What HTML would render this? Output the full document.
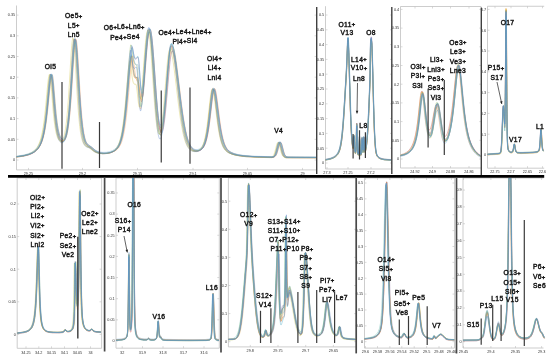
<!DOCTYPE html>
<html><head><meta charset="utf-8"><style>
html,body{margin:0;padding:0;background:#fff;width:550px;height:359px;overflow:hidden}
svg{display:block;font-family:"Liberation Sans", sans-serif}
text{-webkit-font-smoothing:antialiased}
.t{will-change:transform}
</style></head><body>
<svg width="550" height="359" viewBox="0 0 550 359">
<defs><clipPath id="c0"><rect x="15.5" y="5.5" width="301.5" height="353.5"/></clipPath><clipPath id="c1"><rect x="324.5" y="6.2" width="67.5" height="352.8"/></clipPath><clipPath id="c2"><rect x="399.5" y="6.5" width="82.0" height="352.5"/></clipPath><clipPath id="c3"><rect x="486.5" y="6.25" width="58.0" height="352.75"/></clipPath><clipPath id="c4"><rect x="16.2" y="178" width="85.8" height="181"/></clipPath><clipPath id="c5"><rect x="115" y="178" width="105" height="181"/></clipPath><clipPath id="c6"><rect x="227.4" y="178" width="129.1" height="181"/></clipPath><clipPath id="c7"><rect x="363.5" y="178" width="91.80000000000001" height="181"/></clipPath><clipPath id="c8"><rect x="462" y="178" width="83.5" height="181"/></clipPath></defs>
<rect width="550" height="359" fill="#fff"/>
<g style="filter:grayscale(1)">
<line x1="16.5" y1="5.5" x2="16.5" y2="169.9" stroke="#c0c0c0" stroke-width="0.8"/>
<line x1="16.5" y1="169.9" x2="316.6" y2="169.9" stroke="#c0c0c0" stroke-width="0.8"/>
<line x1="16.5" y1="15.1" x2="18.5" y2="15.1" stroke="#c0c0c0" stroke-width="0.6"/>
<line x1="314.6" y1="15.1" x2="316.6" y2="15.1" stroke="#c0c0c0" stroke-width="0.6"/>
<text x="15.2" y="16.4" font-size="3.8" text-anchor="end" fill="#333">0.35</text>
<line x1="16.5" y1="35.8" x2="18.5" y2="35.8" stroke="#c0c0c0" stroke-width="0.6"/>
<line x1="314.6" y1="35.8" x2="316.6" y2="35.8" stroke="#c0c0c0" stroke-width="0.6"/>
<text x="15.2" y="37.099999999999994" font-size="3.8" text-anchor="end" fill="#333">0.3</text>
<line x1="16.5" y1="56.5" x2="18.5" y2="56.5" stroke="#c0c0c0" stroke-width="0.6"/>
<line x1="314.6" y1="56.5" x2="316.6" y2="56.5" stroke="#c0c0c0" stroke-width="0.6"/>
<text x="15.2" y="57.8" font-size="3.8" text-anchor="end" fill="#333">0.25</text>
<line x1="16.5" y1="77.2" x2="18.5" y2="77.2" stroke="#c0c0c0" stroke-width="0.6"/>
<line x1="314.6" y1="77.2" x2="316.6" y2="77.2" stroke="#c0c0c0" stroke-width="0.6"/>
<text x="15.2" y="78.5" font-size="3.8" text-anchor="end" fill="#333">0.2</text>
<line x1="16.5" y1="97.9" x2="18.5" y2="97.9" stroke="#c0c0c0" stroke-width="0.6"/>
<line x1="314.6" y1="97.9" x2="316.6" y2="97.9" stroke="#c0c0c0" stroke-width="0.6"/>
<text x="15.2" y="99.2" font-size="3.8" text-anchor="end" fill="#333">0.15</text>
<line x1="16.5" y1="118.6" x2="18.5" y2="118.6" stroke="#c0c0c0" stroke-width="0.6"/>
<line x1="314.6" y1="118.6" x2="316.6" y2="118.6" stroke="#c0c0c0" stroke-width="0.6"/>
<text x="15.2" y="119.89999999999999" font-size="3.8" text-anchor="end" fill="#333">0.1</text>
<line x1="16.5" y1="139.3" x2="18.5" y2="139.3" stroke="#c0c0c0" stroke-width="0.6"/>
<line x1="314.6" y1="139.3" x2="316.6" y2="139.3" stroke="#c0c0c0" stroke-width="0.6"/>
<text x="15.2" y="140.60000000000002" font-size="3.8" text-anchor="end" fill="#333">0.05</text>
<line x1="16.5" y1="160.0" x2="18.5" y2="160.0" stroke="#c0c0c0" stroke-width="0.6"/>
<line x1="314.6" y1="160.0" x2="316.6" y2="160.0" stroke="#c0c0c0" stroke-width="0.6"/>
<text x="15.2" y="161.3" font-size="3.8" text-anchor="end" fill="#333">0</text>
<line x1="28.5" y1="169.9" x2="28.5" y2="167.9" stroke="#c0c0c0" stroke-width="0.6"/>
<text x="28.5" y="174.5" font-size="3.8" text-anchor="middle" fill="#333">29.25</text>
<line x1="82.5" y1="169.9" x2="82.5" y2="167.9" stroke="#c0c0c0" stroke-width="0.6"/>
<text x="82.5" y="174.5" font-size="3.8" text-anchor="middle" fill="#333">29.2</text>
<line x1="137.5" y1="169.9" x2="137.5" y2="167.9" stroke="#c0c0c0" stroke-width="0.6"/>
<text x="137.5" y="174.5" font-size="3.8" text-anchor="middle" fill="#333">29.15</text>
<line x1="193" y1="169.9" x2="193" y2="167.9" stroke="#c0c0c0" stroke-width="0.6"/>
<text x="193" y="174.5" font-size="3.8" text-anchor="middle" fill="#333">29.1</text>
<line x1="247.5" y1="169.9" x2="247.5" y2="167.9" stroke="#c0c0c0" stroke-width="0.6"/>
<text x="247.5" y="174.5" font-size="3.8" text-anchor="middle" fill="#333">29.05</text>
<line x1="302.5" y1="169.9" x2="302.5" y2="167.9" stroke="#c0c0c0" stroke-width="0.6"/>
<text x="302.5" y="174.5" font-size="3.8" text-anchor="middle" fill="#333">29</text>
</g>
<g clip-path="url(#c0)">
<polyline points="16.50,157.2 23.75,156.2 28.50,155.0 32.00,153.6 34.50,152.1 36.50,150.4 38.00,148.7 39.25,146.8 40.50,144.4 41.50,142.0 42.25,139.7 43.00,137.0 43.75,133.8 44.50,129.9 45.00,126.9 45.50,123.6 46.00,119.9 46.50,115.8 47.00,111.3 47.75,103.9 49.00,90.9 49.50,86.1 49.75,83.9 50.00,81.9 50.25,80.1 50.50,78.7 50.75,77.6 51.00,76.8 51.25,76.4 51.50,76.5 51.75,77.1 52.00,78.2 52.25,79.9 52.50,82.0 52.75,84.4 53.00,87.2 53.50,93.1 54.25,102.4 54.75,108.2 55.25,113.5 55.75,118.2 56.25,122.4 56.75,126.0 57.25,129.0 57.75,131.6 58.25,133.8 58.75,135.7 59.50,137.8 60.25,139.3 61.00,140.4 61.75,141.0 62.50,141.2 63.25,141.0 64.00,140.4 64.75,139.2 65.25,138.0 65.75,136.6 66.25,134.7 66.75,132.4 67.25,129.6 67.75,126.3 68.25,122.3 68.50,120.1 68.75,117.8 69.00,115.2 69.25,112.5 69.50,109.6 69.75,106.5 70.00,103.3 70.50,96.4 71.00,88.9 71.50,80.9 72.50,64.5 73.00,56.7 73.25,53.1 73.50,49.7 73.75,46.7 74.00,44.2 74.25,42.0 74.50,40.5 74.75,39.5 75.00,39.0 75.25,39.2 75.50,40.1 75.75,41.5 76.00,43.6 76.25,46.1 76.50,49.1 76.75,52.5 77.00,56.2 77.25,60.1 77.75,68.4 78.75,85.4 79.25,93.5 79.75,101.0 80.00,104.6 80.25,107.9 80.50,111.1 80.75,114.1 81.00,117.0 81.25,119.6 81.50,122.1 81.75,124.4 82.00,126.5 82.50,130.3 83.00,133.5 83.50,136.2 84.00,138.4 84.50,140.3 85.25,142.4 86.00,143.9 86.75,144.9 88.00,146.0 90.75,147.7 94.75,151.1 97.00,152.4 99.75,153.3 103.25,153.7 107.00,153.5 110.50,152.8 113.25,151.6 115.25,150.3 116.75,148.9 118.00,147.2 119.00,145.4 120.00,143.0 120.75,140.8 121.50,138.1 122.25,134.8 123.00,130.9 123.50,127.9 124.00,124.6 124.50,120.9 125.00,116.8 125.50,112.3 126.00,107.5 126.50,102.4 127.25,94.0 128.75,76.5 129.25,71.0 129.75,65.9 130.00,63.5 130.25,61.4 130.50,59.4 130.75,57.6 131.00,56.4 131.25,56.0 131.50,56.5 131.75,57.6 132.00,59.2 132.25,61.1 133.00,67.4 133.25,69.4 133.50,71.1 133.75,72.7 134.00,74.0 134.25,75.1 134.50,76.0 134.75,76.7 135.00,77.2 135.50,77.7 136.00,77.8 137.50,77.0 137.75,77.4 138.00,78.3 138.25,79.7 138.50,81.5 138.75,83.6 139.25,88.4 139.75,93.2 140.00,95.5 140.25,97.4 140.50,99.1 140.75,100.3 141.00,101.2 141.25,101.6 141.50,101.5 141.75,101.0 142.00,100.1 142.25,98.8 142.50,97.1 142.75,95.1 143.00,92.8 143.25,90.2 143.50,87.4 144.00,81.4 145.00,68.3 145.75,58.6 146.25,52.5 146.75,47.0 147.00,44.5 147.25,42.2 147.50,40.1 147.75,38.2 148.00,36.6 148.25,35.1 148.50,34.0 148.75,33.1 149.00,32.4 149.25,32.1 149.50,32.0 149.75,32.2 150.00,32.6 150.25,33.4 150.50,34.5 150.75,35.8 151.00,37.4 151.25,39.2 151.50,41.3 151.75,43.6 152.00,46.1 152.25,48.8 152.75,54.8 153.25,61.2 154.00,71.5 155.25,89.1 155.75,95.8 156.25,102.2 156.75,108.0 157.25,113.4 157.50,115.8 157.75,118.1 158.00,120.2 158.25,122.1 158.50,123.8 158.75,125.4 159.00,126.8 159.25,128.0 159.50,129.0 159.75,129.8 160.00,130.5 160.25,130.9 160.50,131.2 160.75,131.2 161.00,131.1 161.25,130.8 161.50,130.3 161.75,129.7 162.00,128.8 162.25,127.8 162.50,126.7 162.75,125.3 163.00,123.8 163.50,120.3 164.00,116.2 164.50,111.5 165.00,106.4 165.50,100.8 166.25,91.9 167.75,73.2 168.25,67.2 168.75,61.6 169.00,59.1 169.25,56.6 169.50,54.4 169.75,52.4 170.00,50.6 170.25,49.0 170.50,47.7 170.75,46.7 171.00,46.0 171.25,45.5 171.50,45.4 172.00,45.7 172.50,46.5 173.00,47.9 173.50,49.7 174.00,52.1 174.50,54.8 175.00,57.9 175.75,63.1 176.50,68.9 177.50,77.1 179.75,96.3 180.75,104.4 181.75,111.9 182.50,117.2 183.25,122.0 184.00,126.4 184.75,130.3 185.50,133.8 186.25,136.9 187.00,139.6 188.00,142.6 189.00,145.0 190.00,146.9 191.25,148.6 192.50,149.8 194.00,150.7 195.75,151.2 197.75,151.2 199.75,150.6 201.25,149.6 202.50,148.4 203.50,146.9 204.25,145.4 205.00,143.5 205.75,141.1 206.50,138.2 207.25,134.5 207.75,131.7 208.25,128.5 208.75,125.0 209.50,119.2 210.25,112.8 211.50,101.8 212.00,97.7 212.25,95.9 212.50,94.2 212.75,92.8 213.00,91.6 213.25,90.6 213.50,90.0 213.75,89.6 214.00,89.6 214.25,89.8 214.50,90.3 214.75,91.0 215.00,91.9 215.25,93.1 215.50,94.4 216.00,97.6 216.50,101.2 217.75,111.1 218.75,118.9 219.50,124.2 220.25,129.1 221.00,133.3 221.75,137.0 222.50,140.1 223.25,142.7 224.00,144.8 225.00,147.1 226.00,148.9 227.25,150.5 229.00,152.1 231.25,153.5 234.50,154.7 239.25,155.8 246.50,156.7 259.00,157.4 272.00,157.6 273.50,157.3 274.25,156.8 275.00,155.8 275.75,154.1 276.50,151.8 278.00,146.0 278.50,144.4 279.00,143.3 279.25,143.0 279.50,142.9 279.75,142.9 280.00,143.2 280.25,143.6 280.75,144.9 281.25,146.6 282.50,151.6 283.25,154.1 283.75,155.4 284.50,156.6 285.25,157.3 286.50,157.8 294.50,157.9 316.00,158.0" fill="none" stroke="#c0504d" stroke-width="0.45" stroke-opacity="0.9"/>
<polyline points="16.50,156.7 23.75,155.7 28.75,154.4 32.25,153.1 35.00,151.5 37.00,149.9 38.75,147.9 40.00,146.0 41.00,144.1 42.00,141.7 42.75,139.6 43.50,137.0 44.25,133.9 45.00,130.2 45.50,127.3 46.00,124.1 46.50,120.6 47.00,116.7 47.50,112.3 48.00,107.6 48.75,100.0 49.75,89.5 50.25,84.6 50.50,82.4 50.75,80.4 51.00,78.6 51.25,77.2 51.50,76.0 51.75,75.2 52.00,74.8 52.25,74.8 52.50,75.4 52.75,76.5 53.00,78.1 53.25,80.1 53.50,82.6 53.75,85.3 54.25,91.2 55.25,103.5 55.75,109.2 56.25,114.3 56.75,118.9 57.25,122.8 57.75,126.2 58.25,129.1 58.75,131.6 59.25,133.6 60.00,136.1 60.75,137.9 61.50,139.2 62.25,140.0 63.00,140.4 63.75,140.3 64.50,139.9 65.25,138.9 66.00,137.4 66.50,135.9 67.00,134.1 67.50,131.9 68.00,129.1 68.50,125.9 69.00,122.0 69.25,119.9 69.50,117.5 69.75,115.1 70.00,112.4 70.25,109.6 70.50,106.6 70.75,103.4 71.25,96.6 71.75,89.2 72.25,81.4 73.50,61.2 73.75,57.4 74.00,53.7 74.25,50.4 74.50,47.3 74.75,44.6 75.00,42.4 75.25,40.7 75.50,39.5 75.75,38.9 76.00,39.0 76.25,39.6 76.50,40.8 76.75,42.7 77.00,45.0 77.25,47.8 77.50,51.0 77.75,54.6 78.00,58.4 78.50,66.5 79.50,83.4 80.00,91.5 80.50,99.0 80.75,102.6 81.00,106.0 81.25,109.2 81.50,112.3 81.75,115.2 82.00,117.9 82.25,120.4 82.50,122.8 82.75,125.0 83.25,128.9 83.75,132.2 84.25,135.0 84.75,137.3 85.25,139.2 86.00,141.4 86.75,143.0 87.50,144.1 88.50,145.1 91.75,147.2 95.50,150.4 97.75,151.8 100.50,152.7 104.00,153.2 107.75,153.1 111.25,152.4 114.00,151.4 116.25,150.1 117.75,148.8 119.00,147.2 120.00,145.6 121.00,143.5 121.75,141.5 122.50,139.0 123.25,136.1 124.00,132.5 124.50,129.8 125.00,126.7 125.50,123.3 126.00,119.5 126.50,115.3 127.00,110.8 127.50,105.8 128.00,100.6 128.75,92.1 130.25,74.5 130.75,69.1 131.25,64.1 131.50,61.9 131.75,59.8 132.00,58.0 132.25,56.5 132.50,55.8 132.75,56.0 133.00,56.9 133.25,58.3 133.50,60.1 134.00,64.4 134.50,68.7 134.75,70.6 135.00,72.5 135.25,74.1 135.50,75.6 135.75,76.8 136.00,77.9 136.25,78.8 136.75,80.1 137.25,81.0 138.25,81.8 138.50,82.5 138.75,83.5 139.00,84.8 139.25,86.4 140.25,93.8 140.50,95.4 140.75,96.9 141.00,98.1 141.25,98.9 141.50,99.4 141.75,99.5 142.00,99.2 142.25,98.5 142.50,97.4 142.75,96.0 143.00,94.2 143.25,92.1 143.50,89.7 143.75,87.0 144.00,84.2 144.50,78.1 146.00,58.4 146.50,52.2 147.00,46.4 147.25,43.8 147.50,41.3 147.75,39.0 148.00,36.9 148.25,35.0 148.50,33.4 148.75,32.0 149.00,30.9 149.25,30.0 149.50,29.4 149.75,29.1 150.00,29.0 150.25,29.3 150.50,29.8 150.75,30.6 151.00,31.7 151.25,33.1 151.50,34.7 151.75,36.6 152.00,38.7 152.25,41.1 152.50,43.7 152.75,46.4 153.25,52.4 153.75,59.0 154.50,69.4 155.75,87.3 156.25,94.1 156.75,100.6 157.25,106.6 157.75,112.1 158.00,114.6 158.25,116.9 158.50,119.1 158.75,121.1 159.00,123.0 159.25,124.6 159.50,126.1 159.75,127.4 160.00,128.5 160.25,129.4 160.50,130.2 160.75,130.7 161.00,131.1 161.25,131.3 161.50,131.3 161.75,131.1 162.00,130.8 162.25,130.3 162.50,129.6 162.75,128.7 163.00,127.7 163.25,126.5 163.75,123.6 164.25,120.1 164.75,116.0 165.25,111.4 165.75,106.3 166.25,100.8 167.00,92.1 168.50,73.8 169.00,68.0 169.50,62.5 170.00,57.6 170.25,55.4 170.50,53.4 170.75,51.7 171.00,50.1 171.25,48.9 171.50,47.8 171.75,47.1 172.00,46.7 172.25,46.5 172.75,46.8 173.25,47.6 173.75,48.9 174.25,50.7 174.75,52.9 175.25,55.5 175.75,58.5 176.50,63.6 177.25,69.2 178.25,77.3 180.75,98.0 181.75,105.8 182.75,113.1 183.50,118.1 184.25,122.8 185.00,127.0 185.75,130.7 186.50,134.1 187.25,137.0 188.00,139.6 189.00,142.4 190.00,144.7 191.00,146.5 192.25,148.1 193.50,149.3 195.00,150.1 196.75,150.5 198.75,150.4 200.50,149.8 202.00,148.8 203.25,147.5 204.25,145.9 205.00,144.4 205.75,142.4 206.50,139.9 207.25,136.8 208.00,133.1 208.50,130.2 209.00,127.0 209.75,121.5 210.50,115.4 212.25,100.0 212.75,96.1 213.00,94.3 213.25,92.7 213.50,91.3 213.75,90.2 214.00,89.3 214.25,88.8 214.50,88.5 214.75,88.6 215.00,88.9 215.25,89.4 215.50,90.2 215.75,91.2 216.00,92.4 216.50,95.3 217.00,98.8 217.75,104.5 219.25,116.5 220.00,122.0 220.75,127.0 221.50,131.4 222.25,135.2 223.00,138.5 223.75,141.2 224.50,143.5 225.50,145.9 226.50,147.8 227.75,149.6 229.25,151.1 231.25,152.4 234.25,153.7 238.50,154.9 245.00,155.9 255.75,156.6 272.75,157.1 274.25,156.8 275.25,156.3 276.00,155.3 276.75,153.8 277.50,151.6 279.25,145.0 279.75,143.6 280.25,142.6 280.50,142.4 280.75,142.4 281.00,142.5 281.25,142.9 281.75,144.0 282.25,145.7 283.75,151.5 284.50,153.8 285.00,155.0 285.75,156.1 286.50,156.8 287.75,157.2 300.75,157.3 316.00,157.4" fill="none" stroke="#f79646" stroke-width="0.45" stroke-opacity="0.9"/>
<polyline points="16.50,156.5 23.25,155.4 27.75,154.2 31.00,152.8 33.50,151.2 35.25,149.6 36.75,147.8 38.00,145.8 39.00,143.7 40.00,141.1 40.75,138.7 41.50,135.9 42.25,132.4 42.75,129.7 43.25,126.7 43.75,123.2 44.25,119.4 44.75,115.2 45.25,110.5 45.75,105.4 46.50,97.3 47.25,89.1 47.75,84.0 48.00,81.7 48.25,79.6 48.50,77.8 48.75,76.4 49.00,75.3 49.25,74.6 49.50,74.3 49.75,74.6 50.00,75.5 50.25,76.9 50.50,78.9 50.75,81.3 51.00,84.1 51.25,87.1 52.50,103.2 53.00,109.2 53.50,114.6 53.75,117.0 54.25,121.4 54.75,125.2 55.25,128.5 55.75,131.2 56.25,133.5 56.75,135.4 57.50,137.6 58.25,139.2 59.00,140.3 59.75,141.0 60.50,141.3 61.25,141.1 62.00,140.6 62.75,139.5 63.50,137.8 64.00,136.2 64.50,134.3 65.00,131.8 65.50,128.9 66.00,125.3 66.25,123.3 66.50,121.1 66.75,118.7 67.00,116.1 67.25,113.4 67.50,110.5 67.75,107.4 68.00,104.1 68.25,100.6 68.50,97.0 69.00,89.3 69.50,81.0 70.50,63.9 70.75,59.8 71.00,55.8 71.25,52.0 71.50,48.6 71.75,45.5 72.00,42.9 72.25,40.8 72.50,39.2 72.75,38.3 73.00,38.0 73.25,38.4 73.50,39.5 73.75,41.3 74.00,43.6 74.25,46.5 74.50,49.8 74.75,53.5 75.00,57.5 75.50,66.0 76.50,83.7 77.00,92.2 77.25,96.2 77.50,100.1 77.75,103.8 78.00,107.3 78.25,110.6 78.50,113.8 78.75,116.7 79.00,119.4 79.25,122.0 79.50,124.4 79.75,126.6 80.00,128.6 80.50,132.2 81.00,135.2 81.50,137.6 82.00,139.6 82.50,141.3 83.25,143.2 84.00,144.5 85.00,145.7 86.25,146.5 88.75,147.5 90.50,148.9 93.25,151.1 95.50,152.4 98.25,153.2 101.75,153.6 105.75,153.4 109.25,152.7 112.00,151.7 114.00,150.5 115.50,149.2 116.75,147.6 117.75,145.9 118.75,143.8 119.50,141.7 120.25,139.1 121.00,136.1 121.75,132.3 122.25,129.5 122.75,126.2 123.25,122.7 123.75,118.7 124.25,114.4 124.75,109.6 125.25,104.6 126.00,96.4 127.50,79.2 128.00,73.9 128.50,69.0 128.75,66.8 129.00,64.8 129.25,63.0 129.50,61.6 129.75,60.9 130.00,61.2 130.25,62.1 130.50,63.7 130.75,65.6 131.50,72.2 131.75,74.3 132.00,76.2 132.25,77.9 132.50,79.3 132.75,80.6 133.00,81.6 133.25,82.4 133.50,83.1 134.00,83.9 134.50,84.2 135.75,84.2 136.00,84.5 136.25,85.2 136.50,86.5 136.75,88.2 137.00,90.1 137.50,94.7 138.00,99.4 138.25,101.5 138.50,103.4 138.75,104.9 139.00,106.1 139.25,106.8 139.50,107.1 139.75,106.9 140.00,106.3 140.25,105.2 140.50,103.7 140.75,101.9 141.00,99.7 141.25,97.2 141.50,94.5 141.75,91.5 142.25,85.1 143.00,74.7 144.00,60.6 144.50,54.0 145.00,48.0 145.25,45.2 145.50,42.6 145.75,40.2 146.00,38.0 146.25,36.1 146.50,34.4 146.75,33.0 147.00,31.9 147.25,31.0 147.50,30.5 147.75,30.2 148.00,30.3 148.25,30.6 148.50,31.3 148.75,32.3 149.00,33.6 149.25,35.2 149.50,37.1 149.75,39.2 150.00,41.6 150.25,44.2 150.50,47.0 150.75,50.0 151.25,56.5 151.75,63.6 153.50,89.4 154.00,96.5 154.50,103.2 155.00,109.4 155.50,115.0 155.75,117.5 156.00,119.9 156.25,122.1 156.50,124.1 156.75,126.0 157.00,127.6 157.25,129.1 157.50,130.4 157.75,131.5 158.00,132.4 158.25,133.1 158.50,133.6 158.75,133.9 159.00,134.1 159.25,134.0 159.50,133.8 159.75,133.4 160.00,132.9 160.25,132.1 160.50,131.2 160.75,130.1 161.00,128.9 161.50,125.9 162.00,122.2 162.50,118.0 163.00,113.3 163.50,108.1 164.00,102.4 164.75,93.4 166.25,74.9 166.75,69.0 167.25,63.7 167.50,61.2 167.75,58.9 168.00,56.9 168.25,55.0 168.50,53.4 168.75,52.1 169.00,51.1 169.25,50.3 169.50,49.9 169.75,49.7 170.25,50.0 170.75,50.9 171.25,52.3 171.75,54.2 172.25,56.6 172.75,59.3 173.25,62.5 174.00,67.8 174.75,73.6 176.00,84.0 177.75,98.7 178.75,106.7 179.50,112.3 180.25,117.6 181.00,122.4 181.75,126.8 182.50,130.8 183.25,134.3 184.00,137.3 184.75,140.0 185.50,142.3 186.50,144.7 187.50,146.7 188.75,148.5 190.00,149.8 191.50,150.7 193.25,151.3 195.50,151.3 197.50,150.8 199.25,149.9 200.50,148.9 201.50,147.6 202.50,145.9 203.25,144.1 204.00,141.9 204.75,139.0 205.25,136.8 205.75,134.2 206.25,131.3 206.75,128.0 207.25,124.4 208.00,118.3 208.75,111.6 209.75,102.5 210.25,98.2 210.50,96.3 210.75,94.5 211.00,93.0 211.25,91.7 211.50,90.6 211.75,89.9 212.00,89.5 212.25,89.5 212.50,89.7 212.75,90.2 213.00,90.9 213.25,91.9 213.50,93.1 213.75,94.5 214.25,97.8 214.75,101.5 216.50,115.8 217.25,121.6 218.00,126.8 218.75,131.4 219.50,135.4 220.25,138.8 221.00,141.6 221.75,143.9 222.50,145.8 223.50,147.8 224.75,149.6 226.25,151.2 228.25,152.6 231.00,153.8 235.25,155.0 241.50,155.9 252.00,156.6 270.00,157.1 271.75,156.9 272.75,156.3 273.50,155.3 274.00,154.3 274.50,153.0 275.25,150.3 276.50,145.3 277.00,143.7 277.25,143.1 277.50,142.7 277.75,142.4 278.00,142.3 278.25,142.5 278.50,142.8 278.75,143.3 279.25,144.8 280.00,147.8 281.00,151.8 281.50,153.5 282.00,154.8 282.50,155.7 283.25,156.6 284.25,157.1 286.75,157.3 316.00,157.4" fill="none" stroke="#d4c84a" stroke-width="0.45" stroke-opacity="0.9"/>
<polyline points="16.50,157.1 23.25,156.0 27.75,154.8 31.00,153.4 33.50,151.9 35.50,150.2 37.00,148.4 38.25,146.5 39.25,144.6 40.25,142.2 41.00,140.0 41.75,137.4 42.50,134.2 43.25,130.5 43.75,127.6 44.25,124.3 44.75,120.7 45.25,116.7 45.75,112.3 46.25,107.5 47.00,99.8 48.00,89.1 48.50,84.1 48.75,81.9 49.00,79.9 49.25,78.1 49.50,76.6 49.75,75.5 50.00,74.8 50.25,74.4 50.50,74.4 50.75,75.1 51.00,76.3 51.25,78.0 51.50,80.2 51.75,82.7 52.00,85.5 52.50,91.6 53.25,101.1 53.75,107.0 54.25,112.5 54.75,117.4 55.25,121.6 55.75,125.3 56.25,128.5 56.75,131.2 57.25,133.5 57.75,135.3 58.50,137.6 59.25,139.2 60.00,140.4 60.75,141.1 61.50,141.5 62.25,141.4 63.00,141.0 63.75,140.0 64.50,138.5 65.00,137.1 65.50,135.4 66.00,133.2 66.50,130.6 67.00,127.4 67.50,123.6 67.75,121.5 68.00,119.2 68.25,116.8 68.50,114.2 68.75,111.4 69.00,108.5 69.25,105.4 69.75,98.6 70.25,91.3 70.75,83.5 72.00,63.1 72.25,59.2 72.50,55.4 72.75,51.9 73.00,48.7 73.25,45.9 73.50,43.5 73.75,41.6 74.00,40.2 74.25,39.4 74.50,39.2 74.75,39.6 75.00,40.6 75.25,42.3 75.50,44.5 75.75,47.2 76.00,50.3 76.25,53.7 76.50,57.5 77.00,65.6 78.25,86.7 78.75,94.7 79.25,102.1 79.50,105.6 79.75,108.9 80.00,112.0 80.25,114.9 80.50,117.7 80.75,120.3 81.00,122.7 81.25,125.0 81.75,129.0 82.25,132.4 82.75,135.2 83.25,137.6 83.75,139.5 84.25,141.1 85.00,143.0 85.75,144.2 86.75,145.4 88.50,146.6 90.50,147.9 94.00,151.0 96.25,152.3 99.00,153.2 102.25,153.6 106.00,153.5 109.50,152.8 112.25,151.7 114.25,150.5 116.00,148.9 117.25,147.2 118.25,145.5 119.25,143.2 120.00,141.1 120.75,138.5 121.50,135.3 122.25,131.5 122.75,128.5 123.25,125.2 123.75,121.5 124.25,117.4 124.75,112.9 125.25,108.0 125.75,102.6 126.25,96.8 127.00,87.4 128.50,67.7 129.00,61.3 129.50,55.5 129.75,52.8 130.00,50.3 130.25,48.0 130.50,46.0 130.75,45.0 131.00,44.8 131.25,45.4 131.50,46.5 131.75,48.0 132.75,55.3 133.00,57.0 133.25,58.5 133.50,59.8 133.75,60.9 134.00,61.8 134.50,63.1 135.00,63.9 135.75,64.4 136.50,64.8 136.75,65.3 137.00,66.4 137.25,68.1 137.50,70.3 137.75,72.9 138.00,75.8 138.75,85.2 139.00,88.2 139.25,90.9 139.50,93.3 139.75,95.3 140.00,96.8 140.25,97.9 140.50,98.4 140.75,98.5 141.00,98.0 141.25,97.1 141.50,95.7 141.75,94.0 142.00,91.9 142.25,89.5 142.50,86.9 142.75,84.0 143.25,77.8 144.75,58.0 145.25,51.7 145.75,46.0 146.00,43.3 146.25,40.9 146.50,38.6 146.75,36.6 147.00,34.8 147.25,33.2 147.50,31.9 147.75,30.8 148.00,30.0 148.25,29.5 148.50,29.2 148.75,29.3 149.00,29.6 149.25,30.2 149.50,31.2 149.75,32.4 150.00,33.8 150.25,35.6 150.50,37.6 150.75,39.8 151.00,42.2 151.25,44.9 151.50,47.7 152.00,53.9 152.50,60.6 153.25,71.2 154.50,89.2 155.00,96.0 155.50,102.5 156.00,108.4 156.50,113.8 156.75,116.3 157.00,118.6 157.25,120.7 157.50,122.7 157.75,124.5 158.00,126.1 158.25,127.5 158.50,128.8 158.75,129.8 159.00,130.7 159.25,131.4 159.50,131.9 159.75,132.2 160.00,132.3 160.25,132.3 160.50,132.1 160.75,131.7 161.00,131.1 161.25,130.4 161.50,129.4 161.75,128.4 162.25,125.7 162.75,122.4 163.25,118.6 163.75,114.2 164.25,109.3 164.75,104.0 165.50,95.4 167.25,74.4 167.75,68.7 168.25,63.4 168.50,60.9 168.75,58.7 169.00,56.6 169.25,54.7 169.50,53.1 169.75,51.7 170.00,50.5 170.25,49.6 170.50,49.0 170.75,48.7 171.25,48.8 171.75,49.5 172.25,50.6 172.75,52.3 173.25,54.4 173.75,56.9 174.25,59.8 175.00,64.7 175.75,70.2 176.75,78.1 179.25,98.6 180.25,106.4 181.25,113.7 182.00,118.7 182.75,123.4 183.50,127.6 184.25,131.3 185.00,134.7 185.75,137.6 186.50,140.2 187.50,143.0 188.50,145.3 189.50,147.1 190.75,148.8 192.00,149.9 193.50,150.7 195.25,151.1 197.25,151.0 199.00,150.4 200.50,149.3 201.75,148.0 202.75,146.3 203.50,144.7 204.25,142.7 205.00,140.1 205.75,136.9 206.25,134.4 206.75,131.5 207.25,128.4 207.75,124.9 208.50,119.0 209.25,112.6 210.50,101.6 211.00,97.5 211.25,95.7 211.50,94.0 211.75,92.6 212.00,91.4 212.25,90.4 212.50,89.8 212.75,89.4 213.00,89.4 213.25,89.6 213.50,90.1 213.75,90.8 214.00,91.8 214.25,92.9 214.50,94.2 215.00,97.4 215.50,101.0 216.75,110.9 217.75,118.7 218.50,124.1 219.25,128.9 220.00,133.2 220.75,136.8 221.50,139.9 222.25,142.6 223.00,144.7 224.00,147.0 225.00,148.8 226.25,150.5 227.75,151.9 230.00,153.3 233.25,154.6 238.00,155.7 245.25,156.7 257.50,157.4 271.25,157.6 272.50,157.4 273.25,156.9 274.00,156.0 274.75,154.5 275.50,152.3 276.50,148.5 277.25,145.6 277.75,144.1 278.25,143.1 278.50,142.8 278.75,142.8 279.00,142.9 279.25,143.2 279.75,144.3 280.25,145.9 281.75,151.9 282.25,153.6 282.75,154.9 283.50,156.4 284.25,157.2 285.25,157.7 288.00,157.9 316.00,158.0" fill="none" stroke="#9bbb59" stroke-width="0.45" stroke-opacity="0.9"/>
<polyline points="16.50,156.8 23.75,155.7 28.50,154.6 32.00,153.2 34.50,151.7 36.50,150.1 38.25,148.1 39.50,146.3 40.50,144.4 41.50,142.0 42.25,139.8 43.00,137.2 43.75,134.1 44.50,130.3 45.00,127.5 45.50,124.2 46.00,120.6 46.50,116.6 47.00,112.2 47.50,107.4 48.25,99.7 49.25,89.0 49.75,84.2 50.00,81.9 50.25,80.0 50.50,78.3 50.75,76.9 51.00,75.8 51.25,75.1 51.50,74.8 51.75,75.0 52.00,75.8 52.25,77.1 52.50,78.9 52.75,81.2 53.00,83.8 53.25,86.6 53.75,92.8 54.50,102.2 55.00,108.1 55.50,113.4 56.00,118.2 56.50,122.4 57.00,125.9 57.50,129.0 58.00,131.6 58.50,133.8 59.00,135.6 59.75,137.7 60.50,139.3 61.25,140.4 62.00,141.0 62.75,141.3 63.50,141.2 64.25,140.7 65.00,139.7 65.75,138.1 66.25,136.7 66.75,134.9 67.25,132.6 67.75,129.9 68.25,126.6 68.75,122.7 69.00,120.5 69.25,118.2 69.50,115.7 69.75,113.0 70.00,110.2 70.25,107.1 70.50,103.9 71.00,97.1 71.50,89.6 72.00,81.7 73.00,65.3 73.50,57.5 73.75,53.9 74.00,50.5 74.25,47.5 74.50,44.9 74.75,42.8 75.00,41.2 75.25,40.1 75.50,39.7 75.75,39.9 76.00,40.7 76.25,42.1 76.50,44.1 76.75,46.7 77.00,49.6 77.25,53.0 77.50,56.7 77.75,60.6 78.25,68.9 79.25,85.9 79.75,93.9 80.25,101.4 80.50,104.9 80.75,108.2 81.00,111.4 81.25,114.4 81.50,117.2 81.75,119.8 82.00,122.2 82.25,124.5 82.50,126.6 83.00,130.4 83.50,133.5 84.00,136.1 84.50,138.3 85.00,140.1 85.75,142.2 86.50,143.6 87.50,144.9 88.75,145.9 91.25,147.3 95.25,150.7 97.50,152.0 100.25,152.9 103.75,153.3 107.50,153.1 111.00,152.4 113.75,151.3 115.75,150.0 117.25,148.6 118.50,147.0 119.50,145.3 120.50,143.1 121.25,140.9 122.00,138.3 122.75,135.2 123.50,131.4 124.00,128.5 124.50,125.2 125.00,121.6 125.50,117.5 126.00,113.0 126.50,108.2 127.00,102.8 127.50,97.1 128.25,87.9 129.75,68.5 130.25,62.3 130.75,56.6 131.00,53.9 131.25,51.4 131.50,49.2 131.75,47.5 132.00,46.8 132.25,46.8 132.50,47.5 132.75,48.5 133.25,51.4 133.75,54.3 134.00,55.6 134.25,56.7 134.50,57.6 134.75,58.3 135.00,58.8 135.25,59.1 135.75,59.2 136.50,58.6 137.50,57.5 138.00,57.2 138.25,57.7 138.50,58.9 138.75,60.8 139.00,63.4 139.25,66.4 139.50,69.8 140.25,80.9 140.50,84.4 140.75,87.7 141.00,90.6 141.25,93.0 141.50,94.9 141.75,96.2 142.00,97.0 142.25,97.3 142.50,97.0 142.75,96.2 143.00,94.9 143.25,93.3 143.50,91.2 143.75,88.8 144.00,86.2 144.25,83.3 144.75,77.1 146.25,57.2 146.75,51.0 147.25,45.3 147.50,42.7 147.75,40.3 148.00,38.1 148.25,36.1 148.50,34.4 148.75,32.9 149.00,31.7 149.25,30.7 149.50,30.0 149.75,29.6 150.00,29.5 150.25,29.6 150.50,30.1 150.75,30.9 151.00,31.9 151.25,33.2 151.50,34.9 151.75,36.7 152.00,38.9 152.25,41.2 152.50,43.8 152.75,46.6 153.00,49.5 153.50,55.9 154.00,62.7 155.00,77.1 155.75,88.0 156.25,94.9 156.75,101.5 157.25,107.6 157.75,113.2 158.00,115.7 158.25,118.1 158.50,120.4 158.75,122.4 159.00,124.3 159.25,126.0 159.50,127.5 159.75,128.9 160.00,130.0 160.25,131.0 160.50,131.8 160.75,132.4 161.00,132.8 161.25,133.1 161.50,133.2 161.75,133.0 162.00,132.8 162.25,132.3 162.50,131.7 162.75,130.9 163.00,130.0 163.50,127.6 164.00,124.5 164.50,120.9 165.00,116.8 165.50,112.1 166.00,107.0 166.75,98.7 167.75,86.9 168.75,75.1 169.25,69.5 169.75,64.4 170.00,62.0 170.25,59.8 170.50,57.8 170.75,56.1 171.00,54.5 171.25,53.2 171.50,52.2 171.75,51.5 172.00,51.0 172.25,50.8 172.75,51.0 173.25,51.8 173.75,53.0 174.25,54.8 174.75,56.9 175.25,59.5 175.75,62.5 176.50,67.4 177.25,72.9 178.50,82.8 180.50,99.0 181.50,106.7 182.50,113.9 183.25,118.9 184.00,123.4 184.75,127.6 185.50,131.4 186.25,134.7 187.00,137.6 187.75,140.1 188.75,142.9 189.75,145.2 190.75,146.9 192.00,148.6 193.50,149.9 195.25,150.7 197.25,150.9 199.25,150.6 201.00,149.8 202.25,148.8 203.50,147.2 204.50,145.5 205.25,143.7 206.00,141.4 206.75,138.6 207.50,135.2 208.00,132.4 208.50,129.4 209.00,126.0 209.75,120.3 210.50,114.0 212.00,100.6 212.50,96.6 212.75,94.8 213.00,93.1 213.25,91.7 213.50,90.6 213.75,89.7 214.00,89.1 214.25,88.9 214.50,88.9 214.75,89.2 215.00,89.8 215.25,90.6 215.50,91.6 215.75,92.8 216.25,95.8 216.75,99.3 217.50,105.1 218.75,115.2 219.50,120.9 220.25,126.1 221.00,130.7 221.75,134.7 222.50,138.1 223.25,140.9 224.00,143.3 224.75,145.3 225.75,147.4 227.00,149.3 228.50,150.9 230.50,152.4 233.25,153.7 237.25,154.9 243.25,155.9 253.00,156.6 271.00,157.2 273.75,157.1 274.75,156.7 275.50,156.0 276.25,154.8 276.75,153.6 277.50,151.1 279.00,145.3 279.50,143.7 280.00,142.7 280.25,142.4 280.50,142.3 280.75,142.4 281.00,142.6 281.25,143.1 281.75,144.5 282.50,147.3 283.50,151.4 284.00,153.1 284.50,154.5 285.00,155.5 285.75,156.5 286.75,157.1 288.75,157.4 316.00,157.5" fill="none" stroke="#8064a2" stroke-width="0.45" stroke-opacity="0.9"/>
<polyline points="16.50,156.8 23.50,155.8 28.25,154.6 31.75,153.2 34.25,151.7 36.25,150.0 37.75,148.3 39.00,146.4 40.00,144.4 41.00,141.9 41.75,139.6 42.50,136.9 43.25,133.6 43.75,131.0 44.25,128.1 44.75,124.8 45.25,121.1 45.75,117.0 46.25,112.4 46.75,107.5 47.50,99.4 48.50,88.4 49.00,83.4 49.25,81.2 49.50,79.2 49.75,77.5 50.00,76.2 50.25,75.3 50.50,74.7 50.75,74.6 51.00,75.2 51.25,76.3 51.50,78.0 51.75,80.2 52.00,82.8 52.25,85.7 52.75,92.1 53.50,101.9 54.00,108.0 54.50,113.6 54.75,116.2 55.00,118.5 55.50,122.8 56.00,126.5 56.50,129.6 57.00,132.2 57.50,134.4 58.00,136.2 58.75,138.4 59.50,139.9 60.25,141.0 61.00,141.6 61.75,141.9 62.50,141.7 63.25,141.2 64.00,140.2 64.75,138.5 65.25,137.0 65.75,135.1 66.25,132.7 66.75,129.8 67.25,126.4 67.50,124.4 67.75,122.2 68.00,119.9 68.25,117.4 68.50,114.7 68.75,111.9 69.00,108.8 69.25,105.6 69.50,102.1 69.75,98.5 70.25,90.9 70.75,82.7 72.00,61.4 72.25,57.4 72.50,53.6 72.75,50.1 73.00,46.9 73.25,44.2 73.50,42.0 73.75,40.4 74.00,39.4 74.25,39.1 74.50,39.4 74.75,40.4 75.00,42.1 75.25,44.4 75.50,47.2 75.75,50.4 76.00,54.1 76.25,58.1 76.75,66.6 77.75,84.3 78.25,92.8 78.50,96.8 78.75,100.7 79.00,104.4 79.25,107.9 79.50,111.2 79.75,114.3 80.00,117.2 80.25,120.0 80.50,122.5 80.75,124.9 81.00,127.0 81.25,129.1 81.75,132.6 82.25,135.5 82.75,138.0 83.25,140.0 83.75,141.6 84.50,143.4 85.25,144.7 86.25,145.8 87.50,146.6 89.75,147.6 91.75,149.2 94.25,151.3 96.50,152.5 99.25,153.3 102.75,153.7 106.75,153.5 110.25,152.8 113.00,151.7 115.00,150.5 116.50,149.1 117.75,147.5 118.75,145.8 119.75,143.5 120.50,141.3 121.25,138.7 122.00,135.5 122.75,131.6 123.25,128.5 123.75,125.2 124.25,121.4 124.75,117.2 125.25,112.7 125.75,107.7 126.25,102.4 127.00,93.7 128.50,75.7 129.00,70.1 129.50,65.0 129.75,62.7 130.00,60.6 130.25,58.7 130.50,57.5 130.75,57.1 131.00,57.6 131.25,58.7 131.50,60.3 132.00,64.4 132.50,68.5 132.75,70.4 133.00,72.0 133.25,73.5 133.50,74.7 133.75,75.7 134.00,76.5 134.25,77.1 134.75,77.9 135.50,78.3 136.50,78.4 136.75,78.7 137.00,79.6 137.25,81.1 137.50,83.0 137.75,85.4 138.00,88.1 138.75,97.0 139.00,99.8 139.25,102.3 139.50,104.5 139.75,106.3 140.00,107.6 140.25,108.5 140.50,108.8 140.75,108.6 141.00,108.0 141.25,106.9 141.50,105.4 141.75,103.5 142.00,101.2 142.25,98.6 142.50,95.8 142.75,92.8 143.25,86.2 144.00,75.6 145.00,61.3 145.50,54.5 146.00,48.3 146.25,45.4 146.50,42.7 146.75,40.2 147.00,37.9 147.25,35.9 147.50,34.2 147.75,32.7 148.00,31.5 148.25,30.6 148.50,30.0 148.75,29.7 149.00,29.7 149.25,30.0 149.50,30.6 149.75,31.6 150.00,32.8 150.25,34.4 150.50,36.2 150.75,38.4 151.00,40.7 151.25,43.4 151.50,46.2 151.75,49.2 152.25,55.8 152.75,62.9 153.75,77.9 154.50,89.1 155.00,96.3 155.50,103.1 156.00,109.4 156.50,115.1 156.75,117.7 157.00,120.1 157.25,122.3 157.50,124.4 157.75,126.3 158.00,128.0 158.25,129.5 158.50,130.8 158.75,131.9 159.00,132.8 159.25,133.5 159.50,134.1 159.75,134.5 160.00,134.6 160.25,134.6 160.50,134.4 160.75,134.0 161.00,133.5 161.25,132.8 161.50,131.8 161.75,130.8 162.00,129.5 162.25,128.1 162.50,126.5 163.00,122.8 163.50,118.6 164.00,113.8 164.50,108.4 165.00,102.6 165.75,93.3 167.25,73.9 167.75,67.7 168.25,61.9 168.50,59.2 168.75,56.7 169.00,54.5 169.25,52.4 169.50,50.6 169.75,49.1 170.00,47.8 170.25,46.9 170.50,46.2 170.75,45.9 171.00,45.9 171.50,46.4 172.00,47.4 172.50,49.0 173.00,51.2 173.50,53.8 174.00,56.8 174.50,60.2 175.25,65.8 176.00,72.0 177.50,85.1 179.00,98.2 180.00,106.5 180.75,112.3 181.50,117.7 182.25,122.6 183.00,127.0 183.75,131.0 184.50,134.5 185.25,137.6 186.00,140.2 186.75,142.5 187.75,144.9 188.75,146.9 190.00,148.6 191.25,149.8 192.75,150.7 194.50,151.2 196.50,151.2 198.50,150.6 200.25,149.6 201.50,148.4 202.50,146.9 203.25,145.4 204.00,143.6 204.75,141.2 205.50,138.1 206.00,135.7 206.50,133.0 207.00,129.9 207.50,126.4 208.00,122.6 208.75,116.2 209.75,106.9 210.50,100.0 211.00,95.8 211.25,93.9 211.50,92.3 211.75,90.9 212.00,89.8 212.25,88.9 212.50,88.5 212.75,88.3 213.00,88.5 213.25,89.0 213.50,89.7 213.75,90.7 214.00,91.8 214.25,93.2 214.75,96.6 215.25,100.4 217.25,117.0 218.00,122.8 218.75,128.0 219.50,132.5 220.25,136.3 221.00,139.6 221.75,142.3 222.50,144.5 223.25,146.3 224.25,148.2 225.50,150.0 227.00,151.4 229.00,152.8 232.00,154.1 236.25,155.2 242.75,156.1 253.75,156.8 271.50,157.2 273.00,157.0 273.75,156.5 274.50,155.6 275.00,154.6 275.50,153.2 276.25,150.6 277.50,145.5 278.00,143.8 278.25,143.1 278.50,142.7 278.75,142.3 279.00,142.2 279.25,142.3 279.50,142.6 279.75,143.1 280.25,144.6 281.00,147.6 282.00,151.8 282.50,153.5 283.00,154.8 283.50,155.8 284.25,156.7 285.25,157.2 287.75,157.4 316.00,157.5" fill="none" stroke="#e8a33d" stroke-width="0.45" stroke-opacity="0.9"/>
<polyline points="16.50,156.8 23.75,155.8 28.50,154.6 32.00,153.3 34.50,151.9 36.50,150.2 38.00,148.6 39.25,146.8 40.50,144.4 41.50,142.0 42.25,139.7 43.00,137.0 43.75,133.8 44.25,131.2 44.75,128.4 45.25,125.1 45.75,121.5 46.25,117.5 46.75,113.0 47.25,108.1 48.00,100.2 49.00,89.2 49.50,84.1 49.75,81.8 50.00,79.8 50.25,78.0 50.50,76.6 50.75,75.6 51.00,74.9 51.25,74.7 51.50,75.1 51.75,76.0 52.00,77.5 52.25,79.6 52.50,82.1 52.75,84.9 53.25,91.1 54.00,100.9 54.50,107.1 55.00,112.7 55.25,115.3 55.50,117.8 56.00,122.1 56.50,125.9 57.00,129.1 57.50,131.8 58.00,134.1 58.50,136.0 59.25,138.2 60.00,139.9 60.75,141.0 61.50,141.7 62.25,142.1 63.00,142.1 63.75,141.7 64.50,140.8 65.25,139.4 65.75,138.1 66.25,136.5 66.75,134.4 67.25,131.9 67.75,128.8 68.25,125.1 68.50,123.0 68.75,120.8 69.00,118.3 69.25,115.7 69.50,113.0 69.75,110.0 70.00,106.8 70.25,103.5 70.50,100.0 71.00,92.6 71.50,84.6 72.75,63.9 73.00,59.9 73.25,56.2 73.50,52.7 73.75,49.6 74.00,46.9 74.25,44.6 74.50,43.0 74.75,41.9 75.00,41.4 75.25,41.6 75.50,42.5 75.75,44.0 76.00,46.1 76.25,48.7 76.50,51.9 76.75,55.3 77.00,59.2 77.25,63.2 78.00,76.1 78.75,88.9 79.25,96.9 79.50,100.8 79.75,104.4 80.00,107.9 80.25,111.1 80.50,114.2 80.75,117.1 81.00,119.8 81.25,122.4 81.50,124.7 81.75,126.9 82.00,128.9 82.50,132.4 83.00,135.4 83.50,137.8 84.00,139.8 84.50,141.4 85.25,143.3 86.00,144.6 87.00,145.7 88.50,146.6 90.50,147.6 92.75,149.4 95.00,151.2 97.25,152.4 100.00,153.2 103.50,153.5 107.50,153.3 111.00,152.5 113.75,151.3 115.75,150.0 117.25,148.5 118.50,146.7 119.50,144.8 120.25,143.0 121.00,140.7 121.75,138.0 122.50,134.7 123.00,132.1 123.50,129.1 124.00,125.9 124.50,122.2 125.00,118.1 125.50,113.7 126.00,108.8 126.50,103.5 127.00,97.9 127.75,88.9 129.00,73.6 129.50,67.9 129.75,65.2 130.00,62.7 130.25,60.4 130.50,58.3 130.75,56.4 131.00,55.1 131.25,54.7 131.50,55.3 131.75,56.4 132.00,58.1 132.50,62.3 133.00,66.7 133.25,68.6 133.50,70.4 133.75,72.0 134.00,73.3 134.25,74.4 134.50,75.3 134.75,75.9 135.25,76.8 135.75,77.2 137.00,77.5 137.25,77.8 137.50,78.6 137.75,80.1 138.00,82.0 138.25,84.3 138.50,86.9 139.25,95.4 139.50,98.1 139.75,100.6 140.00,102.7 140.25,104.4 140.50,105.6 140.75,106.4 141.00,106.7 141.25,106.4 141.50,105.7 141.75,104.6 142.00,103.0 142.25,101.1 142.50,98.9 142.75,96.3 143.00,93.5 143.25,90.5 143.75,84.0 145.25,63.2 145.75,56.5 146.25,50.4 146.50,47.5 146.75,44.9 147.00,42.4 147.25,40.2 147.50,38.2 147.75,36.4 148.00,34.9 148.25,33.7 148.50,32.7 148.75,32.0 149.00,31.7 149.25,31.6 149.50,31.8 149.75,32.4 150.00,33.3 150.25,34.4 150.50,35.9 150.75,37.6 151.00,39.6 151.25,41.9 151.50,44.4 151.75,47.1 152.00,50.1 152.50,56.4 153.00,63.3 153.75,74.2 154.75,89.0 155.25,96.1 155.75,102.8 156.25,109.1 156.75,114.8 157.00,117.4 157.25,119.8 157.50,122.1 157.75,124.2 158.00,126.1 158.25,127.9 158.50,129.4 158.75,130.8 159.00,132.0 159.25,133.0 159.50,133.8 159.75,134.5 160.00,134.9 160.25,135.2 160.50,135.3 160.75,135.2 161.00,134.9 161.25,134.5 161.50,133.9 161.75,133.1 162.00,132.2 162.25,131.0 162.50,129.7 162.75,128.3 163.25,124.9 163.75,120.9 164.25,116.3 164.75,111.2 165.25,105.6 165.75,99.5 166.50,89.9 167.75,73.4 168.25,67.1 168.75,61.1 169.00,58.4 169.25,55.8 169.50,53.4 169.75,51.2 170.00,49.3 170.25,47.6 170.50,46.3 170.75,45.2 171.00,44.4 171.25,44.0 171.50,43.9 172.00,44.2 172.50,45.1 173.00,46.7 173.50,48.7 174.00,51.2 174.50,54.2 175.00,57.6 175.75,63.2 176.50,69.4 177.75,80.4 179.50,95.9 180.50,104.4 181.25,110.3 182.00,115.9 182.75,121.0 183.50,125.6 184.25,129.7 185.00,133.4 185.75,136.6 186.50,139.3 187.25,141.7 188.25,144.3 189.25,146.3 190.50,148.2 191.75,149.5 193.25,150.5 195.00,151.0 197.00,151.1 199.00,150.6 200.75,149.7 202.00,148.6 203.00,147.3 204.00,145.4 204.75,143.6 205.50,141.2 206.25,138.3 206.75,135.9 207.25,133.2 207.75,130.1 208.25,126.7 208.75,123.0 209.50,116.7 210.50,107.5 211.25,100.7 211.75,96.5 212.00,94.6 212.25,92.9 212.50,91.5 212.75,90.3 213.00,89.5 213.25,88.9 213.50,88.7 213.75,88.9 214.00,89.3 214.25,89.9 214.50,90.8 214.75,92.0 215.00,93.3 215.50,96.5 216.00,100.2 217.00,108.5 218.00,116.7 218.75,122.4 219.50,127.6 220.25,132.1 221.00,136.0 221.75,139.3 222.50,142.0 223.25,144.3 224.00,146.1 225.00,148.0 226.25,149.8 227.75,151.3 229.75,152.7 232.75,154.0 237.00,155.1 243.50,156.0 254.50,156.7 272.00,157.2 273.50,156.9 274.50,156.3 275.25,155.3 275.75,154.3 276.25,152.9 277.00,150.2 278.25,145.2 278.75,143.6 279.00,143.0 279.25,142.6 279.50,142.3 279.75,142.3 280.00,142.4 280.25,142.8 280.50,143.3 281.00,144.9 282.00,149.0 282.75,152.0 283.25,153.6 283.75,154.9 284.50,156.2 285.25,156.9 286.50,157.3 304.75,157.4 316.00,157.4" fill="none" stroke="#4fb0a0" stroke-width="0.45" stroke-opacity="0.9"/>
<polyline points="16.50,156.6 23.75,155.5 28.50,154.3 32.00,153.0 34.75,151.3 36.75,149.7 38.50,147.6 39.75,145.7 40.75,143.8 41.75,141.3 42.50,139.1 43.25,136.5 44.00,133.3 44.75,129.6 45.25,126.7 45.75,123.5 46.25,119.9 46.75,116.0 47.25,111.6 47.75,106.9 48.50,99.4 49.50,89.0 50.00,84.2 50.25,82.0 50.50,80.0 50.75,78.3 51.00,76.8 51.25,75.7 51.50,74.9 51.75,74.5 52.00,74.5 52.25,75.1 52.50,76.1 52.75,77.7 53.00,79.7 53.25,82.1 53.50,84.8 54.00,90.6 55.00,102.8 55.50,108.5 56.00,113.6 56.50,118.1 57.00,122.1 57.50,125.5 58.00,128.4 58.50,130.9 59.00,133.0 59.50,134.7 60.25,136.7 61.00,138.2 61.75,139.1 62.50,139.6 63.25,139.7 64.00,139.2 64.75,138.3 65.50,136.8 66.00,135.3 66.50,133.5 67.00,131.3 67.50,128.5 68.00,125.3 68.50,121.4 69.00,117.0 69.25,114.5 69.50,111.9 69.75,109.1 70.25,103.0 70.75,96.3 71.25,89.0 71.75,81.4 72.75,65.5 73.25,57.9 73.50,54.4 73.75,51.1 74.00,48.1 74.25,45.5 74.50,43.3 74.75,41.6 75.00,40.5 75.25,39.9 75.50,39.9 75.75,40.4 76.00,41.6 76.25,43.4 76.50,45.6 76.75,48.3 77.00,51.4 77.25,54.8 77.50,58.5 78.00,66.5 79.00,83.0 79.50,90.9 80.00,98.4 80.50,105.3 80.75,108.6 81.00,111.6 81.25,114.5 81.50,117.2 81.75,119.7 82.00,122.1 82.50,126.4 83.00,130.0 83.50,133.1 84.00,135.7 84.50,137.8 85.00,139.6 85.75,141.7 86.50,143.1 87.50,144.4 88.75,145.4 91.25,147.0 95.25,150.4 97.50,151.7 100.25,152.6 103.75,153.0 107.50,152.8 111.00,152.1 113.75,151.0 115.75,149.6 117.25,148.2 118.50,146.4 119.50,144.6 120.50,142.2 121.25,140.0 122.00,137.3 122.75,134.0 123.50,130.1 124.00,127.1 124.50,123.8 125.00,120.0 125.50,115.9 126.00,111.4 126.50,106.5 127.00,101.2 127.50,95.5 128.25,86.4 129.75,67.6 130.25,61.7 130.75,56.2 131.25,51.3 131.50,49.4 131.75,48.3 132.00,47.9 132.25,48.2 132.50,48.9 132.75,49.9 133.75,54.7 134.00,55.8 134.25,56.6 134.50,57.3 134.75,57.7 135.25,58.2 135.75,58.2 136.75,57.2 137.50,56.4 137.75,56.3 138.00,56.6 138.25,57.6 138.50,59.2 138.75,61.4 139.00,64.1 139.25,67.2 139.75,74.0 140.25,80.7 140.50,83.8 140.75,86.6 141.00,89.0 141.25,90.9 141.50,92.3 141.75,93.2 142.00,93.6 142.25,93.4 142.50,92.8 142.75,91.7 143.00,90.2 143.25,88.3 143.50,86.1 143.75,83.7 144.00,81.0 144.50,75.0 146.00,56.0 146.50,50.0 147.00,44.5 147.25,41.9 147.50,39.6 147.75,37.5 148.00,35.6 148.25,33.9 148.50,32.4 148.75,31.2 149.00,30.2 149.25,29.5 149.50,29.1 149.75,28.9 150.00,29.0 150.25,29.4 150.50,30.1 150.75,31.0 151.00,32.2 151.25,33.7 151.50,35.4 151.75,37.4 152.00,39.6 152.25,42.0 152.50,44.6 153.00,50.4 153.50,56.7 154.25,66.8 155.50,84.3 156.25,94.3 156.75,100.5 157.25,106.2 157.75,111.4 158.00,113.7 158.25,115.9 158.50,117.9 158.75,119.7 159.00,121.4 159.25,122.8 159.50,124.1 159.75,125.2 160.00,126.1 160.25,126.8 160.50,127.3 160.75,127.6 161.00,127.7 161.25,127.7 161.50,127.4 161.75,127.0 162.00,126.3 162.25,125.5 162.50,124.5 162.75,123.4 163.00,122.0 163.25,120.5 163.75,117.1 164.25,113.0 164.75,108.4 165.25,103.3 165.75,97.8 166.50,89.0 168.00,70.7 168.50,64.9 169.00,59.6 169.25,57.1 169.50,54.8 169.75,52.6 170.00,50.7 170.25,49.0 170.50,47.5 170.75,46.3 171.00,45.4 171.25,44.7 171.50,44.4 171.75,44.3 172.25,44.6 172.75,45.5 173.25,46.8 173.75,48.7 174.25,51.0 174.75,53.6 175.25,56.7 176.00,61.8 176.75,67.5 177.75,75.5 180.25,96.4 181.25,104.4 182.25,111.7 183.00,116.8 183.75,121.6 184.50,125.8 185.25,129.7 186.00,133.1 186.75,136.2 187.50,138.8 188.50,141.7 189.50,144.1 190.50,146.0 191.75,147.8 193.00,149.0 194.50,149.9 196.25,150.3 198.25,150.3 200.00,149.7 201.50,148.7 202.75,147.4 203.75,145.8 204.50,144.3 205.25,142.3 206.00,139.8 206.75,136.8 207.50,133.1 208.25,128.7 209.00,123.6 209.75,117.8 210.75,109.4 211.75,101.0 212.25,97.2 212.50,95.5 212.75,94.0 213.00,92.7 213.25,91.6 213.50,90.8 213.75,90.3 214.00,90.1 214.25,90.1 214.50,90.4 214.75,91.0 215.00,91.7 215.25,92.7 215.50,93.9 216.00,96.7 216.50,100.0 217.25,105.5 218.75,117.0 219.50,122.4 220.25,127.2 221.00,131.5 221.75,135.3 222.50,138.5 223.25,141.2 224.00,143.5 225.00,145.9 226.00,147.8 227.25,149.5 228.75,151.0 230.75,152.4 233.75,153.7 238.00,154.9 244.50,155.8 255.25,156.6 272.25,157.1 273.75,156.8 274.75,156.3 275.50,155.4 276.25,153.9 277.00,151.7 278.00,148.0 278.75,145.3 279.25,143.7 279.75,142.7 280.00,142.5 280.25,142.4 280.50,142.4 280.75,142.7 281.25,143.7 281.75,145.2 283.25,151.0 284.00,153.5 284.50,154.7 285.25,156.0 286.00,156.7 287.25,157.2 293.00,157.3 316.00,157.4" fill="none" stroke="#4bacc6" stroke-width="0.45" stroke-opacity="0.9"/>
<polyline points="16.50,156.2 23.25,155.1 28.00,153.9 31.50,152.4 34.00,150.9 36.00,149.2 37.75,147.1 39.00,145.2 40.00,143.3 41.00,140.9 41.75,138.7 42.50,136.1 43.25,133.0 44.00,129.3 44.50,126.5 45.00,123.3 45.50,119.8 46.00,116.0 46.50,111.7 47.00,107.2 47.75,99.8 49.00,87.0 49.50,82.4 49.75,80.4 50.00,78.5 50.25,76.9 50.50,75.6 50.75,74.7 51.00,74.1 51.25,73.8 51.50,74.0 51.75,74.7 52.00,76.0 52.25,77.7 52.50,79.8 52.75,82.2 53.00,84.9 53.50,90.7 54.50,102.7 55.00,108.2 55.50,113.2 56.00,117.7 56.50,121.5 57.00,124.9 57.50,127.8 58.00,130.2 58.50,132.3 59.25,134.7 60.00,136.5 60.75,137.8 61.50,138.6 62.25,138.9 63.00,138.8 63.75,138.2 64.50,137.0 65.00,135.9 65.50,134.4 66.00,132.5 66.50,130.3 67.00,127.5 67.50,124.3 68.00,120.4 68.50,116.0 69.00,110.9 69.50,105.2 70.00,98.9 70.50,92.0 71.00,84.6 72.00,68.9 72.50,61.1 72.75,57.4 73.00,53.8 73.25,50.5 73.50,47.4 73.75,44.7 74.00,42.4 74.25,40.6 74.50,39.2 74.75,38.4 75.00,38.2 75.25,38.5 75.50,39.4 75.75,40.9 76.00,42.9 76.25,45.4 76.50,48.3 76.75,51.5 77.00,55.1 77.25,58.8 77.75,66.8 78.75,83.2 79.25,91.0 79.75,98.4 80.25,105.1 80.50,108.3 80.75,111.3 81.00,114.1 81.25,116.8 81.50,119.2 82.00,123.7 82.50,127.6 83.00,130.9 83.50,133.7 84.00,136.1 84.50,138.0 85.25,140.3 86.00,141.9 86.75,143.1 87.75,144.2 91.25,146.8 94.50,149.6 96.75,151.0 99.25,151.9 102.50,152.4 106.25,152.3 109.75,151.6 112.50,150.6 114.75,149.2 116.25,147.8 117.50,146.2 118.50,144.6 119.50,142.4 120.25,140.4 121.00,137.9 121.75,135.0 122.50,131.5 123.25,127.3 123.75,124.1 124.25,120.5 124.75,116.6 125.25,112.3 125.75,107.5 126.25,102.4 126.75,96.9 127.50,88.1 129.25,66.3 129.75,60.4 130.25,55.0 130.50,52.6 130.75,50.2 131.00,48.1 131.25,46.4 131.50,45.6 131.75,45.5 132.00,46.1 132.25,47.3 132.50,48.8 133.50,56.2 133.75,57.9 134.00,59.4 134.25,60.7 134.50,61.8 134.75,62.8 135.00,63.5 135.50,64.5 136.00,65.0 136.75,64.9 137.50,64.6 137.75,64.8 138.00,65.5 138.25,66.7 138.50,68.3 138.75,70.3 139.00,72.6 139.75,80.0 140.00,82.4 140.25,84.6 140.50,86.5 140.75,88.0 141.00,89.2 141.25,89.9 141.50,90.2 141.75,90.1 142.00,89.5 142.25,88.5 142.50,87.1 142.75,85.4 143.00,83.4 143.25,81.1 143.50,78.5 144.00,72.9 144.75,63.8 145.50,54.6 146.00,48.8 146.50,43.4 146.75,41.0 147.00,38.7 147.25,36.6 147.50,34.7 147.75,33.0 148.00,31.6 148.25,30.4 148.50,29.4 148.75,28.7 149.00,28.2 149.25,28.0 149.50,28.1 149.75,28.4 150.00,29.0 150.25,29.9 150.50,31.1 150.75,32.4 151.00,34.1 151.25,36.0 151.50,38.1 151.75,40.4 152.00,42.9 152.50,48.4 153.00,54.5 153.75,64.3 155.25,84.8 155.75,91.3 156.25,97.5 156.75,103.2 157.25,108.4 157.50,110.7 157.75,112.9 158.00,114.9 158.25,116.8 158.50,118.5 158.75,120.0 159.00,121.3 159.25,122.4 159.50,123.3 159.75,124.1 160.00,124.6 160.25,124.9 160.50,125.1 160.75,125.1 161.00,124.9 161.25,124.5 161.50,123.9 161.75,123.1 162.00,122.1 162.25,121.0 162.50,119.7 162.75,118.2 163.25,114.8 163.75,110.8 164.25,106.3 164.75,101.3 165.25,95.9 166.00,87.2 167.50,69.3 168.00,63.7 168.50,58.4 168.75,56.0 169.00,53.8 169.25,51.7 169.50,49.8 169.75,48.1 170.00,46.7 170.25,45.5 170.50,44.6 170.75,43.9 171.00,43.6 171.25,43.5 171.75,43.8 172.25,44.6 172.75,45.9 173.25,47.6 173.75,49.8 174.25,52.4 174.75,55.4 175.50,60.4 176.25,65.9 177.25,73.8 179.75,94.4 180.75,102.3 181.75,109.7 182.50,114.8 183.25,119.6 184.00,123.9 184.75,127.9 185.50,131.4 186.25,134.5 187.00,137.3 188.00,140.4 189.00,142.9 190.00,144.9 191.25,146.7 192.50,148.1 194.00,149.1 195.75,149.6 197.50,149.6 199.25,149.1 200.75,148.1 202.00,146.8 203.00,145.2 203.75,143.7 204.50,141.7 205.25,139.3 206.00,136.3 206.75,132.7 207.50,128.4 208.25,123.4 209.00,117.7 209.75,111.5 211.00,100.7 211.50,96.7 212.00,93.2 212.25,91.8 212.50,90.5 212.75,89.4 213.00,88.7 213.25,88.2 213.50,88.0 213.75,88.0 214.00,88.4 214.25,88.9 214.50,89.7 214.75,90.6 215.00,91.8 215.50,94.6 216.00,97.9 216.75,103.5 218.25,115.1 219.00,120.5 219.75,125.5 220.50,129.9 221.25,133.8 222.00,137.1 222.75,140.0 223.50,142.3 224.50,144.9 225.50,146.9 226.75,148.7 228.25,150.4 230.25,151.8 233.00,153.1 237.00,154.3 243.00,155.3 252.50,156.1 269.75,156.7 272.75,156.6 273.75,156.3 274.50,155.6 275.25,154.5 276.00,152.7 276.75,150.3 278.25,144.7 278.75,143.2 279.25,142.2 279.50,141.9 279.75,141.8 280.00,141.8 280.25,142.1 280.75,143.0 281.25,144.6 283.00,151.3 283.75,153.5 284.50,155.1 285.25,156.1 286.25,156.7 288.25,157.0 316.00,157.1" fill="none" stroke="#6fa8dc" stroke-width="0.45" stroke-opacity="0.9"/>
<polyline points="16.50,156.7 23.75,155.8 28.50,154.6 32.00,153.3 34.50,151.8 36.50,150.1 38.00,148.4 39.25,146.5 40.25,144.5 41.25,142.0 42.00,139.6 42.75,136.8 43.50,133.3 44.00,130.6 44.50,127.5 45.00,124.0 45.50,120.1 46.00,115.7 46.50,110.8 47.00,105.5 47.75,96.9 48.50,88.2 48.75,85.5 49.00,82.9 49.25,80.6 49.50,78.5 49.75,76.8 50.00,75.4 50.25,74.5 50.50,74.0 50.75,74.1 51.00,74.8 51.25,76.2 51.50,78.2 51.75,80.7 52.00,83.6 52.25,86.8 53.50,103.9 54.00,110.2 54.25,113.0 54.50,115.8 54.75,118.3 55.00,120.6 55.25,122.8 55.75,126.7 56.25,129.9 56.75,132.7 57.25,134.9 57.75,136.8 58.50,139.0 59.25,140.6 60.00,141.7 60.75,142.4 61.75,142.8 62.50,142.7 63.25,142.2 64.00,141.2 64.75,139.6 65.25,138.2 65.75,136.3 66.25,134.0 66.75,131.2 67.00,129.6 67.25,127.8 67.50,125.8 67.75,123.7 68.00,121.3 68.25,118.8 68.50,116.1 68.75,113.1 69.00,110.0 69.25,106.7 69.50,103.1 69.75,99.4 70.00,95.5 70.50,87.2 71.00,78.4 71.75,65.0 72.00,60.6 72.25,56.5 72.50,52.6 72.75,49.0 73.00,45.8 73.25,43.2 73.50,41.1 73.75,39.7 74.00,39.0 74.25,39.0 74.50,39.8 74.75,41.3 75.00,43.5 75.25,46.2 75.50,49.6 75.75,53.3 76.00,57.4 76.25,61.8 77.00,75.6 77.50,84.8 78.00,93.6 78.25,97.8 78.50,101.8 78.75,105.6 79.00,109.2 79.25,112.6 79.50,115.7 79.75,118.7 80.00,121.4 80.25,124.0 80.50,126.3 80.75,128.5 81.00,130.5 81.25,132.3 81.75,135.4 82.25,138.0 82.75,140.1 83.25,141.8 84.00,143.8 84.75,145.1 85.75,146.3 87.00,147.1 89.75,148.1 91.50,149.3 94.00,151.4 96.25,152.6 99.00,153.4 102.50,153.7 106.50,153.5 110.00,152.8 112.75,151.7 114.75,150.5 116.25,149.2 117.50,147.7 118.50,146.0 119.50,143.8 120.25,141.7 121.00,139.1 121.75,135.8 122.25,133.3 122.75,130.4 123.25,127.1 123.75,123.4 124.25,119.3 124.75,114.7 125.25,109.7 125.75,104.2 126.25,98.2 127.00,88.6 128.25,72.0 128.75,65.6 129.00,62.6 129.25,59.8 129.50,57.2 129.75,54.7 130.00,52.5 130.25,50.8 130.50,50.2 130.75,50.6 131.00,51.7 131.25,53.3 131.75,57.5 132.25,61.6 132.50,63.4 132.75,64.9 133.00,66.1 133.25,67.1 133.50,67.8 133.75,68.2 134.00,68.4 134.50,68.4 135.75,67.2 136.25,67.1 136.50,67.2 136.75,67.9 137.00,69.5 137.25,71.8 137.50,74.9 137.75,78.4 138.00,82.4 138.75,94.8 139.00,98.6 139.25,102.1 139.50,105.0 139.75,107.4 140.00,109.2 140.25,110.3 140.50,110.8 140.75,110.7 141.00,110.1 141.25,108.9 141.50,107.2 141.75,105.1 142.00,102.6 142.25,99.8 142.50,96.8 142.75,93.5 143.25,86.3 144.00,74.9 144.75,63.4 145.25,56.0 145.75,49.1 146.00,45.9 146.25,42.9 146.50,40.1 146.75,37.5 147.00,35.2 147.25,33.2 147.50,31.5 147.75,30.1 148.00,29.0 148.25,28.2 148.50,27.7 148.75,27.6 149.00,27.9 149.25,28.5 149.50,29.5 149.75,30.8 150.00,32.4 150.25,34.4 150.50,36.6 150.75,39.2 151.00,42.0 151.25,45.0 151.50,48.3 151.75,51.8 152.25,59.2 153.00,71.0 154.00,87.1 154.50,94.9 155.00,102.3 155.50,109.2 155.75,112.4 156.00,115.4 156.25,118.3 156.50,121.0 156.75,123.5 157.00,125.8 157.25,128.0 157.50,129.9 157.75,131.7 158.00,133.2 158.25,134.6 158.50,135.8 158.75,136.8 159.00,137.6 159.25,138.3 159.50,138.7 159.75,139.0 160.00,139.1 160.25,139.0 160.50,138.8 160.75,138.4 161.00,137.8 161.25,137.1 161.50,136.2 161.75,135.1 162.00,133.9 162.25,132.5 162.75,129.2 163.25,125.3 163.75,120.8 164.25,115.8 164.75,110.2 165.25,104.1 166.00,94.4 167.50,74.0 168.00,67.5 168.50,61.5 168.75,58.8 169.00,56.3 169.25,53.9 169.50,51.9 169.75,50.1 170.00,48.6 170.25,47.5 170.50,46.7 170.75,46.2 171.00,46.1 171.25,46.2 171.75,46.9 172.25,48.2 172.75,50.1 173.25,52.6 173.75,55.6 174.25,58.9 175.00,64.7 175.75,71.0 177.00,82.3 178.50,96.1 179.50,104.8 180.25,110.9 181.00,116.6 181.75,121.9 182.50,126.6 183.25,130.8 184.00,134.5 184.75,137.7 185.50,140.4 186.25,142.8 187.25,145.3 188.25,147.2 189.50,149.0 190.75,150.2 192.25,151.1 194.25,151.6 196.50,151.6 198.75,151.0 200.50,150.1 201.75,149.0 202.75,147.6 203.50,146.3 204.25,144.5 205.00,142.3 205.75,139.4 206.25,137.0 206.75,134.4 207.25,131.3 207.75,127.8 208.25,123.9 208.75,119.7 209.50,112.7 210.75,100.6 211.25,96.3 211.50,94.3 211.75,92.6 212.00,91.1 212.25,90.0 212.50,89.2 212.75,88.7 213.00,88.7 213.25,88.9 213.50,89.5 213.75,90.3 214.00,91.4 214.25,92.7 214.50,94.3 215.00,97.9 215.50,101.9 217.00,115.0 217.75,121.1 218.50,126.7 219.25,131.5 220.00,135.7 220.75,139.1 221.50,142.0 222.25,144.3 223.00,146.2 224.00,148.2 225.25,150.0 226.75,151.4 228.75,152.8 231.75,154.0 236.00,155.1 242.50,156.0 253.75,156.7 271.75,157.1 273.25,156.7 274.00,156.2 274.75,155.0 275.25,153.8 275.75,152.3 276.50,149.3 277.50,145.0 278.00,143.4 278.25,142.8 278.50,142.3 278.75,142.1 279.00,142.1 279.25,142.4 279.50,142.8 279.75,143.5 280.25,145.2 281.50,150.7 282.00,152.6 282.50,154.2 283.00,155.3 283.75,156.4 284.50,156.9 286.00,157.2 316.00,157.3" fill="none" stroke="#5b86cc" stroke-width="0.45" stroke-opacity="0.9"/>
</g>
<g style="filter:grayscale(1)">
<text x="50.5" y="68.5" font-size="6.7" font-weight="normal" letter-spacing="0.35" stroke="#1a1a1a" stroke-width="0.45" text-anchor="middle" fill="#1a1a1a">Oi5</text>
<text x="73.75" y="18.0" font-size="6.7" font-weight="normal" letter-spacing="0.35" stroke="#1a1a1a" stroke-width="0.45" text-anchor="middle" fill="#1a1a1a">Oe5<tspan font-size="5.7" dy="-0.3" stroke-width="0.6">+</tspan><tspan dy="0.3"></tspan></text>
<text x="73.75" y="27.5" font-size="6.7" font-weight="normal" letter-spacing="0.35" stroke="#1a1a1a" stroke-width="0.45" text-anchor="middle" fill="#1a1a1a">L5<tspan font-size="5.7" dy="-0.3" stroke-width="0.6">+</tspan><tspan dy="0.3"></tspan></text>
<text x="73.75" y="36.5" font-size="6.7" font-weight="normal" letter-spacing="0.35" stroke="#1a1a1a" stroke-width="0.45" text-anchor="middle" fill="#1a1a1a">Ln5</text>
<text x="124.25" y="29.5" font-size="6.7" font-weight="normal" letter-spacing="0.35" stroke="#1a1a1a" stroke-width="0.45" text-anchor="middle" fill="#1a1a1a">O6<tspan font-size="5.7" dy="-0.3" stroke-width="0.6">+</tspan><tspan dy="0.3"></tspan>L6<tspan font-size="5.7" dy="-0.3" stroke-width="0.6">+</tspan><tspan dy="0.3"></tspan>Ln6<tspan font-size="5.7" dy="-0.3" stroke-width="0.6">+</tspan><tspan dy="0.3"></tspan></text>
<text x="125" y="39.5" font-size="6.7" font-weight="normal" letter-spacing="0.35" stroke="#1a1a1a" stroke-width="0.45" text-anchor="middle" fill="#1a1a1a">Pe4<tspan font-size="5.7" dy="-0.3" stroke-width="0.6">+</tspan><tspan dy="0.3"></tspan>Se4</text>
<text x="185" y="34.5" font-size="6.7" font-weight="normal" letter-spacing="0.35" stroke="#1a1a1a" stroke-width="0.45" text-anchor="middle" fill="#1a1a1a">Oe4<tspan font-size="5.7" dy="-0.3" stroke-width="0.6">+</tspan><tspan dy="0.3"></tspan>Le4<tspan font-size="5.7" dy="-0.3" stroke-width="0.6">+</tspan><tspan dy="0.3"></tspan>Lne4<tspan font-size="5.7" dy="-0.3" stroke-width="0.6">+</tspan><tspan dy="0.3"></tspan></text>
<text x="185" y="43.5" font-size="6.7" font-weight="normal" letter-spacing="0.35" stroke="#1a1a1a" stroke-width="0.45" text-anchor="middle" fill="#1a1a1a">Pi4<tspan font-size="5.7" dy="-0.3" stroke-width="0.6">+</tspan><tspan dy="0.3"></tspan>Si4</text>
<text x="214.5" y="60.75" font-size="6.7" font-weight="normal" letter-spacing="0.35" stroke="#1a1a1a" stroke-width="0.45" text-anchor="middle" fill="#1a1a1a">Oi4<tspan font-size="5.7" dy="-0.3" stroke-width="0.6">+</tspan><tspan dy="0.3"></tspan></text>
<text x="214.5" y="70.0" font-size="6.7" font-weight="normal" letter-spacing="0.35" stroke="#1a1a1a" stroke-width="0.45" text-anchor="middle" fill="#1a1a1a">Li4<tspan font-size="5.7" dy="-0.3" stroke-width="0.6">+</tspan><tspan dy="0.3"></tspan></text>
<text x="214.5" y="79.5" font-size="6.7" font-weight="normal" letter-spacing="0.35" stroke="#1a1a1a" stroke-width="0.45" text-anchor="middle" fill="#1a1a1a">Lni4</text>
<text x="278.75" y="133.0" font-size="6.7" font-weight="normal" letter-spacing="0.35" stroke="#1a1a1a" stroke-width="0.45" text-anchor="middle" fill="#1a1a1a">V4</text>
<line x1="62" y1="82" x2="62" y2="168.75" stroke="#3a3a3a" stroke-width="1.2"/>
<line x1="99.5" y1="122" x2="99.5" y2="168" stroke="#3a3a3a" stroke-width="1.2"/>
<line x1="161.25" y1="90.5" x2="161.25" y2="162.5" stroke="#3a3a3a" stroke-width="1.2"/>
<line x1="190" y1="87.5" x2="190" y2="163.75" stroke="#3a3a3a" stroke-width="1.2"/>
</g>
<g style="filter:grayscale(1)">
<line x1="325.5" y1="6.2" x2="325.5" y2="169" stroke="#c0c0c0" stroke-width="0.8"/>
<line x1="325.5" y1="169" x2="392" y2="169" stroke="#c0c0c0" stroke-width="0.8"/>
<line x1="325.5" y1="15.0" x2="327.5" y2="15.0" stroke="#c0c0c0" stroke-width="0.6"/>
<line x1="390" y1="15.0" x2="392" y2="15.0" stroke="#c0c0c0" stroke-width="0.6"/>
<text x="324.2" y="16.3" font-size="3.8" text-anchor="end" fill="#333">0.5</text>
<line x1="325.5" y1="29.8" x2="327.5" y2="29.8" stroke="#c0c0c0" stroke-width="0.6"/>
<line x1="390" y1="29.8" x2="392" y2="29.8" stroke="#c0c0c0" stroke-width="0.6"/>
<text x="324.2" y="31.1" font-size="3.8" text-anchor="end" fill="#333">0.45</text>
<line x1="325.5" y1="44.6" x2="327.5" y2="44.6" stroke="#c0c0c0" stroke-width="0.6"/>
<line x1="390" y1="44.6" x2="392" y2="44.6" stroke="#c0c0c0" stroke-width="0.6"/>
<text x="324.2" y="45.9" font-size="3.8" text-anchor="end" fill="#333">0.4</text>
<line x1="325.5" y1="59.4" x2="327.5" y2="59.4" stroke="#c0c0c0" stroke-width="0.6"/>
<line x1="390" y1="59.4" x2="392" y2="59.4" stroke="#c0c0c0" stroke-width="0.6"/>
<text x="324.2" y="60.699999999999996" font-size="3.8" text-anchor="end" fill="#333">0.35</text>
<line x1="325.5" y1="74.2" x2="327.5" y2="74.2" stroke="#c0c0c0" stroke-width="0.6"/>
<line x1="390" y1="74.2" x2="392" y2="74.2" stroke="#c0c0c0" stroke-width="0.6"/>
<text x="324.2" y="75.5" font-size="3.8" text-anchor="end" fill="#333">0.3</text>
<line x1="325.5" y1="89.0" x2="327.5" y2="89.0" stroke="#c0c0c0" stroke-width="0.6"/>
<line x1="390" y1="89.0" x2="392" y2="89.0" stroke="#c0c0c0" stroke-width="0.6"/>
<text x="324.2" y="90.3" font-size="3.8" text-anchor="end" fill="#333">0.25</text>
<line x1="325.5" y1="103.8" x2="327.5" y2="103.8" stroke="#c0c0c0" stroke-width="0.6"/>
<line x1="390" y1="103.8" x2="392" y2="103.8" stroke="#c0c0c0" stroke-width="0.6"/>
<text x="324.2" y="105.1" font-size="3.8" text-anchor="end" fill="#333">0.2</text>
<line x1="325.5" y1="118.6" x2="327.5" y2="118.6" stroke="#c0c0c0" stroke-width="0.6"/>
<line x1="390" y1="118.6" x2="392" y2="118.6" stroke="#c0c0c0" stroke-width="0.6"/>
<text x="324.2" y="119.89999999999999" font-size="3.8" text-anchor="end" fill="#333">0.15</text>
<line x1="325.5" y1="133.4" x2="327.5" y2="133.4" stroke="#c0c0c0" stroke-width="0.6"/>
<line x1="390" y1="133.4" x2="392" y2="133.4" stroke="#c0c0c0" stroke-width="0.6"/>
<text x="324.2" y="134.70000000000002" font-size="3.8" text-anchor="end" fill="#333">0.1</text>
<line x1="325.5" y1="148.2" x2="327.5" y2="148.2" stroke="#c0c0c0" stroke-width="0.6"/>
<line x1="390" y1="148.2" x2="392" y2="148.2" stroke="#c0c0c0" stroke-width="0.6"/>
<text x="324.2" y="149.5" font-size="3.8" text-anchor="end" fill="#333">0.05</text>
<line x1="325.5" y1="163.0" x2="327.5" y2="163.0" stroke="#c0c0c0" stroke-width="0.6"/>
<line x1="390" y1="163.0" x2="392" y2="163.0" stroke="#c0c0c0" stroke-width="0.6"/>
<text x="324.2" y="164.3" font-size="3.8" text-anchor="end" fill="#333">0</text>
<line x1="327" y1="169" x2="327" y2="167" stroke="#c0c0c0" stroke-width="0.6"/>
<text x="327" y="173.6" font-size="3.8" text-anchor="middle" fill="#333">27.3</text>
<line x1="348" y1="169" x2="348" y2="167" stroke="#c0c0c0" stroke-width="0.6"/>
<text x="348" y="173.6" font-size="3.8" text-anchor="middle" fill="#333">27.25</text>
<line x1="371" y1="169" x2="371" y2="167" stroke="#c0c0c0" stroke-width="0.6"/>
<text x="371" y="173.6" font-size="3.8" text-anchor="middle" fill="#333">27.2</text>
</g>
<g clip-path="url(#c1)">
<polyline points="325.50,160.0 330.25,159.1 333.25,158.0 335.25,156.8 336.75,155.5 337.75,154.3 338.50,153.0 339.25,151.3 339.75,149.8 340.25,148.0 340.75,145.7 341.25,142.8 341.50,141.1 341.75,139.2 342.00,137.1 342.25,134.8 342.50,132.3 342.75,129.6 343.00,126.7 343.25,123.5 343.50,120.0 343.75,116.4 344.00,112.6 344.50,104.3 345.50,87.1 346.00,78.8 346.25,74.4 346.50,69.7 346.75,64.3 347.00,58.1 347.25,51.2 347.50,45.0 347.75,40.5 348.00,39.1 348.25,41.7 348.50,47.4 348.75,54.5 349.00,62.7 349.25,71.5 349.75,89.8 350.00,98.6 350.25,106.9 350.50,114.5 350.75,121.2 351.00,127.1 351.25,132.1 351.50,136.3 351.75,139.7 352.00,142.5 352.25,144.7 352.50,146.5 352.75,147.8 353.00,148.7 353.25,148.5 353.50,146.0 353.75,140.9 354.00,136.3 354.25,138.4 354.50,144.9 354.75,150.0 355.00,152.4 355.25,153.2 355.50,153.2 355.75,152.3 356.00,148.5 356.25,139.5 356.50,127.4 356.75,123.4 357.00,133.2 357.25,145.0 357.50,151.7 357.75,154.2 358.00,154.9 358.25,155.1 358.50,154.8 358.75,153.2 359.00,148.9 359.25,141.9 359.50,137.1 359.75,140.8 360.00,148.0 360.25,152.9 360.50,154.9 360.75,155.3 361.00,155.2 361.25,154.2 361.50,151.2 361.75,145.6 362.00,140.3 362.25,141.3 362.50,147.0 362.75,151.3 363.00,152.0 363.25,148.9 363.50,142.5 363.75,137.3 364.00,139.5 364.25,145.9 364.50,150.5 364.75,152.2 365.00,152.3 365.25,151.8 365.50,151.1 365.75,150.2 366.00,149.0 366.25,147.6 366.50,145.9 366.75,143.9 367.00,141.5 367.25,138.7 367.50,135.6 367.75,131.9 368.00,127.9 368.25,123.3 368.50,118.3 368.75,112.9 369.00,107.1 369.25,101.0 369.50,94.7 369.75,88.2 370.00,80.5 370.25,66.5 370.50,47.8 370.75,41.6 371.00,39.0 371.25,38.5 371.50,39.9 371.75,42.8 372.00,47.6 372.25,54.7 372.50,63.6 372.75,73.5 373.25,94.1 373.50,103.8 373.75,112.9 374.00,121.0 374.25,128.1 374.50,134.1 374.75,139.1 375.00,143.2 375.25,146.5 375.50,149.1 375.75,151.0 376.00,152.6 376.25,153.7 376.50,154.6 377.00,155.9 377.75,157.0 379.00,158.1 381.00,159.0 384.25,159.7 390.75,160.2 391.00,160.2" fill="none" stroke="#c0504d" stroke-width="0.45" stroke-opacity="0.9"/>
<polyline points="325.50,160.1 330.25,159.2 333.25,158.1 335.50,156.8 337.00,155.5 338.00,154.2 338.75,152.9 339.50,151.1 340.00,149.5 340.50,147.5 341.00,145.0 341.25,143.6 341.50,141.9 341.75,140.1 342.00,138.1 342.25,135.9 342.50,133.5 342.75,130.8 343.00,128.0 343.25,124.9 343.50,121.5 343.75,118.0 344.00,114.2 344.50,106.2 346.00,80.7 346.25,76.3 346.50,71.3 346.75,65.6 347.00,59.0 347.25,51.9 347.50,45.5 347.75,41.2 348.00,40.3 348.25,43.6 348.50,49.5 348.75,56.8 349.00,65.1 349.25,74.0 349.75,92.4 350.00,101.1 350.25,109.3 350.50,116.6 350.75,123.2 351.00,128.8 351.25,133.6 351.50,137.5 351.75,140.8 352.00,143.4 352.25,145.5 352.50,147.1 352.75,148.2 353.00,148.6 353.25,147.1 353.50,142.7 353.75,137.2 354.00,137.0 354.50,149.0 354.75,152.1 355.00,153.3 355.25,153.7 355.50,153.8 355.75,153.3 356.00,150.8 356.25,144.0 356.50,133.0 356.75,126.2 357.00,132.6 357.25,143.9 357.50,151.3 357.75,154.3 358.00,155.1 358.25,155.4 358.50,155.3 358.75,154.2 359.00,151.0 359.25,145.1 359.50,140.1 359.75,142.1 360.00,148.4 360.25,153.1 360.50,155.0 360.75,155.4 361.00,155.2 361.25,153.9 361.50,150.2 361.75,143.5 362.00,137.9 362.25,140.2 362.50,146.9 362.75,151.7 363.00,152.7 363.25,150.4 363.75,139.6 364.00,140.4 364.25,146.0 364.50,150.4 364.75,152.2 365.00,152.3 365.25,151.8 365.50,151.1 365.75,150.1 366.00,148.9 366.25,147.4 366.50,145.6 366.75,143.5 367.00,141.0 367.25,138.2 367.50,134.9 367.75,131.1 368.00,126.9 368.25,122.2 368.50,117.1 368.75,111.6 369.00,105.7 369.25,99.5 369.75,86.7 370.00,78.7 370.25,63.3 370.50,45.8 370.75,41.1 371.00,39.2 371.25,39.5 371.50,41.6 371.75,45.4 372.00,51.6 372.25,59.9 372.50,69.5 373.00,90.2 373.25,100.2 373.50,109.6 373.75,118.1 374.00,125.6 374.25,132.1 374.50,137.5 374.75,142.0 375.00,145.5 375.25,148.3 375.50,150.5 375.75,152.2 376.00,153.5 376.25,154.4 376.50,155.2 377.00,156.3 377.75,157.3 379.00,158.3 381.00,159.1 384.50,159.8 391.00,160.2" fill="none" stroke="#f79646" stroke-width="0.45" stroke-opacity="0.9"/>
<polyline points="325.50,159.5 330.00,158.6 333.00,157.4 335.00,156.3 336.50,154.9 337.50,153.7 338.25,152.4 339.00,150.7 339.50,149.2 340.00,147.4 340.50,145.1 341.00,142.3 341.25,140.7 341.50,138.9 341.75,136.9 342.00,134.7 342.25,132.3 342.50,129.7 342.75,126.9 343.00,123.9 343.25,120.7 343.50,117.2 343.75,113.6 344.25,105.8 345.50,85.1 346.00,76.9 346.25,72.6 346.50,67.7 346.75,62.1 347.00,55.8 347.25,49.0 347.50,43.1 347.75,39.1 348.00,38.2 348.25,41.2 348.50,46.8 348.75,53.7 349.00,61.6 349.25,70.1 349.75,87.9 350.00,96.5 350.25,104.6 350.50,112.1 350.75,118.9 351.00,124.8 351.25,129.9 351.50,134.2 351.75,137.8 352.00,140.7 352.25,143.1 352.50,144.9 352.75,146.3 353.00,146.9 353.25,145.9 353.50,142.2 353.75,136.9 354.00,135.0 354.25,139.8 354.50,146.1 354.75,150.1 355.00,151.8 355.25,152.3 355.50,152.0 355.75,150.3 356.00,144.9 356.25,134.4 356.50,123.5 356.75,123.6 357.00,134.8 357.25,145.7 357.50,151.4 357.75,153.5 358.00,154.2 358.25,154.3 358.50,154.0 358.75,152.3 359.00,148.0 359.25,141.2 359.50,136.7 359.75,140.0 360.00,146.9 360.25,151.8 360.50,153.9 360.75,154.5 361.00,154.3 361.25,153.2 361.50,150.1 361.75,144.0 362.00,137.8 362.25,137.7 362.50,143.6 362.75,148.9 363.00,150.4 363.25,147.6 363.50,141.6 363.75,136.8 364.00,138.8 364.25,144.7 364.50,149.1 364.75,150.9 365.00,151.0 365.25,150.4 365.50,149.6 365.75,148.5 366.00,147.2 366.25,145.6 366.50,143.7 366.75,141.5 367.00,139.0 367.25,136.0 367.50,132.6 367.75,128.9 368.00,124.7 368.25,120.0 368.50,115.0 368.75,109.6 369.00,103.8 369.25,97.9 369.50,91.7 369.75,85.3 370.00,76.3 370.25,59.6 370.50,45.0 370.75,40.9 371.00,38.9 371.25,38.8 371.50,40.4 371.75,43.3 372.00,48.1 372.25,55.1 372.50,63.6 372.75,73.1 373.25,92.9 373.50,102.3 373.75,111.1 374.00,119.1 374.25,126.1 374.50,132.2 374.75,137.3 375.00,141.5 375.25,145.0 375.50,147.7 375.75,149.8 376.00,151.5 376.25,152.7 376.50,153.7 376.75,154.5 377.25,155.6 378.00,156.6 379.25,157.7 381.25,158.6 384.50,159.2 391.00,159.7" fill="none" stroke="#d4c84a" stroke-width="0.45" stroke-opacity="0.9"/>
<polyline points="325.50,159.8 330.25,158.8 333.25,157.8 335.25,156.6 336.75,155.3 337.75,154.1 338.50,152.8 339.25,151.1 339.75,149.6 340.25,147.7 340.75,145.4 341.25,142.4 341.50,140.7 341.75,138.9 342.00,136.8 342.25,134.5 342.50,132.0 342.75,129.2 343.00,126.3 343.25,123.1 343.50,119.6 343.75,116.0 344.00,112.2 344.50,104.0 345.50,87.1 346.25,75.2 346.50,71.0 346.75,66.4 347.00,60.9 347.25,54.7 347.50,48.7 347.75,43.8 348.00,41.3 348.25,42.3 348.50,47.1 348.75,53.8 349.00,61.5 349.25,70.0 349.75,87.9 350.00,96.8 350.25,105.2 350.50,112.9 350.75,119.8 351.00,125.9 351.25,131.1 351.50,135.5 351.75,139.1 352.00,142.1 352.25,144.4 352.50,146.2 352.75,147.6 353.00,148.5 353.25,148.1 353.50,145.4 353.75,140.4 354.00,136.8 354.25,139.9 354.50,146.2 354.75,150.6 355.00,152.5 355.25,153.2 355.50,153.3 355.75,152.7 356.00,150.0 356.25,142.8 356.50,131.6 356.75,125.0 357.00,131.8 357.25,143.3 357.50,150.8 357.75,153.8 358.00,154.7 358.25,154.9 358.50,154.6 358.75,153.1 359.00,148.9 359.25,142.1 359.50,137.8 359.75,141.5 360.00,148.4 360.25,152.9 360.50,154.7 360.75,155.1 361.00,154.8 361.25,153.2 361.50,149.1 361.75,142.7 362.00,138.8 362.25,142.3 362.50,148.4 362.75,152.2 363.00,152.6 363.25,150.1 363.50,145.1 363.75,141.0 364.00,142.7 364.25,147.6 364.50,151.1 364.75,152.2 365.00,152.2 365.25,151.7 365.50,150.9 365.75,149.9 366.00,148.8 366.25,147.3 366.50,145.6 366.75,143.5 367.00,141.1 367.25,138.3 367.50,135.1 367.75,131.5 368.00,127.4 368.25,122.8 368.50,117.8 368.75,112.4 369.00,106.7 369.25,100.6 369.50,94.3 369.75,87.8 370.00,79.4 370.25,63.4 370.50,46.7 370.75,42.0 371.00,39.8 371.25,39.6 371.50,41.2 371.75,44.2 372.00,49.2 372.25,56.4 372.50,65.3 372.75,75.1 373.25,95.3 373.50,104.9 373.75,113.8 374.00,121.7 374.25,128.7 374.50,134.6 374.75,139.5 375.00,143.4 375.25,146.6 375.50,149.1 375.75,151.0 376.00,152.5 376.25,153.6 376.50,154.5 377.00,155.7 377.75,156.8 379.00,157.9 381.00,158.8 384.25,159.5 390.75,159.9 391.00,159.9" fill="none" stroke="#9bbb59" stroke-width="0.45" stroke-opacity="0.9"/>
<polyline points="325.50,159.7 330.25,158.7 333.25,157.7 335.50,156.4 337.00,155.0 338.00,153.7 338.75,152.4 339.50,150.6 340.00,149.1 340.50,147.2 341.00,144.7 341.50,141.8 341.75,140.0 342.00,138.1 342.25,136.0 342.50,133.7 342.75,131.1 343.00,128.4 343.25,125.4 343.50,122.2 343.75,118.8 344.00,115.2 344.25,111.4 344.75,103.4 346.25,78.3 346.50,73.8 346.75,68.8 347.00,63.0 347.25,56.3 347.50,49.2 347.75,43.0 348.00,38.9 348.25,38.2 348.50,41.6 348.75,47.5 349.00,54.7 349.25,62.8 349.50,71.6 350.00,89.7 350.25,98.5 350.50,106.6 350.75,114.1 351.00,120.8 351.25,126.5 351.50,131.5 351.75,135.6 352.00,139.1 352.25,141.8 352.50,144.1 352.75,145.8 353.00,147.1 353.25,147.6 353.50,146.4 353.75,142.5 354.00,137.3 354.25,136.3 354.50,141.6 354.75,147.5 355.00,150.9 355.25,152.3 355.50,152.7 355.75,152.4 356.00,150.6 356.25,144.9 356.75,123.2 357.00,124.6 357.25,136.4 357.50,147.0 357.75,152.2 358.00,153.9 358.25,154.5 358.50,154.6 358.75,154.1 359.00,152.2 359.25,147.4 359.50,140.3 359.75,136.5 360.00,140.9 360.25,148.0 360.50,152.6 360.75,154.3 361.00,154.7 361.25,154.2 361.50,152.3 361.75,147.7 362.00,141.1 362.25,137.6 362.50,141.7 362.75,147.9 363.00,151.5 363.25,151.8 363.50,148.7 363.75,142.6 364.00,137.0 364.25,138.1 364.50,144.2 364.75,149.0 365.00,151.0 365.25,151.2 365.50,150.6 365.75,149.8 366.00,148.7 366.25,147.4 366.50,145.8 366.75,143.8 367.00,141.6 367.25,139.0 367.50,135.9 367.75,132.5 368.00,128.6 368.25,124.2 368.50,119.5 368.75,114.3 369.00,108.7 369.25,102.7 369.50,96.6 369.75,90.2 370.00,83.6 370.25,74.6 370.50,57.6 370.75,42.6 371.00,38.5 371.25,36.8 371.50,37.1 371.75,39.2 372.00,42.7 372.25,48.5 372.50,56.5 372.75,65.8 373.00,75.9 373.25,86.2 373.50,96.3 373.75,105.8 374.00,114.5 374.25,122.2 374.50,129.0 374.75,134.8 375.00,139.5 375.25,143.4 375.50,146.5 375.75,148.9 376.00,150.8 376.25,152.3 376.50,153.4 376.75,154.3 377.25,155.5 378.00,156.6 379.25,157.7 381.25,158.6 384.50,159.3 391.00,159.8" fill="none" stroke="#8064a2" stroke-width="0.45" stroke-opacity="0.9"/>
<polyline points="325.50,159.9 330.00,158.9 333.00,157.8 335.00,156.6 336.50,155.3 337.50,154.1 338.25,152.8 339.00,151.1 339.50,149.7 340.00,147.9 340.50,145.6 341.00,142.8 341.25,141.2 341.50,139.4 341.75,137.4 342.00,135.2 342.25,132.8 342.50,130.2 342.75,127.4 343.00,124.4 343.25,121.1 343.50,117.6 343.75,113.9 344.25,106.0 345.50,85.0 346.00,76.8 346.25,72.6 346.50,67.9 346.75,62.6 347.00,56.5 347.25,50.0 347.50,44.1 347.75,40.0 348.00,38.7 348.25,41.3 348.50,46.9 348.75,53.8 349.00,61.7 349.25,70.2 349.75,88.0 350.00,96.7 350.25,104.9 350.50,112.4 350.75,119.2 351.00,125.2 351.25,130.3 351.50,134.6 351.75,138.2 352.00,141.2 352.25,143.6 352.50,145.5 352.75,146.9 353.00,147.6 353.25,147.0 353.50,144.0 353.75,139.2 354.00,137.1 354.25,141.1 354.50,146.9 354.75,150.7 355.00,152.3 355.25,152.9 355.50,152.8 355.75,151.8 356.00,147.9 356.25,139.1 356.50,127.8 356.75,124.1 357.00,133.2 357.25,144.4 357.50,151.2 357.75,153.8 358.00,154.6 358.25,154.8 358.50,154.6 358.75,153.4 359.00,149.9 359.25,143.4 359.50,137.4 359.75,138.7 360.00,145.4 360.25,151.2 360.50,153.9 360.75,154.6 361.00,154.1 361.25,151.7 361.50,146.5 361.75,139.8 362.00,137.5 362.25,142.5 362.50,148.7 362.75,152.1 363.00,152.2 363.25,149.2 363.50,143.4 363.75,138.2 364.00,139.3 364.25,144.9 364.50,149.4 364.75,151.3 365.00,151.4 365.25,150.9 365.50,150.1 365.75,149.0 366.00,147.7 366.25,146.1 366.50,144.2 366.75,141.9 367.00,139.4 367.25,136.4 367.50,133.0 367.75,129.2 368.00,125.0 368.25,120.3 368.50,115.3 368.75,109.8 369.00,104.1 369.50,92.0 369.75,85.7 370.00,77.7 370.25,62.6 370.50,45.9 370.75,41.3 371.00,39.3 371.25,39.4 371.50,41.3 371.75,44.6 372.00,50.2 372.25,57.8 372.50,66.9 372.75,76.7 373.00,86.8 373.25,96.6 373.50,105.9 373.75,114.5 374.00,122.2 374.25,128.9 374.50,134.6 374.75,139.4 375.00,143.3 375.25,146.5 375.50,149.0 375.75,150.9 376.00,152.4 376.25,153.6 376.50,154.5 377.00,155.7 377.75,156.9 379.00,158.0 381.00,158.9 384.25,159.6 390.75,160.1 391.00,160.1" fill="none" stroke="#e8a33d" stroke-width="0.45" stroke-opacity="0.9"/>
<polyline points="325.50,160.2 330.25,159.3 333.25,158.2 335.50,156.9 337.00,155.5 338.00,154.2 338.75,152.9 339.50,151.1 340.00,149.5 340.50,147.5 341.00,145.1 341.25,143.6 341.50,142.0 341.75,140.2 342.00,138.3 342.25,136.1 342.50,133.7 342.75,131.1 343.00,128.3 343.25,125.3 343.50,122.1 343.75,118.6 344.00,114.9 344.50,107.1 345.75,86.2 346.00,81.9 346.25,77.5 346.50,72.5 346.75,66.8 347.00,60.2 347.25,52.9 347.50,45.9 347.75,40.6 348.00,38.2 348.25,39.9 348.50,45.1 348.75,51.8 349.00,59.6 349.25,68.3 349.75,86.5 350.00,95.4 350.25,103.9 350.50,111.7 350.75,118.7 351.00,124.9 351.25,130.2 351.50,134.6 351.75,138.3 352.00,141.4 352.25,143.8 352.50,145.8 352.75,147.2 353.00,148.2 353.25,148.1 353.50,145.9 353.75,141.2 354.00,137.1 354.25,139.2 354.50,145.3 354.75,150.2 355.00,152.5 355.25,153.3 355.50,153.5 355.75,152.9 356.00,150.3 356.25,143.5 356.50,132.8 356.75,126.1 357.00,132.2 357.25,143.3 357.50,150.9 357.75,154.0 358.00,155.0 358.25,155.3 358.50,155.1 358.75,154.1 359.00,150.8 359.25,144.6 359.50,138.9 359.75,140.2 360.00,146.7 360.25,152.2 360.50,154.7 360.75,155.4 361.00,155.3 361.25,154.3 361.50,151.2 362.00,139.5 362.25,140.0 362.50,146.0 362.75,151.0 363.00,152.7 363.25,150.8 363.50,145.6 363.75,139.4 364.00,138.5 364.50,149.2 364.75,151.8 365.00,152.4 365.25,152.0 365.50,151.4 365.75,150.5 366.00,149.4 366.25,148.0 366.50,146.4 366.75,144.4 367.00,142.1 367.25,139.5 367.50,136.4 367.75,132.9 368.00,129.0 368.25,124.7 368.50,119.9 368.75,114.6 369.00,109.0 369.25,103.1 369.50,97.0 369.75,90.6 370.00,83.4 370.25,70.6 370.50,51.4 370.75,43.7 371.00,40.6 371.25,39.7 371.50,40.6 371.75,43.1 372.00,46.9 372.25,53.1 372.50,61.1 372.75,70.4 373.25,90.4 373.50,100.2 373.75,109.4 374.00,117.7 374.25,125.2 374.50,131.6 374.75,137.0 375.00,141.5 375.25,145.1 375.50,148.0 375.75,150.2 376.00,152.0 376.25,153.3 376.50,154.3 376.75,155.1 377.25,156.3 378.00,157.3 379.25,158.3 381.25,159.2 384.50,159.9 391.00,160.3" fill="none" stroke="#4fb0a0" stroke-width="0.45" stroke-opacity="0.9"/>
<polyline points="325.50,159.9 330.00,158.8 333.00,157.6 335.00,156.3 336.50,154.9 337.50,153.5 338.25,152.0 339.00,150.1 339.50,148.5 340.00,146.5 340.50,144.1 341.00,141.2 341.25,139.5 341.50,137.6 341.75,135.6 342.00,133.4 342.25,131.0 342.50,128.5 342.75,125.7 343.00,122.8 343.25,119.6 343.50,116.3 344.00,109.1 344.50,101.5 346.00,77.9 346.25,73.8 346.50,69.2 346.75,64.1 347.00,58.2 347.50,45.4 347.75,40.2 348.00,37.1 348.25,37.1 348.50,40.5 348.75,46.0 349.00,52.6 349.25,60.1 349.50,68.2 350.00,85.0 350.25,93.3 350.50,101.2 350.75,108.6 351.00,115.3 351.25,121.3 351.50,126.6 351.75,131.2 352.00,135.1 352.25,138.3 352.50,141.0 352.75,143.1 353.00,144.5 353.25,144.9 353.50,143.3 353.75,139.3 354.00,134.9 354.25,135.0 354.50,140.3 354.75,146.1 355.00,149.7 355.25,151.3 355.50,151.8 355.75,151.5 356.00,149.5 356.25,143.9 356.75,124.1 357.00,123.8 357.25,133.6 357.50,144.1 357.75,150.4 358.00,153.0 358.25,153.8 358.50,153.7 358.75,152.5 359.00,149.2 359.25,143.6 359.50,138.6 359.75,139.1 360.00,144.7 360.25,150.0 360.50,153.0 360.75,154.0 361.00,153.8 361.25,152.2 361.50,148.4 361.75,142.1 362.00,136.8 362.25,137.7 362.50,143.5 362.75,148.5 363.00,150.1 363.25,147.7 363.75,137.0 364.00,137.0 364.50,146.9 364.75,149.4 365.00,149.9 365.25,149.3 365.50,148.4 365.75,147.2 366.00,145.7 366.25,143.9 366.50,141.9 366.75,139.5 367.00,136.8 367.25,133.8 367.50,130.3 367.75,126.5 368.00,122.4 368.25,117.8 368.50,113.0 368.75,107.8 369.00,102.4 369.50,91.0 369.75,85.2 370.00,78.1 370.25,65.5 370.50,48.2 370.75,41.6 371.00,39.0 371.25,38.4 371.50,39.5 371.75,42.1 372.00,46.1 372.25,52.2 372.50,59.9 372.75,68.7 373.25,87.4 373.50,96.5 373.75,105.3 374.00,113.3 374.25,120.7 374.50,127.2 374.75,132.8 375.00,137.6 375.25,141.6 375.50,144.9 375.75,147.6 376.00,149.7 376.25,151.4 376.50,152.8 376.75,153.8 377.00,154.6 377.50,155.8 378.25,157.0 379.50,158.0 381.50,159.0 384.75,159.7 391.00,160.2" fill="none" stroke="#4bacc6" stroke-width="0.45" stroke-opacity="0.9"/>
<polyline points="325.50,159.9 330.00,159.0 333.00,157.8 335.00,156.7 336.50,155.3 337.50,154.1 338.25,152.8 339.00,151.0 339.50,149.6 340.00,147.7 340.50,145.4 341.00,142.6 341.25,140.9 341.50,139.1 341.75,137.1 342.00,134.9 342.25,132.5 342.50,129.9 342.75,127.0 343.00,124.0 343.25,120.7 343.50,117.2 343.75,113.5 344.25,105.7 346.00,76.5 346.25,72.0 346.50,66.9 346.75,61.0 347.00,54.4 347.25,47.5 347.50,41.7 347.75,38.1 348.00,37.9 348.25,41.5 348.50,47.5 348.75,54.6 349.00,62.7 349.25,71.4 349.75,89.3 350.00,97.9 350.25,106.0 350.50,113.4 350.75,120.1 351.00,125.9 351.25,130.8 351.50,135.1 351.75,138.5 352.00,141.4 352.25,143.7 352.50,145.5 352.75,146.7 353.00,147.1 353.25,145.5 353.50,141.4 353.75,137.1 354.00,137.9 354.25,143.5 354.50,148.6 354.75,151.4 355.00,152.5 355.25,152.7 355.50,152.2 355.75,149.6 356.00,142.9 356.25,132.3 356.50,125.3 356.75,130.6 357.00,141.6 357.25,149.6 357.50,153.2 357.75,154.3 358.00,154.6 358.25,154.4 358.50,153.2 358.75,149.5 359.00,143.0 359.25,137.3 359.50,138.7 359.75,145.5 360.00,151.2 360.25,154.0 360.50,154.7 360.75,154.6 361.00,153.3 361.25,149.6 361.50,143.3 361.75,137.7 362.00,139.2 362.25,145.5 362.50,150.6 362.75,152.5 363.00,151.4 363.25,147.4 363.50,141.6 363.75,138.7 364.00,142.2 364.25,147.4 364.50,150.6 364.75,151.5 365.00,151.3 365.25,150.6 365.50,149.7 365.75,148.5 366.00,147.1 366.25,145.4 366.50,143.4 366.75,141.0 367.00,138.3 367.25,135.2 367.50,131.7 367.75,127.7 368.00,123.3 368.25,118.5 368.50,113.3 368.75,107.7 369.00,101.8 369.25,95.7 369.50,89.4 369.75,81.8 370.00,67.8 370.25,49.2 370.50,42.5 370.75,39.5 371.00,38.4 371.25,39.1 371.50,41.2 371.75,44.5 372.00,50.0 372.25,57.4 372.50,66.2 372.75,75.9 373.25,95.6 373.50,105.0 373.75,113.6 374.00,121.4 374.25,128.2 374.50,134.0 374.75,138.9 375.00,142.9 375.25,146.1 375.50,148.7 375.75,150.7 376.00,152.2 376.25,153.4 376.50,154.3 377.00,155.7 377.75,156.8 378.75,157.8 380.50,158.7 383.25,159.5 388.50,160.0 391.00,160.1" fill="none" stroke="#6fa8dc" stroke-width="0.45" stroke-opacity="0.9"/>
<polyline points="325.50,159.2 330.00,158.3 333.00,157.1 335.00,155.8 336.50,154.4 337.50,153.1 338.25,151.7 339.00,149.9 339.50,148.3 340.00,146.3 340.50,143.9 341.00,140.9 341.25,139.2 341.50,137.3 341.75,135.2 342.00,132.9 342.25,130.4 342.50,127.7 342.75,124.8 343.00,121.7 343.25,118.5 343.50,115.0 344.00,107.5 344.75,95.4 345.75,79.2 346.00,75.1 346.25,70.5 346.50,65.4 346.75,59.5 347.25,46.2 347.50,40.8 347.75,37.7 348.00,37.9 348.25,41.9 348.50,47.8 348.75,54.9 349.00,62.9 349.25,71.4 349.75,88.9 350.00,97.4 350.25,105.3 350.50,112.6 350.75,119.2 351.00,124.9 351.25,129.9 351.50,134.1 351.75,137.6 352.00,140.5 352.25,142.8 352.50,144.6 352.75,145.9 353.00,146.3 353.25,144.9 353.50,140.9 353.75,136.1 354.00,135.6 354.25,140.9 354.50,146.7 354.75,150.2 355.00,151.6 355.25,152.1 355.50,152.1 355.75,150.9 356.00,147.1 356.25,138.8 356.50,128.7 356.75,125.8 357.00,133.9 357.25,144.1 357.50,150.4 357.75,152.9 358.00,153.6 358.25,153.5 358.50,152.2 358.75,148.6 359.00,142.2 359.25,136.6 359.50,137.9 359.75,144.6 360.00,150.3 360.25,153.2 360.50,154.1 360.75,154.2 361.00,153.7 361.25,152.0 361.50,148.0 361.75,142.0 362.00,138.3 362.25,141.0 362.50,146.6 362.75,150.0 363.00,149.7 363.25,145.6 363.50,139.4 363.75,136.2 364.00,139.8 364.25,145.5 364.50,149.1 364.75,150.2 365.00,150.1 365.25,149.4 365.50,148.4 365.75,147.1 366.00,145.6 366.25,143.8 366.50,141.7 366.75,139.3 367.00,136.5 367.25,133.3 367.50,129.7 367.75,125.7 368.00,121.3 368.25,116.4 368.50,111.2 368.75,105.7 369.00,99.9 369.25,93.8 369.50,87.6 369.75,80.2 370.00,66.8 370.25,48.5 370.50,41.6 370.75,38.5 371.00,37.5 371.25,38.2 371.50,40.4 371.75,43.8 372.00,49.2 372.25,56.6 372.50,65.4 372.75,74.9 373.25,94.3 373.50,103.6 373.75,112.1 374.00,119.8 374.25,126.6 374.50,132.5 374.75,137.5 375.00,141.6 375.25,144.9 375.50,147.5 375.75,149.6 376.00,151.2 376.25,152.5 376.50,153.5 377.00,154.8 377.50,155.8 378.50,156.9 380.00,157.8 382.50,158.7 387.00,159.3 391.00,159.5" fill="none" stroke="#5b86cc" stroke-width="0.45" stroke-opacity="0.9"/>
</g>
<g style="filter:grayscale(1)">
<text x="347" y="26.5" font-size="6.7" font-weight="normal" letter-spacing="0.35" stroke="#1a1a1a" stroke-width="0.45" text-anchor="middle" fill="#1a1a1a">O11<tspan font-size="5.7" dy="-0.3" stroke-width="0.6">+</tspan><tspan dy="0.3"></tspan></text>
<text x="347" y="35.0" font-size="6.7" font-weight="normal" letter-spacing="0.35" stroke="#1a1a1a" stroke-width="0.45" text-anchor="middle" fill="#1a1a1a">V13</text>
<text x="371" y="35.0" font-size="6.7" font-weight="normal" letter-spacing="0.35" stroke="#1a1a1a" stroke-width="0.45" text-anchor="middle" fill="#1a1a1a">O8</text>
<text x="359" y="61.5" font-size="6.7" font-weight="normal" letter-spacing="0.35" stroke="#1a1a1a" stroke-width="0.45" text-anchor="middle" fill="#1a1a1a">L14<tspan font-size="5.7" dy="-0.3" stroke-width="0.6">+</tspan><tspan dy="0.3"></tspan></text>
<text x="359" y="70.0" font-size="6.7" font-weight="normal" letter-spacing="0.35" stroke="#1a1a1a" stroke-width="0.45" text-anchor="middle" fill="#1a1a1a">V10<tspan font-size="5.7" dy="-0.3" stroke-width="0.6">+</tspan><tspan dy="0.3"></tspan></text>
<text x="359" y="80.5" font-size="6.7" font-weight="normal" letter-spacing="0.35" stroke="#1a1a1a" stroke-width="0.45" text-anchor="middle" fill="#1a1a1a">Ln8</text>
<text x="363.4" y="127.8" font-size="6.7" font-weight="normal" letter-spacing="0.35" stroke="#1a1a1a" stroke-width="0.45" text-anchor="middle" fill="#1a1a1a">L8</text>
<line x1="353.1" y1="134" x2="353.1" y2="158.5" stroke="#3a3a3a" stroke-width="1.2"/>
<line x1="359.5" y1="130.2" x2="359.5" y2="159.5" stroke="#3a3a3a" stroke-width="1.2"/>
<line x1="365.4" y1="132.2" x2="365.4" y2="158.1" stroke="#3a3a3a" stroke-width="1.2"/>
<line x1="357.5" y1="83" x2="357.0" y2="113.5" stroke="#202020" stroke-width="0.7"/>
<polygon points="357.0,113.5 355.74,110.78 358.35,110.82" fill="#202020"/>
</g>
<g style="filter:grayscale(1)">
<line x1="400.5" y1="6.5" x2="400.5" y2="168" stroke="#c0c0c0" stroke-width="0.8"/>
<line x1="400.5" y1="168" x2="481.3" y2="168" stroke="#c0c0c0" stroke-width="0.8"/>
<line x1="400.5" y1="6.5" x2="481.3" y2="6.5" stroke="#c0c0c0" stroke-width="0.8"/>
<line x1="400.5" y1="9.4" x2="402.5" y2="9.4" stroke="#c0c0c0" stroke-width="0.6"/>
<line x1="479.3" y1="9.4" x2="481.3" y2="9.4" stroke="#c0c0c0" stroke-width="0.6"/>
<text x="399.2" y="10.700000000000001" font-size="3.8" text-anchor="end" fill="#333">0.4</text>
<line x1="400.5" y1="28.1" x2="402.5" y2="28.1" stroke="#c0c0c0" stroke-width="0.6"/>
<line x1="479.3" y1="28.1" x2="481.3" y2="28.1" stroke="#c0c0c0" stroke-width="0.6"/>
<text x="399.2" y="29.400000000000002" font-size="3.8" text-anchor="end" fill="#333">0.35</text>
<line x1="400.5" y1="46.8" x2="402.5" y2="46.8" stroke="#c0c0c0" stroke-width="0.6"/>
<line x1="479.3" y1="46.8" x2="481.3" y2="46.8" stroke="#c0c0c0" stroke-width="0.6"/>
<text x="399.2" y="48.099999999999994" font-size="3.8" text-anchor="end" fill="#333">0.3</text>
<line x1="400.5" y1="65.5" x2="402.5" y2="65.5" stroke="#c0c0c0" stroke-width="0.6"/>
<line x1="479.3" y1="65.5" x2="481.3" y2="65.5" stroke="#c0c0c0" stroke-width="0.6"/>
<text x="399.2" y="66.8" font-size="3.8" text-anchor="end" fill="#333">0.25</text>
<line x1="400.5" y1="84.2" x2="402.5" y2="84.2" stroke="#c0c0c0" stroke-width="0.6"/>
<line x1="479.3" y1="84.2" x2="481.3" y2="84.2" stroke="#c0c0c0" stroke-width="0.6"/>
<text x="399.2" y="85.5" font-size="3.8" text-anchor="end" fill="#333">0.2</text>
<line x1="400.5" y1="102.9" x2="402.5" y2="102.9" stroke="#c0c0c0" stroke-width="0.6"/>
<line x1="479.3" y1="102.9" x2="481.3" y2="102.9" stroke="#c0c0c0" stroke-width="0.6"/>
<text x="399.2" y="104.2" font-size="3.8" text-anchor="end" fill="#333">0.15</text>
<line x1="400.5" y1="121.6" x2="402.5" y2="121.6" stroke="#c0c0c0" stroke-width="0.6"/>
<line x1="479.3" y1="121.6" x2="481.3" y2="121.6" stroke="#c0c0c0" stroke-width="0.6"/>
<text x="399.2" y="122.89999999999999" font-size="3.8" text-anchor="end" fill="#333">0.1</text>
<line x1="400.5" y1="140.3" x2="402.5" y2="140.3" stroke="#c0c0c0" stroke-width="0.6"/>
<line x1="479.3" y1="140.3" x2="481.3" y2="140.3" stroke="#c0c0c0" stroke-width="0.6"/>
<text x="399.2" y="141.60000000000002" font-size="3.8" text-anchor="end" fill="#333">0.05</text>
<line x1="400.5" y1="159.0" x2="402.5" y2="159.0" stroke="#c0c0c0" stroke-width="0.6"/>
<line x1="479.3" y1="159.0" x2="481.3" y2="159.0" stroke="#c0c0c0" stroke-width="0.6"/>
<text x="399.2" y="160.3" font-size="3.8" text-anchor="end" fill="#333">0</text>
<line x1="415" y1="168" x2="415" y2="166" stroke="#c0c0c0" stroke-width="0.6"/>
<line x1="415" y1="6.5" x2="415" y2="8.5" stroke="#c0c0c0" stroke-width="0.6"/>
<text x="415" y="172.6" font-size="3.8" text-anchor="middle" fill="#333">24.92</text>
<line x1="432.5" y1="168" x2="432.5" y2="166" stroke="#c0c0c0" stroke-width="0.6"/>
<line x1="432.5" y1="6.5" x2="432.5" y2="8.5" stroke="#c0c0c0" stroke-width="0.6"/>
<text x="432.5" y="172.6" font-size="3.8" text-anchor="middle" fill="#333">24.9</text>
<line x1="450.5" y1="168" x2="450.5" y2="166" stroke="#c0c0c0" stroke-width="0.6"/>
<line x1="450.5" y1="6.5" x2="450.5" y2="8.5" stroke="#c0c0c0" stroke-width="0.6"/>
<text x="450.5" y="172.6" font-size="3.8" text-anchor="middle" fill="#333">24.88</text>
<line x1="469" y1="168" x2="469" y2="166" stroke="#c0c0c0" stroke-width="0.6"/>
<line x1="469" y1="6.5" x2="469" y2="8.5" stroke="#c0c0c0" stroke-width="0.6"/>
<text x="469" y="172.6" font-size="3.8" text-anchor="middle" fill="#333">24.86</text>
</g>
<g clip-path="url(#c2)">
<polyline points="400.50,154.9 404.00,153.7 406.50,152.3 408.50,150.7 410.00,149.0 411.25,147.1 412.25,145.2 413.25,142.8 414.00,140.6 414.75,137.9 415.50,134.7 416.25,130.9 416.75,127.9 417.25,124.6 417.75,120.9 418.25,116.8 419.00,110.2 420.00,101.2 420.50,97.2 420.75,95.5 421.00,94.0 421.25,92.8 421.50,91.9 421.75,91.3 422.00,91.2 422.25,91.3 422.50,91.9 422.75,92.8 423.00,94.0 423.25,95.4 423.50,97.1 424.00,101.0 425.25,111.7 425.75,115.7 426.25,119.3 426.75,122.4 427.25,125.0 427.75,127.1 428.25,128.6 428.75,129.6 429.25,130.0 429.75,129.8 430.25,129.1 430.75,127.9 431.25,126.2 431.75,124.2 432.50,120.4 434.00,112.2 434.50,109.7 435.00,107.6 435.50,106.0 436.00,104.9 436.25,104.7 436.50,104.5 436.75,104.6 437.00,104.8 437.25,105.2 437.75,106.4 438.25,108.3 438.75,110.6 439.50,114.7 441.00,123.8 441.75,127.9 442.25,130.2 442.75,132.3 443.25,133.9 443.75,135.1 444.25,135.9 444.75,136.3 445.25,136.4 445.75,136.1 446.50,135.1 447.25,133.5 448.00,131.3 448.75,128.5 449.50,125.2 450.25,121.2 451.00,116.6 451.75,111.4 452.50,105.5 453.25,98.9 454.25,89.5 455.25,80.1 455.75,75.7 456.25,71.9 456.50,70.2 456.75,68.7 457.00,67.5 457.25,66.5 457.50,65.8 457.75,65.3 458.00,65.2 458.25,65.3 458.50,65.8 458.75,66.5 459.00,67.5 459.25,68.8 459.50,70.2 459.75,71.9 460.25,75.8 460.75,80.3 461.75,90.0 462.75,99.6 463.50,106.3 464.25,112.5 465.00,118.0 465.75,122.8 466.50,127.0 467.25,130.7 468.00,133.9 468.75,136.8 469.75,140.0 470.75,142.7 472.00,145.5 473.50,148.1 475.25,150.6 477.25,152.8 479.75,154.8 480.50,155.3" fill="none" stroke="#c0504d" stroke-width="0.45" stroke-opacity="0.9"/>
<polyline points="400.50,155.3 404.00,154.3 406.50,153.0 408.50,151.6 410.00,150.0 411.25,148.2 412.25,146.4 413.25,144.1 414.00,141.9 414.75,139.2 415.50,135.9 416.00,133.2 416.50,130.2 417.00,126.8 417.50,123.0 418.00,118.7 418.50,114.0 419.75,101.6 420.00,99.3 420.25,97.2 420.50,95.4 420.75,93.9 421.00,92.8 421.25,92.0 421.50,91.7 421.75,91.9 422.00,92.5 422.25,93.5 422.50,94.8 422.75,96.5 423.00,98.5 423.50,103.0 424.50,112.7 425.00,117.3 425.50,121.5 426.00,125.1 426.50,128.2 427.00,130.8 427.50,132.8 428.00,134.2 428.50,135.1 429.00,135.5 429.50,135.3 430.00,134.5 430.50,133.1 431.00,131.2 431.50,128.9 432.00,126.1 433.00,119.8 433.75,115.1 434.25,112.3 434.75,109.9 435.00,109.0 435.25,108.2 435.50,107.6 435.75,107.3 436.00,107.1 436.25,107.1 436.50,107.4 436.75,107.8 437.00,108.5 437.25,109.3 437.50,110.4 438.00,112.9 438.50,115.9 439.50,122.7 440.25,127.9 440.75,131.0 441.25,133.8 441.75,136.2 442.25,138.2 442.75,139.7 443.25,140.7 443.75,141.4 444.25,141.6 445.00,141.4 445.75,140.6 446.50,139.2 447.25,137.3 448.00,135.0 448.75,132.2 449.50,128.8 450.25,124.9 450.75,121.9 451.25,118.6 451.75,114.9 452.25,110.9 452.75,106.5 453.50,99.3 454.50,89.0 455.25,81.2 455.75,76.5 456.00,74.3 456.25,72.4 456.50,70.6 456.75,69.2 457.00,68.0 457.25,67.2 457.50,66.7 457.75,66.5 458.00,66.7 458.25,67.2 458.50,68.1 458.75,69.3 459.00,70.8 459.25,72.6 459.50,74.6 459.75,76.8 460.25,81.6 462.00,100.1 462.75,107.4 463.25,111.9 463.75,116.0 464.25,119.8 464.75,123.2 465.50,127.8 466.25,131.7 467.00,135.1 467.75,138.0 468.75,141.3 469.75,144.0 471.00,146.7 472.25,148.9 473.75,151.1 475.75,153.2 478.00,155.1 480.50,156.6" fill="none" stroke="#f79646" stroke-width="0.45" stroke-opacity="0.9"/>
<polyline points="400.50,155.4 404.50,154.4 407.25,153.2 409.25,151.9 411.00,150.2 412.25,148.5 413.25,146.7 414.25,144.4 415.00,142.2 415.75,139.6 416.50,136.3 417.00,133.7 417.50,130.7 418.00,127.2 418.50,123.3 419.00,118.9 419.50,114.1 420.50,104.0 421.00,99.4 421.25,97.3 421.50,95.6 421.75,94.2 422.00,93.2 422.25,92.6 422.50,92.5 422.75,92.9 423.00,93.7 423.25,95.0 423.50,96.6 423.75,98.5 424.00,100.7 424.50,105.4 425.50,115.3 426.00,119.9 426.50,123.9 427.00,127.5 427.50,130.5 428.00,133.0 428.50,135.0 429.00,136.5 429.50,137.5 430.00,137.9 430.50,137.9 431.00,137.2 431.50,136.0 432.00,134.2 432.50,131.8 433.00,128.9 433.50,125.5 435.00,114.4 435.50,111.0 436.00,108.1 436.25,106.9 436.50,105.9 436.75,105.1 437.00,104.5 437.25,104.2 437.50,104.1 437.75,104.2 438.00,104.6 438.25,105.3 438.50,106.1 438.75,107.2 439.00,108.5 439.50,111.5 440.00,115.0 441.50,126.5 442.00,130.0 442.50,133.1 443.00,135.7 443.50,137.9 444.00,139.5 444.50,140.6 445.00,141.2 445.50,141.5 446.00,141.4 446.75,140.6 447.50,139.3 448.25,137.4 449.00,135.1 449.75,132.2 450.50,128.8 451.25,124.7 451.75,121.6 452.25,118.2 452.75,114.4 453.25,110.2 453.75,105.6 454.25,100.6 455.00,92.7 456.00,81.8 456.50,76.7 456.75,74.3 457.00,72.2 457.25,70.3 457.50,68.6 457.75,67.2 458.00,66.2 458.25,65.5 458.50,65.2 458.75,65.3 459.00,65.8 459.25,66.6 459.50,67.8 459.75,69.3 460.00,71.1 460.25,73.1 460.50,75.4 461.00,80.4 462.75,99.6 463.25,104.8 463.75,109.6 464.25,114.0 464.75,118.1 465.25,121.7 465.75,125.1 466.50,129.5 467.25,133.2 468.00,136.4 468.75,139.2 469.75,142.3 470.75,144.8 472.00,147.4 473.50,149.8 475.25,152.0 477.25,153.9 479.75,155.7 480.50,156.1" fill="none" stroke="#d4c84a" stroke-width="0.45" stroke-opacity="0.9"/>
<polyline points="400.50,155.4 404.25,154.4 407.00,153.1 409.00,151.6 410.50,150.1 411.75,148.3 412.75,146.5 413.75,144.2 414.50,142.0 415.25,139.4 416.00,136.1 416.50,133.6 417.00,130.6 417.50,127.3 418.00,123.5 418.50,119.3 419.25,112.2 420.25,102.5 420.50,100.2 420.75,98.2 421.00,96.3 421.25,94.8 421.50,93.6 421.75,92.9 422.00,92.5 422.25,92.6 422.50,93.1 422.75,94.0 423.00,95.4 423.25,97.0 423.50,98.9 424.00,103.3 425.25,115.1 425.75,119.5 426.25,123.4 426.75,126.7 427.25,129.6 427.75,131.9 428.25,133.7 428.75,134.9 429.25,135.6 429.75,135.7 430.25,135.2 430.75,134.2 431.25,132.5 431.75,130.3 432.25,127.5 432.75,124.4 433.50,119.1 434.50,111.9 435.00,108.7 435.50,105.9 435.75,104.8 436.00,103.9 436.25,103.2 436.50,102.7 436.75,102.5 437.00,102.4 437.25,102.6 437.50,103.0 437.75,103.7 438.00,104.6 438.25,105.6 438.50,106.9 439.00,109.9 439.50,113.3 441.00,124.6 441.50,128.1 442.00,131.3 442.50,134.0 443.00,136.2 443.50,137.9 444.00,139.1 444.50,139.9 445.00,140.2 445.50,140.2 446.25,139.5 447.00,138.3 447.75,136.4 448.50,134.0 449.25,131.1 450.00,127.7 450.75,123.6 451.25,120.5 451.75,117.1 452.25,113.3 452.75,109.1 453.25,104.6 454.00,97.2 455.75,78.7 456.25,73.9 456.50,71.7 456.75,69.7 457.00,68.0 457.25,66.5 457.50,65.3 457.75,64.5 458.00,64.0 458.25,63.9 458.50,64.1 458.75,64.7 459.00,65.6 459.25,66.9 459.50,68.5 459.75,70.3 460.00,72.3 460.25,74.6 460.75,79.6 462.50,98.4 463.25,105.9 463.75,110.5 464.25,114.8 464.75,118.6 465.25,122.2 466.00,126.8 466.75,130.9 467.50,134.3 468.25,137.3 469.00,139.9 470.00,142.8 471.00,145.2 472.25,147.7 473.75,150.1 475.50,152.2 477.75,154.3 480.50,156.2" fill="none" stroke="#9bbb59" stroke-width="0.45" stroke-opacity="0.9"/>
<polyline points="400.50,155.8 404.50,154.9 407.25,153.7 409.50,152.2 411.25,150.6 412.50,148.9 413.50,147.2 414.50,145.0 415.25,142.9 416.00,140.4 416.75,137.3 417.25,134.8 417.75,132.0 418.25,128.8 418.75,125.2 419.25,121.2 419.75,116.8 421.00,104.9 421.50,100.5 421.75,98.6 422.00,97.0 422.25,95.7 422.50,94.8 422.75,94.3 423.00,94.2 423.25,94.6 423.50,95.3 423.75,96.5 424.00,97.9 424.25,99.7 424.50,101.7 425.00,106.1 426.00,115.4 426.50,119.7 427.00,123.6 427.50,127.0 428.00,129.9 428.50,132.2 429.00,134.1 429.50,135.4 430.00,136.1 430.50,136.3 431.00,136.0 431.50,135.1 432.00,133.5 432.50,131.5 433.00,128.9 433.50,125.9 434.25,120.8 435.25,113.7 435.75,110.6 436.25,107.8 436.50,106.7 436.75,105.8 437.00,105.0 437.25,104.4 437.50,104.1 437.75,104.0 438.00,104.1 438.25,104.5 438.50,105.0 438.75,105.8 439.00,106.8 439.25,107.9 439.75,110.7 440.25,114.0 442.00,126.7 442.50,130.0 443.00,132.9 443.50,135.4 444.00,137.3 444.50,138.8 445.00,139.9 445.50,140.4 446.00,140.6 446.50,140.5 447.25,139.6 448.00,138.2 448.75,136.2 449.50,133.7 450.25,130.7 451.00,127.1 451.75,122.9 452.25,119.7 452.75,116.1 453.25,112.2 453.75,108.0 454.25,103.3 455.00,95.8 456.50,80.0 457.00,75.2 457.25,73.0 457.50,71.0 457.75,69.2 458.00,67.7 458.25,66.5 458.50,65.6 458.75,65.0 459.00,64.8 459.25,65.0 459.50,65.5 459.75,66.4 460.00,67.5 460.25,69.0 460.50,70.8 460.75,72.8 461.00,75.0 461.50,79.9 462.50,90.5 463.25,98.6 464.00,106.0 464.50,110.6 465.00,114.9 465.50,118.8 466.00,122.3 466.75,127.0 467.50,131.0 468.25,134.5 469.00,137.5 469.75,140.1 470.75,143.0 471.75,145.4 473.00,147.9 474.50,150.3 476.25,152.4 478.50,154.5 480.50,155.9" fill="none" stroke="#8064a2" stroke-width="0.45" stroke-opacity="0.9"/>
<polyline points="400.50,155.9 404.25,154.9 407.00,153.7 409.25,152.2 411.00,150.4 412.25,148.7 413.25,146.9 414.25,144.7 415.00,142.6 415.75,140.0 416.50,136.9 417.00,134.4 417.50,131.6 418.00,128.4 418.50,124.8 419.00,120.7 419.50,116.3 421.00,101.9 421.25,99.7 421.50,97.7 421.75,95.9 422.00,94.4 422.25,93.2 422.50,92.4 422.75,92.1 423.00,92.1 423.25,92.6 423.50,93.5 423.75,94.8 424.00,96.3 424.25,98.2 424.75,102.4 426.00,114.1 426.50,118.5 427.00,122.4 427.50,125.8 428.00,128.7 428.50,131.1 429.00,132.9 429.50,134.2 430.00,134.9 430.50,135.1 431.00,134.8 431.50,133.9 432.00,132.4 432.50,130.4 433.00,128.0 433.75,123.7 435.25,114.3 435.75,111.5 436.25,109.2 436.50,108.2 436.75,107.5 437.00,106.9 437.25,106.5 437.50,106.3 437.75,106.3 438.00,106.5 438.25,106.8 438.50,107.4 438.75,108.2 439.25,110.3 439.75,112.9 440.50,117.6 441.75,126.0 442.50,130.6 443.00,133.2 443.50,135.4 444.00,137.2 444.50,138.5 445.00,139.4 445.50,139.9 446.00,140.0 446.75,139.5 447.50,138.4 448.25,136.7 449.00,134.4 449.75,131.6 450.50,128.3 451.25,124.3 452.00,119.7 452.50,116.2 453.00,112.4 453.50,108.2 454.25,101.4 455.00,94.0 456.00,83.9 456.50,79.2 457.00,74.9 457.25,73.0 457.50,71.4 457.75,70.0 458.00,68.8 458.25,68.0 458.50,67.5 458.75,67.4 459.00,67.5 459.25,68.0 459.50,68.8 459.75,69.9 460.00,71.3 460.25,73.0 460.50,74.9 460.75,77.0 461.25,81.6 462.00,89.2 463.00,99.4 463.75,106.7 464.25,111.1 464.75,115.2 465.25,119.0 466.00,124.1 466.75,128.5 467.50,132.3 468.25,135.6 469.00,138.5 470.00,141.7 471.00,144.3 472.25,147.0 473.75,149.6 475.50,152.0 477.50,154.0 480.00,155.9 480.50,156.2" fill="none" stroke="#e8a33d" stroke-width="0.45" stroke-opacity="0.9"/>
<polyline points="400.50,155.7 404.50,154.7 407.50,153.5 409.75,152.0 411.50,150.3 412.75,148.6 413.75,146.8 414.75,144.5 415.50,142.4 416.25,139.8 417.00,136.5 417.50,134.0 418.00,131.1 418.50,127.8 419.00,124.1 419.50,120.0 420.25,113.2 421.00,106.1 421.50,101.8 421.75,100.0 422.00,98.3 422.25,97.0 422.50,96.1 422.75,95.5 423.00,95.4 423.25,95.7 423.50,96.3 423.75,97.4 424.00,98.8 424.25,100.5 424.50,102.4 425.00,106.7 426.00,115.8 426.50,120.0 427.00,123.8 427.50,127.1 428.00,129.9 428.50,132.2 429.00,133.9 429.50,135.0 430.00,135.6 430.50,135.7 431.00,135.1 431.50,134.0 432.00,132.2 432.50,129.9 433.00,127.1 433.50,123.9 435.25,111.5 435.75,108.4 436.25,105.9 436.50,104.9 436.75,104.1 437.00,103.5 437.25,103.1 437.50,102.9 437.75,103.0 438.00,103.3 438.25,103.8 438.50,104.6 438.75,105.5 439.00,106.7 439.50,109.5 440.00,112.8 441.00,120.2 441.75,125.8 442.25,129.2 442.75,132.3 443.25,134.8 443.75,136.9 444.25,138.6 444.75,139.7 445.25,140.3 445.75,140.6 446.25,140.5 447.00,139.8 447.75,138.4 448.50,136.5 449.25,134.2 450.00,131.2 450.75,127.8 451.50,123.6 452.00,120.5 452.50,117.1 453.00,113.3 453.50,109.1 454.00,104.6 454.75,97.3 456.25,81.7 456.75,76.9 457.00,74.7 457.25,72.6 457.50,70.8 457.75,69.3 458.00,68.0 458.25,67.0 458.50,66.4 458.75,66.1 459.00,66.2 459.25,66.6 459.50,67.3 459.75,68.4 460.00,69.8 460.25,71.5 460.50,73.4 460.75,75.5 461.25,80.2 462.00,88.1 463.00,98.7 463.75,106.1 464.25,110.7 464.75,114.9 465.25,118.7 465.75,122.3 466.50,127.0 467.25,131.0 468.00,134.4 468.75,137.4 469.50,140.0 470.50,142.9 471.50,145.3 472.75,147.8 474.25,150.1 476.00,152.3 478.25,154.4 480.50,155.9" fill="none" stroke="#4fb0a0" stroke-width="0.45" stroke-opacity="0.9"/>
<polyline points="400.50,155.4 404.25,154.4 407.00,153.2 409.00,151.9 410.75,150.2 412.00,148.6 413.00,146.8 414.00,144.7 414.75,142.6 415.50,140.1 416.25,137.0 416.75,134.6 417.25,131.8 417.75,128.6 418.25,125.0 418.75,121.0 419.25,116.6 420.75,102.3 421.00,100.2 421.25,98.2 421.50,96.5 421.75,95.1 422.00,94.1 422.25,93.5 422.50,93.3 422.75,93.5 423.00,94.1 423.25,95.1 423.50,96.5 423.75,98.2 424.00,100.2 424.50,104.5 425.50,113.9 426.00,118.4 426.50,122.4 427.00,125.9 427.50,129.0 428.00,131.5 428.50,133.6 429.00,135.1 429.50,136.1 430.00,136.7 430.50,136.7 431.00,136.2 431.50,135.2 432.00,133.7 432.50,131.7 433.00,129.3 433.75,125.2 435.00,117.9 435.50,115.3 436.00,113.1 436.50,111.5 436.75,110.9 437.00,110.6 437.25,110.4 437.50,110.4 437.75,110.6 438.00,110.9 438.25,111.5 438.50,112.2 439.00,114.2 439.50,116.7 440.25,121.1 441.50,128.8 442.25,133.0 442.75,135.4 443.25,137.4 443.75,139.0 444.25,140.1 444.75,140.8 445.25,141.2 446.00,141.1 446.75,140.4 447.50,139.1 448.25,137.3 449.00,135.0 449.75,132.3 450.50,129.0 451.25,125.1 452.00,120.6 452.50,117.1 453.00,113.4 453.50,109.3 454.25,102.5 455.00,95.1 456.25,82.5 456.75,77.9 457.00,75.8 457.25,73.9 457.50,72.2 457.75,70.8 458.00,69.6 458.25,68.8 458.50,68.3 458.75,68.2 459.00,68.3 459.25,68.8 459.50,69.7 459.75,70.8 460.00,72.3 460.25,74.0 460.50,75.9 461.00,80.3 461.50,85.2 463.00,100.6 463.75,107.8 464.25,112.2 464.75,116.3 465.25,120.0 466.00,125.0 466.75,129.3 467.50,133.0 468.25,136.1 469.00,138.9 470.00,142.0 471.00,144.5 472.25,147.2 473.75,149.6 475.50,151.9 477.50,153.8 480.00,155.7 480.50,156.0" fill="none" stroke="#4bacc6" stroke-width="0.45" stroke-opacity="0.9"/>
<polyline points="400.50,156.4 404.25,155.4 407.00,154.3 409.00,152.9 410.75,151.2 412.00,149.5 413.00,147.7 414.00,145.4 414.75,143.2 415.50,140.5 416.00,138.4 416.50,135.9 417.00,133.1 417.50,129.8 418.00,126.1 418.50,121.9 419.00,117.2 420.25,104.8 420.50,102.4 420.75,100.3 421.00,98.4 421.25,96.8 421.50,95.6 421.75,94.9 422.00,94.6 422.25,94.7 422.50,95.3 422.75,96.4 423.00,97.8 423.25,99.6 423.50,101.6 424.00,106.3 425.00,116.1 425.50,120.6 426.00,124.7 426.50,128.3 427.00,131.3 427.50,133.7 428.00,135.7 428.50,137.0 429.00,137.8 429.50,138.1 430.00,137.7 430.50,136.8 431.00,135.2 431.50,133.0 432.00,130.3 432.50,127.0 433.25,121.6 434.25,114.1 434.75,110.7 435.00,109.3 435.25,108.0 435.50,106.8 435.75,105.9 436.00,105.2 436.25,104.8 436.50,104.6 436.75,104.7 437.00,105.0 437.25,105.5 437.50,106.3 437.75,107.3 438.00,108.6 438.25,110.0 438.75,113.3 439.50,119.0 440.50,127.0 441.00,130.7 441.50,134.0 442.00,136.8 442.50,139.1 443.00,140.9 443.50,142.2 444.00,143.1 444.50,143.5 445.00,143.5 445.75,143.0 446.50,141.9 447.25,140.3 448.00,138.3 448.75,135.8 449.50,132.9 450.25,129.3 451.00,125.2 451.50,122.0 452.00,118.4 452.50,114.5 453.00,110.2 453.50,105.5 454.00,100.4 454.75,92.3 455.75,81.2 456.25,76.0 456.50,73.7 456.75,71.5 457.00,69.6 457.25,68.0 457.50,66.8 457.75,65.8 458.00,65.3 458.25,65.1 458.50,65.3 458.75,65.9 459.00,66.9 459.25,68.2 459.50,69.9 459.75,71.8 460.00,74.0 460.25,76.4 460.75,81.7 462.25,98.5 462.75,103.8 463.25,108.8 463.75,113.4 464.25,117.7 464.75,121.5 465.25,124.9 465.75,128.1 466.50,132.2 467.25,135.7 468.00,138.7 468.75,141.3 469.75,144.2 470.75,146.6 472.00,149.0 473.50,151.3 475.25,153.4 477.50,155.4 480.25,157.2 480.50,157.3" fill="none" stroke="#6fa8dc" stroke-width="0.45" stroke-opacity="0.9"/>
<polyline points="400.50,155.6 404.25,154.6 407.00,153.3 409.00,152.0 410.75,150.3 412.00,148.7 413.25,146.5 414.25,144.2 415.00,142.1 415.75,139.5 416.50,136.3 417.00,133.9 417.50,131.0 418.00,127.9 418.50,124.3 419.00,120.3 419.75,113.6 420.75,104.2 421.25,99.8 421.50,97.9 421.75,96.3 422.00,94.9 422.25,93.9 422.50,93.2 422.75,93.0 423.00,93.2 423.25,93.7 423.50,94.6 423.75,95.9 424.00,97.5 424.25,99.3 424.75,103.5 426.00,114.7 426.50,118.9 427.00,122.6 427.50,125.8 428.00,128.4 428.50,130.5 429.00,132.1 429.50,133.1 430.00,133.5 430.50,133.3 431.00,132.6 431.50,131.3 432.00,129.4 432.50,127.1 433.00,124.3 433.75,119.6 434.75,113.1 435.25,110.1 435.75,107.5 436.25,105.5 436.50,104.8 436.75,104.2 437.00,103.8 437.25,103.7 437.50,103.7 437.75,104.0 438.00,104.4 438.25,105.1 438.50,105.9 438.75,106.9 439.25,109.4 439.75,112.4 440.50,117.4 441.50,124.3 442.25,129.1 442.75,131.8 443.25,134.1 443.75,136.0 444.25,137.4 444.75,138.3 445.25,138.8 445.75,139.0 446.25,138.7 447.00,137.8 447.75,136.3 448.50,134.2 449.25,131.5 450.00,128.3 450.75,124.5 451.50,120.0 452.00,116.6 452.50,112.9 453.00,108.9 453.75,102.2 454.50,95.0 455.75,82.3 456.25,77.6 456.75,73.3 457.00,71.4 457.25,69.8 457.50,68.4 457.75,67.2 458.00,66.4 458.25,65.9 458.50,65.7 458.75,65.9 459.00,66.4 459.25,67.2 459.50,68.3 459.75,69.6 460.00,71.3 460.25,73.1 460.50,75.2 461.00,79.8 461.75,87.4 462.75,97.7 463.50,105.0 464.25,111.6 464.75,115.7 465.25,119.3 466.00,124.3 466.75,128.6 467.50,132.3 468.25,135.5 469.00,138.3 470.00,141.4 471.00,144.0 472.25,146.7 473.75,149.3 475.50,151.6 477.50,153.7 480.00,155.6 480.50,155.9" fill="none" stroke="#5b86cc" stroke-width="0.45" stroke-opacity="0.9"/>
</g>
<g style="filter:grayscale(1)">
<text x="418" y="68.9" font-size="6.7" font-weight="normal" letter-spacing="0.35" stroke="#1a1a1a" stroke-width="0.45" text-anchor="middle" fill="#1a1a1a">O3i<tspan font-size="5.7" dy="-0.3" stroke-width="0.6">+</tspan><tspan dy="0.3"></tspan></text>
<text x="418" y="78.4" font-size="6.7" font-weight="normal" letter-spacing="0.35" stroke="#1a1a1a" stroke-width="0.45" text-anchor="middle" fill="#1a1a1a">P3i<tspan font-size="5.7" dy="-0.3" stroke-width="0.6">+</tspan><tspan dy="0.3"></tspan></text>
<text x="417.5" y="88.0" font-size="6.7" font-weight="normal" letter-spacing="0.35" stroke="#1a1a1a" stroke-width="0.45" text-anchor="middle" fill="#1a1a1a">S3i</text>
<text x="436.8" y="62.2" font-size="6.7" font-weight="normal" letter-spacing="0.35" stroke="#1a1a1a" stroke-width="0.45" text-anchor="middle" fill="#1a1a1a">Li3<tspan font-size="5.7" dy="-0.3" stroke-width="0.6">+</tspan><tspan dy="0.3"></tspan></text>
<text x="436" y="71.7" font-size="6.7" font-weight="normal" letter-spacing="0.35" stroke="#1a1a1a" stroke-width="0.45" text-anchor="middle" fill="#1a1a1a">Lni3<tspan font-size="5.7" dy="-0.3" stroke-width="0.6">+</tspan><tspan dy="0.3"></tspan></text>
<text x="436" y="80.9" font-size="6.7" font-weight="normal" letter-spacing="0.35" stroke="#1a1a1a" stroke-width="0.45" text-anchor="middle" fill="#1a1a1a">Pe3<tspan font-size="5.7" dy="-0.3" stroke-width="0.6">+</tspan><tspan dy="0.3"></tspan></text>
<text x="436" y="90.1" font-size="6.7" font-weight="normal" letter-spacing="0.35" stroke="#1a1a1a" stroke-width="0.45" text-anchor="middle" fill="#1a1a1a">Se3<tspan font-size="5.7" dy="-0.3" stroke-width="0.6">+</tspan><tspan dy="0.3"></tspan></text>
<text x="436" y="99.7" font-size="6.7" font-weight="normal" letter-spacing="0.35" stroke="#1a1a1a" stroke-width="0.45" text-anchor="middle" fill="#1a1a1a">Vi3</text>
<text x="458" y="44.5" font-size="6.7" font-weight="normal" letter-spacing="0.35" stroke="#1a1a1a" stroke-width="0.45" text-anchor="middle" fill="#1a1a1a">Oe3<tspan font-size="5.7" dy="-0.3" stroke-width="0.6">+</tspan><tspan dy="0.3"></tspan></text>
<text x="458" y="53.5" font-size="6.7" font-weight="normal" letter-spacing="0.35" stroke="#1a1a1a" stroke-width="0.45" text-anchor="middle" fill="#1a1a1a">Le3<tspan font-size="5.7" dy="-0.3" stroke-width="0.6">+</tspan><tspan dy="0.3"></tspan></text>
<text x="458" y="63.5" font-size="6.7" font-weight="normal" letter-spacing="0.35" stroke="#1a1a1a" stroke-width="0.45" text-anchor="middle" fill="#1a1a1a">Ve3<tspan font-size="5.7" dy="-0.3" stroke-width="0.6">+</tspan><tspan dy="0.3"></tspan></text>
<text x="458" y="73.0" font-size="6.7" font-weight="normal" letter-spacing="0.35" stroke="#1a1a1a" stroke-width="0.45" text-anchor="middle" fill="#1a1a1a">Lne3</text>
<line x1="428.1" y1="88.8" x2="428.1" y2="147.5" stroke="#3a3a3a" stroke-width="1.2"/>
<line x1="444.3" y1="80" x2="444.3" y2="155" stroke="#3a3a3a" stroke-width="1.2"/>
</g>
<g style="filter:grayscale(1)">
<line x1="487.5" y1="6.25" x2="487.5" y2="168.2" stroke="#c0c0c0" stroke-width="0.8"/>
<line x1="487.5" y1="168.2" x2="544.2" y2="168.2" stroke="#c0c0c0" stroke-width="0.8"/>
<line x1="487.5" y1="6.25" x2="544.2" y2="6.25" stroke="#c0c0c0" stroke-width="0.8"/>
<line x1="487.5" y1="9.4" x2="489.5" y2="9.4" stroke="#c0c0c0" stroke-width="0.6"/>
<text x="486.2" y="10.700000000000001" font-size="3.8" text-anchor="end" fill="#333">0.7</text>
<line x1="487.5" y1="30.2" x2="489.5" y2="30.2" stroke="#c0c0c0" stroke-width="0.6"/>
<text x="486.2" y="31.5" font-size="3.8" text-anchor="end" fill="#333">0.6</text>
<line x1="487.5" y1="51.0" x2="489.5" y2="51.0" stroke="#c0c0c0" stroke-width="0.6"/>
<text x="486.2" y="52.3" font-size="3.8" text-anchor="end" fill="#333">0.5</text>
<line x1="487.5" y1="71.8" x2="489.5" y2="71.8" stroke="#c0c0c0" stroke-width="0.6"/>
<text x="486.2" y="73.1" font-size="3.8" text-anchor="end" fill="#333">0.4</text>
<line x1="487.5" y1="92.6" x2="489.5" y2="92.6" stroke="#c0c0c0" stroke-width="0.6"/>
<text x="486.2" y="93.89999999999999" font-size="3.8" text-anchor="end" fill="#333">0.3</text>
<line x1="487.5" y1="113.4" x2="489.5" y2="113.4" stroke="#c0c0c0" stroke-width="0.6"/>
<text x="486.2" y="114.7" font-size="3.8" text-anchor="end" fill="#333">0.2</text>
<line x1="487.5" y1="134.2" x2="489.5" y2="134.2" stroke="#c0c0c0" stroke-width="0.6"/>
<text x="486.2" y="135.5" font-size="3.8" text-anchor="end" fill="#333">0.1</text>
<line x1="487.5" y1="155.0" x2="489.5" y2="155.0" stroke="#c0c0c0" stroke-width="0.6"/>
<text x="486.2" y="156.3" font-size="3.8" text-anchor="end" fill="#333">0</text>
<line x1="495" y1="168.2" x2="495" y2="166.2" stroke="#c0c0c0" stroke-width="0.6"/>
<line x1="495" y1="6.25" x2="495" y2="8.25" stroke="#c0c0c0" stroke-width="0.6"/>
<text x="495" y="172.79999999999998" font-size="3.8" text-anchor="middle" fill="#333">22.75</text>
<line x1="511" y1="168.2" x2="511" y2="166.2" stroke="#c0c0c0" stroke-width="0.6"/>
<line x1="511" y1="6.25" x2="511" y2="8.25" stroke="#c0c0c0" stroke-width="0.6"/>
<text x="511" y="172.79999999999998" font-size="3.8" text-anchor="middle" fill="#333">22.7</text>
<line x1="527.5" y1="168.2" x2="527.5" y2="166.2" stroke="#c0c0c0" stroke-width="0.6"/>
<line x1="527.5" y1="6.25" x2="527.5" y2="8.25" stroke="#c0c0c0" stroke-width="0.6"/>
<text x="527.5" y="172.79999999999998" font-size="3.8" text-anchor="middle" fill="#333">22.65</text>
<line x1="542.5" y1="168.2" x2="542.5" y2="166.2" stroke="#c0c0c0" stroke-width="0.6"/>
<line x1="542.5" y1="6.25" x2="542.5" y2="8.25" stroke="#c0c0c0" stroke-width="0.6"/>
<text x="542.5" y="172.79999999999998" font-size="3.8" text-anchor="middle" fill="#333">22.6</text>
</g>
<g clip-path="url(#c3)">
<polyline points="487.50,154.2 498.25,153.6 499.75,153.3 500.25,152.9 500.50,152.5 500.75,151.7 501.00,150.4 501.25,148.3 501.50,145.2 501.75,140.8 502.00,135.2 502.25,128.6 502.50,121.6 502.75,115.0 503.00,109.8 503.25,106.9 503.50,106.6 503.75,109.0 504.00,113.4 504.50,124.3 504.75,127.8 505.00,127.0 505.25,118.0 505.50,96.5 505.75,62.7 506.00,26.5 506.25,10.2 506.50,29.1 506.75,67.0 507.00,102.3 507.25,126.0 507.50,138.8 507.75,144.7 508.00,147.4 508.25,148.8 508.50,149.7 508.75,150.4 509.25,151.2 510.00,151.9 511.25,152.2 512.25,152.0 512.75,151.6 513.00,151.1 513.25,150.4 513.50,149.3 513.75,148.0 514.25,145.0 514.50,144.1 514.75,144.4 515.00,145.6 515.50,148.7 515.75,149.9 516.00,150.8 516.25,151.4 516.75,152.1 517.75,152.6 521.00,152.8 533.00,152.4 536.75,151.9 538.25,151.4 539.00,150.6 539.25,150.1 539.50,149.4 539.75,148.1 540.00,146.1 540.25,143.2 540.50,139.2 540.75,134.6 541.00,130.6 541.25,129.2 541.50,131.4 541.75,135.7 542.00,140.2 542.25,143.9 542.50,146.6 542.75,148.4 543.00,149.5 543.25,150.1 543.50,150.5" fill="none" stroke="#c0504d" stroke-width="0.45" stroke-opacity="0.9"/>
<polyline points="487.50,154.5 497.75,153.8 499.75,153.4 500.25,152.9 500.50,152.4 500.75,151.5 501.00,149.9 501.25,147.6 501.50,144.1 501.75,139.5 502.00,133.8 502.25,127.2 502.50,120.4 502.75,114.0 503.00,109.0 503.25,106.1 503.50,105.7 503.75,107.7 504.00,111.5 504.25,116.1 504.50,120.0 504.75,120.4 505.00,113.5 505.25,95.2 505.50,64.8 505.75,29.6 506.00,8.4 506.25,19.2 506.50,53.8 506.75,90.7 507.00,118.2 507.25,134.5 507.50,142.7 507.75,146.5 508.00,148.4 508.25,149.5 508.50,150.2 509.00,151.2 509.75,152.0 510.75,152.4 511.75,152.3 512.25,152.1 512.50,151.8 512.75,151.3 513.00,150.7 513.25,149.7 513.50,148.4 514.00,145.5 514.25,144.4 514.50,144.3 514.75,145.2 515.25,148.2 515.50,149.5 515.75,150.6 516.00,151.4 516.25,151.9 516.75,152.4 518.00,152.9 522.00,153.0 533.50,152.6 536.75,152.1 538.00,151.6 538.75,150.9 539.00,150.4 539.25,149.7 539.50,148.5 539.75,146.7 540.00,144.0 540.25,140.4 540.50,136.0 540.75,131.8 541.00,129.5 541.25,130.5 541.50,134.2 541.75,138.6 542.00,142.6 542.25,145.7 542.50,147.8 542.75,149.2 543.00,150.0 543.25,150.6 543.50,150.9" fill="none" stroke="#f79646" stroke-width="0.45" stroke-opacity="0.9"/>
<polyline points="487.50,153.9 497.75,153.3 499.75,152.9 500.25,152.5 500.50,152.1 500.75,151.3 501.00,150.0 501.25,148.0 501.50,145.0 501.75,140.8 502.00,135.4 502.25,129.0 502.50,122.2 502.75,115.6 503.00,110.2 503.25,106.7 503.50,105.7 503.75,107.1 504.00,110.6 504.25,115.1 504.50,119.0 504.75,119.5 505.00,112.8 505.25,94.4 505.50,63.7 505.75,28.5 506.00,8.7 506.25,22.0 506.50,57.8 506.75,94.3 507.00,120.6 507.25,135.7 507.50,143.0 507.75,146.4 508.00,148.1 508.25,149.1 508.50,149.8 509.00,150.7 509.75,151.4 510.75,151.8 511.75,151.8 512.25,151.5 512.50,151.1 512.75,150.6 513.00,149.9 513.25,148.8 513.50,147.4 514.00,144.5 514.25,143.7 514.50,143.9 514.75,145.1 515.25,148.2 515.50,149.4 515.75,150.4 516.00,151.0 516.50,151.8 517.50,152.2 520.50,152.5 532.25,152.1 536.50,151.6 538.00,151.0 538.75,150.3 539.00,149.8 539.25,149.0 539.50,147.8 539.75,145.8 540.00,143.0 540.25,139.1 540.50,134.7 540.75,130.8 541.00,129.2 541.25,131.1 541.50,135.1 541.75,139.5 542.00,143.2 542.25,146.0 542.50,147.8 542.75,149.0 543.00,149.7 543.50,150.5" fill="none" stroke="#d4c84a" stroke-width="0.45" stroke-opacity="0.9"/>
<polyline points="487.50,154.6 498.00,154.0 499.75,153.7 500.25,153.3 500.50,152.9 500.75,152.2 501.00,151.0 501.25,149.0 501.50,146.1 501.75,141.8 502.00,136.4 502.25,129.9 502.50,122.9 502.75,116.3 503.00,111.1 503.25,108.0 503.50,107.6 503.75,109.8 504.00,114.1 504.25,119.3 504.50,124.1 504.75,126.5 505.00,123.0 505.25,109.2 505.50,81.7 505.75,44.5 506.00,14.0 506.25,14.5 506.50,46.4 506.75,85.6 507.00,116.0 507.25,134.0 507.50,142.8 507.75,146.7 508.00,148.6 508.25,149.7 508.50,150.5 509.00,151.4 509.75,152.2 510.75,152.6 511.75,152.6 512.25,152.3 512.50,152.1 512.75,151.7 513.00,151.0 513.25,150.1 513.50,148.8 514.00,145.7 514.25,144.6 514.50,144.6 514.75,145.6 515.25,148.7 515.50,150.0 515.75,151.0 516.00,151.7 516.25,152.2 516.75,152.7 518.00,153.0 522.50,153.2 534.25,152.6 537.00,152.2 538.25,151.7 538.75,151.2 539.00,150.8 539.25,150.2 539.50,149.1 539.75,147.5 540.00,145.0 540.25,141.4 540.75,132.4 541.00,129.8 541.25,130.7 541.50,134.6 541.75,139.2 542.00,143.3 542.25,146.3 542.50,148.3 542.75,149.6 543.00,150.4 543.25,150.8 543.50,151.1" fill="none" stroke="#9bbb59" stroke-width="0.45" stroke-opacity="0.9"/>
<polyline points="487.50,154.3 497.75,153.6 499.50,153.3 500.00,152.9 500.25,152.5 500.50,151.7 500.75,150.4 501.00,148.4 501.25,145.5 501.50,141.3 501.75,136.1 502.00,129.8 502.25,123.1 502.50,116.5 502.75,111.0 503.00,107.3 503.25,106.0 503.50,107.2 503.75,110.5 504.25,119.7 504.50,122.5 504.75,120.4 505.00,109.4 505.25,86.2 505.50,52.6 505.75,20.3 506.00,10.6 506.25,32.9 506.50,70.0 506.75,103.5 507.00,126.1 507.25,138.5 507.50,144.5 507.75,147.3 508.00,148.7 508.25,149.6 508.50,150.3 509.00,151.1 509.75,151.8 510.75,152.2 511.75,152.1 512.25,151.7 512.50,151.3 512.75,150.7 513.00,149.8 513.25,148.6 513.75,145.7 514.00,144.5 514.25,144.1 514.50,144.7 514.75,146.1 515.25,149.0 515.50,150.2 515.75,151.0 516.00,151.6 516.50,152.2 517.50,152.6 520.75,152.8 532.50,152.4 536.25,152.0 537.75,151.4 538.50,150.7 538.75,150.2 539.00,149.5 539.25,148.4 539.50,146.6 539.75,144.0 540.00,140.4 540.50,131.8 540.75,129.3 541.00,130.2 541.25,133.8 541.50,138.2 541.75,142.2 542.00,145.3 542.25,147.5 542.50,148.9 542.75,149.8 543.00,150.3 543.50,150.9" fill="none" stroke="#8064a2" stroke-width="0.45" stroke-opacity="0.9"/>
<polyline points="487.50,155.0 498.25,154.4 500.25,154.0 500.75,153.4 501.00,152.8 501.25,151.7 501.50,149.9 501.75,147.0 502.00,142.8 502.25,137.2 502.50,130.5 502.75,123.3 503.00,116.3 503.25,110.6 503.50,107.3 503.75,106.8 504.00,109.1 504.25,113.5 504.50,118.8 504.75,123.4 505.00,124.3 505.25,117.3 505.50,97.4 505.75,63.8 506.00,26.4 506.25,9.5 506.50,30.1 506.75,69.9 507.00,105.8 507.25,129.0 507.50,140.9 507.75,146.2 508.00,148.6 508.25,149.9 508.50,150.7 509.00,151.8 509.75,152.6 510.75,153.0 512.00,153.0 512.50,152.8 512.75,152.5 513.00,152.1 513.25,151.4 513.50,150.5 513.75,149.1 514.25,145.9 514.50,144.9 514.75,144.9 515.00,146.0 515.50,149.3 515.75,150.6 516.00,151.6 516.25,152.2 516.75,152.9 517.75,153.4 521.00,153.6 533.25,153.2 537.00,152.7 538.25,152.2 538.75,151.7 539.00,151.4 539.25,150.9 539.50,150.1 539.75,148.7 540.00,146.5 540.25,143.2 540.50,138.9 540.75,134.2 541.00,130.6 541.25,130.4 541.50,133.7 541.75,138.4 542.00,142.8 542.25,146.1 542.50,148.4 542.75,149.8 543.00,150.7 543.25,151.2 543.50,151.5" fill="none" stroke="#e8a33d" stroke-width="0.45" stroke-opacity="0.9"/>
<polyline points="487.50,154.5 498.50,153.8 500.00,153.5 500.50,153.2 500.75,152.7 501.00,151.8 501.25,150.1 501.50,147.4 501.75,143.3 502.00,137.7 502.25,130.6 502.50,122.9 502.75,115.5 503.00,109.7 503.25,106.6 503.50,106.9 503.75,110.3 504.00,115.9 504.25,122.4 504.50,128.1 504.75,130.9 505.00,127.2 505.25,111.5 505.50,80.0 505.75,38.4 506.00,10.5 506.25,23.8 506.50,64.8 506.75,103.8 507.00,128.8 507.25,141.0 507.50,146.1 507.75,148.4 508.00,149.6 508.25,150.4 508.75,151.4 509.50,152.2 510.75,152.6 512.00,152.5 512.50,152.1 512.75,151.7 513.00,151.0 513.25,150.0 513.50,148.6 514.00,145.3 514.25,144.4 514.50,144.9 514.75,146.3 515.00,148.1 515.25,149.6 515.50,150.8 515.75,151.6 516.00,152.1 516.50,152.6 517.75,152.9 522.50,153.0 534.50,152.5 537.25,152.0 538.25,151.6 538.75,151.0 539.00,150.6 539.25,149.9 539.50,148.7 539.75,146.6 540.00,143.4 540.25,139.0 540.50,133.9 540.75,130.1 541.00,130.1 541.25,133.9 541.50,138.9 541.75,143.3 542.00,146.5 542.25,148.6 542.50,149.8 542.75,150.5 543.25,151.2 543.50,151.4" fill="none" stroke="#4fb0a0" stroke-width="0.45" stroke-opacity="0.9"/>
<polyline points="487.50,153.9 498.25,153.2 500.00,152.9 500.50,152.4 500.75,151.8 501.00,150.7 501.25,149.0 501.50,146.3 501.75,142.4 502.00,137.1 502.25,130.7 502.75,116.6 503.00,110.6 503.25,106.7 503.50,105.3 503.75,106.8 504.00,110.6 504.50,121.0 504.75,124.0 505.00,121.5 505.25,109.0 505.50,83.2 505.75,47.3 506.00,17.0 506.25,16.6 506.50,47.2 506.75,85.7 507.00,115.7 507.25,133.5 507.50,142.3 507.75,146.2 508.00,148.0 508.25,149.1 508.50,149.8 509.00,150.8 509.75,151.5 510.75,151.9 511.75,151.9 512.25,151.7 512.75,151.0 513.00,150.4 513.25,149.5 513.50,148.3 514.00,145.2 514.25,144.0 514.50,143.7 514.75,144.5 515.25,147.7 515.50,149.1 515.75,150.1 516.00,150.9 516.25,151.4 516.75,151.9 518.00,152.3 522.25,152.4 534.00,151.9 537.00,151.5 538.25,150.9 538.75,150.3 539.00,149.8 539.25,149.0 539.50,147.7 539.75,145.7 540.00,142.6 540.25,138.5 540.50,133.8 540.75,129.9 541.00,128.9 541.25,131.4 541.75,140.4 542.00,144.1 542.25,146.6 542.50,148.3 542.75,149.3 543.00,149.9 543.50,150.5" fill="none" stroke="#4bacc6" stroke-width="0.45" stroke-opacity="0.9"/>
<polyline points="487.50,154.6 498.00,153.9 499.75,153.6 500.25,153.1 500.50,152.5 500.75,151.6 501.00,150.0 501.25,147.5 501.50,143.9 501.75,139.1 502.00,133.1 502.50,119.3 502.75,113.2 503.00,108.7 503.25,106.5 503.50,107.0 503.75,109.9 504.00,114.6 504.25,120.0 504.50,124.5 504.75,126.1 505.00,121.3 505.25,105.6 505.50,76.8 505.75,39.9 506.00,11.8 506.25,15.1 506.50,47.5 506.75,86.0 507.00,115.8 507.25,133.6 507.50,142.5 507.75,146.5 508.00,148.5 508.25,149.6 508.50,150.3 509.00,151.3 509.75,152.1 510.75,152.5 511.75,152.4 512.25,152.1 512.50,151.8 512.75,151.3 513.00,150.6 513.25,149.5 513.50,148.1 514.00,145.1 514.25,144.4 514.50,144.7 514.75,145.9 515.25,149.0 515.50,150.2 515.75,151.1 516.00,151.8 516.50,152.5 517.50,152.9 520.50,153.1 532.25,152.8 536.25,152.3 537.75,151.8 538.50,151.2 538.75,150.9 539.00,150.3 539.25,149.5 539.50,148.1 539.75,145.9 540.00,142.8 540.25,138.7 540.50,134.2 540.75,130.7 541.00,130.2 541.25,132.9 541.75,141.6 542.00,145.0 542.25,147.4 542.50,149.0 542.75,150.0 543.00,150.6 543.50,151.2" fill="none" stroke="#6fa8dc" stroke-width="0.45" stroke-opacity="0.9"/>
<polyline points="487.50,154.2 498.00,153.6 499.75,153.2 500.25,152.7 500.50,152.2 500.75,151.2 501.00,149.6 501.25,147.0 501.50,143.3 501.75,138.3 502.00,132.1 502.50,118.0 502.75,111.9 503.00,107.5 503.25,105.7 503.50,106.6 503.75,110.0 504.00,114.9 504.25,120.3 504.50,124.2 504.75,123.8 505.00,115.1 505.25,93.9 505.50,60.7 505.75,25.8 506.00,12.2 506.25,33.1 506.50,71.0 506.75,105.2 507.00,127.7 507.25,139.7 507.50,145.1 507.75,147.7 508.00,149.0 508.25,149.9 508.75,150.9 509.50,151.7 510.50,152.2 511.50,152.2 512.25,151.8 512.50,151.5 512.75,150.9 513.00,150.1 513.25,149.0 513.50,147.6 513.75,146.0 514.00,144.5 514.25,143.9 514.50,144.4 514.75,145.8 515.25,148.9 515.50,150.1 515.75,151.0 516.00,151.5 516.50,152.2 517.50,152.6 520.75,152.8 532.75,152.4 536.50,151.9 537.75,151.5 538.50,150.8 538.75,150.4 539.00,149.8 539.25,148.8 539.50,147.2 539.75,144.7 540.00,141.2 540.50,132.4 540.75,129.6 541.00,130.2 541.25,133.9 541.50,138.4 541.75,142.5 542.00,145.7 542.25,147.8 542.50,149.1 542.75,149.9 543.00,150.4 543.50,151.0" fill="none" stroke="#5b86cc" stroke-width="0.45" stroke-opacity="0.9"/>
</g>
<g style="filter:grayscale(1)">
<text x="507.5" y="25.0" font-size="6.7" font-weight="normal" letter-spacing="0.35" stroke="#1a1a1a" stroke-width="0.45" text-anchor="middle" fill="#1a1a1a">O17</text>
<text x="496" y="70.0" font-size="6.7" font-weight="normal" letter-spacing="0.35" stroke="#1a1a1a" stroke-width="0.45" text-anchor="middle" fill="#1a1a1a">P15<tspan font-size="5.7" dy="-0.3" stroke-width="0.6">+</tspan><tspan dy="0.3"></tspan></text>
<text x="497" y="79.5" font-size="6.7" font-weight="normal" letter-spacing="0.35" stroke="#1a1a1a" stroke-width="0.45" text-anchor="middle" fill="#1a1a1a">S17</text>
<text x="515.5" y="141.5" font-size="6.7" font-weight="normal" letter-spacing="0.35" stroke="#1a1a1a" stroke-width="0.45" text-anchor="middle" fill="#1a1a1a">V17</text>
<text x="540" y="128.5" font-size="6.7" font-weight="normal" letter-spacing="0.35" stroke="#1a1a1a" stroke-width="0.45" text-anchor="middle" fill="#1a1a1a">L1</text>
<line x1="497" y1="82" x2="501.8" y2="104" stroke="#202020" stroke-width="0.7"/>
<polygon points="501.8,104 499.95,101.64 502.50,101.08" fill="#202020"/>
</g>
<g style="filter:grayscale(1)">
<line x1="17.2" y1="178" x2="17.2" y2="348.3" stroke="#c0c0c0" stroke-width="0.8"/>
<line x1="17.2" y1="348.3" x2="101.6" y2="348.3" stroke="#c0c0c0" stroke-width="0.8"/>
<line x1="17.2" y1="178" x2="101.6" y2="178" stroke="#c0c0c0" stroke-width="0.8"/>
<line x1="101.6" y1="178" x2="101.6" y2="348.3" stroke="#c0c0c0" stroke-width="0.8"/>
<line x1="17.2" y1="204.0" x2="19.2" y2="204.0" stroke="#c0c0c0" stroke-width="0.6"/>
<line x1="99.6" y1="204.0" x2="101.6" y2="204.0" stroke="#c0c0c0" stroke-width="0.6"/>
<text x="15.899999999999999" y="205.3" font-size="3.8" text-anchor="end" fill="#333">0.2</text>
<line x1="17.2" y1="236.6" x2="19.2" y2="236.6" stroke="#c0c0c0" stroke-width="0.6"/>
<line x1="99.6" y1="236.6" x2="101.6" y2="236.6" stroke="#c0c0c0" stroke-width="0.6"/>
<text x="15.899999999999999" y="237.9" font-size="3.8" text-anchor="end" fill="#333">0.15</text>
<line x1="17.2" y1="269.2" x2="19.2" y2="269.2" stroke="#c0c0c0" stroke-width="0.6"/>
<line x1="99.6" y1="269.2" x2="101.6" y2="269.2" stroke="#c0c0c0" stroke-width="0.6"/>
<text x="15.899999999999999" y="270.5" font-size="3.8" text-anchor="end" fill="#333">0.1</text>
<line x1="17.2" y1="301.8" x2="19.2" y2="301.8" stroke="#c0c0c0" stroke-width="0.6"/>
<line x1="99.6" y1="301.8" x2="101.6" y2="301.8" stroke="#c0c0c0" stroke-width="0.6"/>
<text x="15.899999999999999" y="303.1" font-size="3.8" text-anchor="end" fill="#333">0.05</text>
<line x1="17.2" y1="334.4" x2="19.2" y2="334.4" stroke="#c0c0c0" stroke-width="0.6"/>
<line x1="99.6" y1="334.4" x2="101.6" y2="334.4" stroke="#c0c0c0" stroke-width="0.6"/>
<text x="15.899999999999999" y="335.7" font-size="3.8" text-anchor="end" fill="#333">0</text>
<line x1="26" y1="348.3" x2="26" y2="346.3" stroke="#c0c0c0" stroke-width="0.6"/>
<line x1="26" y1="178" x2="26" y2="180" stroke="#c0c0c0" stroke-width="0.6"/>
<text x="26" y="353.7" font-size="3.8" text-anchor="middle" fill="#333">34.25</text>
<line x1="38.8" y1="348.3" x2="38.8" y2="346.3" stroke="#c0c0c0" stroke-width="0.6"/>
<line x1="38.8" y1="178" x2="38.8" y2="180" stroke="#c0c0c0" stroke-width="0.6"/>
<text x="38.8" y="353.7" font-size="3.8" text-anchor="middle" fill="#333">34.2</text>
<line x1="51.5" y1="348.3" x2="51.5" y2="346.3" stroke="#c0c0c0" stroke-width="0.6"/>
<line x1="51.5" y1="178" x2="51.5" y2="180" stroke="#c0c0c0" stroke-width="0.6"/>
<text x="51.5" y="353.7" font-size="3.8" text-anchor="middle" fill="#333">34.15</text>
<line x1="64.5" y1="348.3" x2="64.5" y2="346.3" stroke="#c0c0c0" stroke-width="0.6"/>
<line x1="64.5" y1="178" x2="64.5" y2="180" stroke="#c0c0c0" stroke-width="0.6"/>
<text x="64.5" y="353.7" font-size="3.8" text-anchor="middle" fill="#333">34.1</text>
<line x1="77.5" y1="348.3" x2="77.5" y2="346.3" stroke="#c0c0c0" stroke-width="0.6"/>
<line x1="77.5" y1="178" x2="77.5" y2="180" stroke="#c0c0c0" stroke-width="0.6"/>
<text x="77.5" y="353.7" font-size="3.8" text-anchor="middle" fill="#333">34.05</text>
<line x1="90.5" y1="348.3" x2="90.5" y2="346.3" stroke="#c0c0c0" stroke-width="0.6"/>
<line x1="90.5" y1="178" x2="90.5" y2="180" stroke="#c0c0c0" stroke-width="0.6"/>
<text x="90.5" y="353.7" font-size="3.8" text-anchor="middle" fill="#333">34</text>
</g>
<g clip-path="url(#c4)">
<polyline points="17.20,333.6 23.20,332.9 26.45,332.1 28.70,331.0 30.20,329.8 31.20,328.6 31.95,327.4 32.70,325.6 33.20,324.1 33.70,322.1 33.95,320.8 34.20,319.5 34.45,317.8 34.70,316.0 34.95,313.8 35.20,311.2 35.45,308.2 35.70,304.7 35.95,300.5 36.20,295.7 36.45,290.0 36.70,283.5 36.95,276.2 37.45,260.7 37.70,253.9 37.95,248.9 38.20,246.7 38.45,249.1 38.70,257.2 39.20,279.5 39.45,289.3 39.70,297.5 39.95,304.0 40.20,309.1 40.45,313.1 40.70,316.3 40.95,318.8 41.20,320.9 41.45,322.6 41.70,324.0 41.95,325.1 42.45,326.9 42.95,328.2 43.70,329.5 44.70,330.7 46.20,331.7 48.45,332.4 52.45,332.9 59.20,333.0 62.45,332.7 63.70,332.2 64.45,331.4 65.20,330.3 65.45,330.2 65.95,330.8 66.70,331.7 67.70,332.0 69.45,331.9 70.95,331.2 71.95,330.4 72.45,329.6 72.95,328.5 73.20,327.7 73.45,326.6 73.70,325.0 73.95,322.8 74.20,319.2 74.45,313.5 74.70,303.4 74.95,286.5 75.20,267.1 75.45,264.4 75.70,269.3 75.95,277.0 76.20,285.0 76.45,291.8 76.70,297.1 76.95,300.6 77.20,302.7 77.45,303.2 77.70,302.1 77.95,298.9 78.20,293.1 78.45,283.7 78.70,269.8 78.95,250.8 79.20,227.7 79.45,204.8 79.70,191.7 79.95,196.6 80.20,216.6 80.45,241.4 80.70,263.9 80.95,281.6 81.20,294.7 81.45,303.8 81.70,310.2 81.95,314.6 82.20,317.8 82.45,320.2 82.70,322.0 82.95,323.4 83.20,324.6 83.70,326.4 84.20,327.6 84.95,328.9 85.95,330.0 87.45,330.9 88.95,331.2 90.20,331.1 90.95,330.5 91.70,329.7 91.95,329.6 92.45,330.1 93.20,331.1 94.20,331.8 96.20,332.3 100.95,332.6" fill="none" stroke="#c0504d" stroke-width="0.45" stroke-opacity="0.9"/>
<polyline points="17.20,333.1 23.70,332.4 27.20,331.5 29.20,330.6 30.70,329.4 31.70,328.2 32.45,326.9 33.20,325.1 33.70,323.5 34.20,321.4 34.45,320.1 34.70,318.5 34.95,316.8 35.20,314.7 35.45,312.2 35.70,309.3 35.95,305.8 36.20,301.7 36.45,296.8 36.70,291.0 36.95,284.3 37.20,276.8 37.70,260.4 37.95,253.1 38.20,248.0 38.45,246.3 38.70,250.2 38.95,260.1 39.20,272.1 39.45,283.5 39.70,293.1 39.95,300.8 40.20,306.8 40.45,311.4 40.70,315.0 40.95,317.9 41.20,320.1 41.45,321.9 41.70,323.4 41.95,324.6 42.20,325.6 42.70,327.2 43.20,328.3 43.95,329.5 44.95,330.5 46.45,331.3 48.95,332.0 53.70,332.5 60.70,332.4 62.95,332.0 63.95,331.5 64.70,330.4 64.95,330.0 65.20,329.8 65.45,329.9 66.20,331.0 66.95,331.5 68.20,331.7 70.20,331.3 71.45,330.7 72.20,329.9 72.70,329.1 72.95,328.5 73.20,327.8 73.45,326.7 73.70,325.2 73.95,323.0 74.20,319.4 74.45,313.3 74.70,302.2 74.95,283.2 75.20,265.2 75.45,266.2 75.70,272.9 75.95,281.8 76.20,290.3 76.45,297.2 76.70,302.5 76.95,306.2 77.20,308.6 77.45,310.0 77.70,310.3 77.95,309.6 78.20,307.6 78.45,303.9 78.70,297.7 78.95,287.9 79.20,273.4 79.45,253.2 79.70,228.4 79.95,204.0 80.20,191.4 80.45,199.7 80.70,222.9 80.95,249.1 81.20,271.2 81.45,287.9 81.70,299.6 81.95,307.6 82.20,313.0 82.45,316.7 82.70,319.4 82.95,321.4 83.20,323.0 83.45,324.2 83.70,325.2 84.20,326.7 84.70,327.8 85.45,328.9 86.45,329.8 87.95,330.5 89.45,330.7 90.20,330.5 90.95,329.8 91.45,329.2 91.70,329.1 91.95,329.2 92.95,330.6 93.70,331.2 95.20,331.7 99.95,332.0 100.95,332.0" fill="none" stroke="#f79646" stroke-width="0.45" stroke-opacity="0.9"/>
<polyline points="17.20,332.9 22.70,332.2 25.95,331.3 27.95,330.3 29.45,329.1 30.45,327.9 31.20,326.6 31.95,325.0 32.45,323.5 32.95,321.6 33.20,320.4 33.45,319.1 33.70,317.6 33.95,315.9 34.20,313.8 34.45,311.5 34.70,308.8 34.95,305.6 35.20,301.9 35.45,297.5 35.70,292.5 35.95,286.7 36.20,280.1 36.45,272.9 36.70,265.4 36.95,258.1 37.20,251.9 37.45,247.6 37.70,246.0 37.95,249.2 38.20,257.4 38.70,278.9 38.95,288.4 39.20,296.3 39.45,302.7 39.70,307.7 39.95,311.8 40.20,315.0 40.45,317.6 40.70,319.7 40.95,321.4 41.20,322.8 41.45,324.0 41.95,325.9 42.45,327.2 43.20,328.6 44.20,329.8 45.45,330.8 47.45,331.6 50.95,332.1 57.20,332.3 61.20,332.1 62.70,331.6 63.45,331.0 64.45,329.6 64.70,329.6 65.95,331.0 66.95,331.3 68.45,331.2 69.95,330.5 70.95,329.6 71.45,328.8 71.95,327.6 72.20,326.7 72.45,325.5 72.70,323.9 72.95,321.4 73.20,317.6 73.45,311.4 73.70,300.7 73.95,283.4 74.20,265.0 74.45,263.0 74.70,267.8 74.95,275.4 75.20,283.4 75.45,290.4 75.70,296.0 75.95,300.0 76.20,302.7 76.45,304.1 76.70,304.2 76.95,303.0 77.20,300.0 77.45,294.7 77.70,286.4 77.95,274.2 78.20,257.3 78.45,236.2 78.70,213.2 78.95,195.3 79.20,191.6 79.45,204.7 79.70,227.3 79.95,250.7 80.20,270.6 80.45,285.9 80.70,297.2 80.95,305.1 81.20,310.7 81.45,314.7 81.70,317.6 81.95,319.8 82.20,321.5 82.45,322.9 82.70,324.0 83.20,325.7 83.70,326.9 84.45,328.2 85.45,329.3 86.95,330.2 88.70,330.6 89.70,330.4 90.45,330.0 91.20,329.2 91.45,329.0 91.70,329.1 92.20,329.6 92.95,330.5 93.95,331.2 95.95,331.7 100.95,331.9" fill="none" stroke="#d4c84a" stroke-width="0.45" stroke-opacity="0.9"/>
<polyline points="17.20,333.0 23.45,332.3 26.95,331.5 29.20,330.4 30.70,329.2 31.70,328.0 32.45,326.7 33.20,324.9 33.70,323.3 34.20,321.2 34.45,319.9 34.70,318.5 34.95,316.8 35.20,314.8 35.45,312.5 35.70,309.8 35.95,306.6 36.20,302.9 36.45,298.5 36.70,293.3 36.95,287.3 37.20,280.5 37.45,272.9 37.70,265.1 37.95,257.5 38.20,251.2 38.45,247.2 38.70,246.5 38.95,251.5 39.20,261.4 39.45,272.8 39.70,283.6 39.95,292.7 40.20,300.1 40.45,306.0 40.70,310.6 40.95,314.2 41.20,317.1 41.45,319.4 41.70,321.2 41.95,322.8 42.20,324.0 42.45,325.1 42.95,326.7 43.45,327.9 44.20,329.1 45.20,330.2 46.70,331.1 49.20,331.9 53.70,332.3 60.45,332.3 62.95,332.0 63.95,331.6 64.70,330.7 65.20,329.9 65.45,329.7 65.70,329.8 66.70,331.1 67.45,331.5 68.95,331.5 70.70,331.0 71.95,330.3 72.70,329.5 73.20,328.6 73.45,328.0 73.70,327.2 73.95,326.2 74.20,324.8 74.45,322.8 74.70,319.7 74.95,314.7 75.20,306.1 75.45,291.1 75.70,270.2 75.95,261.6 76.20,265.2 76.45,272.5 76.70,280.8 76.95,288.2 77.20,293.9 77.45,297.8 77.70,300.1 77.95,300.6 78.20,299.2 78.45,295.5 78.70,288.8 78.95,278.0 79.20,262.4 79.45,241.6 79.70,217.6 79.95,196.7 80.20,189.6 80.45,201.4 80.70,224.8 80.95,249.7 81.20,270.6 81.45,286.6 81.70,298.0 81.95,306.0 82.20,311.5 82.45,315.4 82.70,318.2 82.95,320.3 83.20,322.0 83.45,323.3 83.70,324.4 84.20,326.0 84.70,327.2 85.45,328.4 86.45,329.4 87.95,330.3 89.45,330.6 90.45,330.5 91.20,330.0 91.95,329.2 92.20,329.1 92.45,329.2 93.70,330.7 94.70,331.3 96.95,331.7 100.95,332.0" fill="none" stroke="#9bbb59" stroke-width="0.45" stroke-opacity="0.9"/>
<polyline points="17.20,333.1 23.20,332.4 26.70,331.6 28.70,330.7 30.20,329.5 31.20,328.4 31.95,327.2 32.70,325.5 33.20,324.1 33.70,322.2 33.95,321.1 34.20,319.8 34.45,318.3 34.70,316.6 34.95,314.6 35.20,312.2 35.45,309.4 35.70,306.2 35.95,302.3 36.20,297.8 36.45,292.5 36.70,286.4 36.95,279.5 37.20,271.9 37.45,264.0 37.70,256.5 37.95,250.4 38.20,246.7 38.45,246.5 38.70,252.3 38.95,262.5 39.20,273.9 39.45,284.6 39.70,293.6 39.95,300.8 40.20,306.5 40.45,311.0 40.70,314.6 40.95,317.4 41.20,319.6 41.45,321.5 41.70,323.0 41.95,324.2 42.20,325.2 42.70,326.9 43.20,328.0 43.95,329.3 44.95,330.3 46.45,331.3 48.95,332.0 53.45,332.5 60.20,332.5 62.95,332.1 63.95,331.7 64.70,330.9 65.20,330.1 65.45,329.8 65.70,329.8 66.70,331.1 67.45,331.5 68.95,331.5 70.70,331.0 71.70,330.3 72.45,329.3 72.95,328.3 73.20,327.5 73.45,326.4 73.70,324.9 73.95,322.7 74.20,319.3 74.45,313.6 74.70,303.8 74.95,287.0 75.20,267.1 75.45,264.0 75.70,269.0 75.95,276.9 76.20,285.2 76.45,292.4 76.70,298.0 76.95,302.0 77.20,304.6 77.45,306.0 77.70,306.1 77.95,304.8 78.20,301.7 78.45,296.3 78.70,287.6 78.95,274.7 79.20,256.8 79.45,234.5 79.70,211.2 79.95,195.6 80.20,197.0 80.45,214.8 80.70,239.2 80.95,261.9 81.20,280.1 81.45,293.6 81.70,303.1 81.95,309.6 82.20,314.2 82.45,317.4 82.70,319.8 82.95,321.7 83.20,323.1 83.45,324.3 83.70,325.2 84.20,326.7 84.95,328.2 85.95,329.4 87.20,330.2 88.95,330.8 90.20,330.6 90.95,330.2 91.70,329.3 91.95,329.2 92.20,329.3 93.45,330.8 94.45,331.4 96.70,331.9 100.95,332.1" fill="none" stroke="#8064a2" stroke-width="0.45" stroke-opacity="0.9"/>
<polyline points="17.20,332.9 23.20,332.2 26.45,331.4 28.70,330.3 30.20,329.1 31.20,327.9 31.95,326.6 32.70,324.7 33.20,323.1 33.70,320.9 33.95,319.5 34.20,318.0 34.45,316.2 34.70,314.1 34.95,311.6 35.20,308.7 35.45,305.2 35.70,301.1 35.95,296.2 36.20,290.4 36.45,283.8 36.70,276.3 37.20,260.1 37.45,252.9 37.70,247.8 37.95,245.7 38.20,249.1 38.45,258.4 38.70,270.2 38.95,281.6 39.20,291.4 39.45,299.3 39.70,305.5 39.95,310.3 40.20,314.0 40.45,317.0 40.70,319.3 40.95,321.2 41.20,322.8 41.45,324.1 41.70,325.1 42.20,326.7 42.70,327.9 43.45,329.1 44.45,330.2 45.95,331.1 48.45,331.8 52.95,332.2 59.95,332.2 62.70,331.9 63.70,331.4 64.45,330.4 64.95,329.7 65.20,329.6 65.70,330.2 66.45,331.1 67.45,331.4 69.20,331.3 70.70,330.7 71.70,329.9 72.45,328.9 72.95,327.6 73.20,326.7 73.45,325.4 73.70,323.6 73.95,320.8 74.20,316.2 74.45,308.2 74.70,293.9 74.95,272.5 75.20,261.9 75.45,265.5 75.70,273.2 75.95,282.0 76.20,289.8 76.45,296.0 76.70,300.3 76.95,303.1 77.20,304.3 77.45,304.1 77.70,302.1 77.95,297.9 78.20,290.5 78.45,279.0 78.70,262.3 78.95,240.3 79.20,215.7 79.45,196.4 79.70,194.0 79.95,210.4 80.20,235.5 80.45,259.6 80.70,278.9 80.95,293.0 81.20,302.9 81.45,309.6 81.70,314.2 81.95,317.4 82.20,319.8 82.45,321.6 82.70,323.1 82.95,324.2 83.20,325.2 83.70,326.6 84.45,328.0 85.45,329.2 86.70,330.0 88.45,330.6 89.70,330.6 90.45,330.2 91.45,329.1 91.70,329.0 91.95,329.0 93.20,330.6 94.20,331.2 96.45,331.6 100.95,331.8" fill="none" stroke="#e8a33d" stroke-width="0.45" stroke-opacity="0.9"/>
<polyline points="17.20,333.0 22.95,332.3 26.20,331.4 28.45,330.4 29.95,329.1 30.95,327.9 31.70,326.6 32.45,324.8 32.95,323.3 33.45,321.2 33.70,320.0 33.95,318.6 34.20,317.0 34.45,315.1 34.70,313.0 34.95,310.4 35.20,307.4 35.45,304.0 35.70,299.9 35.95,295.1 36.20,289.6 36.45,283.3 36.70,276.2 37.20,261.2 37.45,254.5 37.70,249.4 37.95,246.9 38.20,248.3 38.45,255.4 38.70,265.7 38.95,276.7 39.20,286.7 39.45,295.0 39.70,301.8 39.95,307.1 40.20,311.3 40.45,314.7 40.70,317.4 40.95,319.6 41.20,321.4 41.45,322.8 41.70,324.1 42.20,325.9 42.70,327.3 43.45,328.7 44.45,329.9 45.70,330.9 47.70,331.7 51.20,332.2 57.45,332.4 61.70,332.2 63.20,331.7 63.95,331.0 64.70,329.8 64.95,329.7 65.20,329.8 66.20,331.0 66.95,331.4 68.45,331.4 69.95,330.9 70.95,330.2 71.70,329.3 72.20,328.4 72.45,327.6 72.70,326.7 72.95,325.4 73.20,323.6 73.45,320.9 73.70,316.5 73.95,309.3 74.20,296.7 74.45,277.4 74.70,263.0 74.95,264.7 75.20,271.0 75.45,279.1 75.70,287.0 75.95,293.7 76.20,298.9 76.45,302.6 76.70,305.1 76.95,306.4 77.20,306.6 77.45,305.5 77.70,302.9 77.95,298.3 78.20,290.9 78.45,279.9 78.70,264.4 78.95,244.3 79.20,221.1 79.45,200.7 79.70,192.6 79.95,202.0 80.20,223.3 80.45,247.1 80.70,268.0 80.95,284.2 81.20,296.2 81.45,304.6 81.70,310.5 81.95,314.7 82.20,317.7 82.45,319.9 82.70,321.6 82.95,323.0 83.20,324.2 83.70,325.9 84.20,327.1 84.95,328.3 85.95,329.4 87.20,330.1 88.70,330.5 89.70,330.4 90.45,330.0 91.20,329.2 91.45,329.0 91.70,329.1 92.95,330.6 93.95,331.2 95.95,331.7 100.95,332.0" fill="none" stroke="#4fb0a0" stroke-width="0.45" stroke-opacity="0.9"/>
<polyline points="17.20,333.3 23.45,332.6 26.70,331.8 28.95,330.8 30.45,329.6 31.45,328.4 32.20,327.1 32.95,325.4 33.45,323.9 33.95,321.9 34.20,320.7 34.45,319.3 34.70,317.7 34.95,315.8 35.20,313.7 35.45,311.1 35.70,308.1 35.95,304.6 36.20,300.5 36.45,295.6 36.70,290.0 36.95,283.5 37.20,276.2 37.70,260.7 37.95,253.8 38.20,248.9 38.45,246.7 38.70,249.2 38.95,257.5 39.45,279.7 39.70,289.5 39.95,297.6 40.20,304.0 40.45,309.1 40.70,313.1 40.95,316.2 41.20,318.7 41.45,320.8 41.70,322.4 41.95,323.8 42.20,324.9 42.70,326.7 43.20,327.9 43.95,329.3 44.95,330.4 46.45,331.4 48.70,332.1 52.70,332.6 59.45,332.7 62.95,332.3 63.95,331.9 64.70,331.2 65.45,330.1 65.70,330.0 66.20,330.5 66.95,331.4 67.95,331.7 69.70,331.5 71.20,330.8 71.95,330.1 72.45,329.3 72.95,328.1 73.20,327.2 73.45,326.0 73.70,324.2 73.95,321.6 74.20,317.5 74.45,310.4 74.70,298.0 74.95,278.4 75.20,263.0 75.45,264.8 75.70,271.3 75.95,279.7 76.20,287.8 76.45,294.6 76.70,299.7 76.95,303.3 77.20,305.6 77.45,306.6 77.70,306.5 77.95,304.9 78.20,301.6 78.45,295.9 78.70,286.8 78.95,273.5 79.20,255.1 79.45,232.3 79.70,208.8 79.95,193.4 80.20,195.5 80.45,213.9 80.70,238.6 80.95,261.6 81.20,279.9 81.45,293.4 81.70,303.0 81.95,309.6 82.20,314.2 82.45,317.4 82.70,319.9 82.95,321.7 83.20,323.2 83.45,324.3 83.70,325.3 84.20,326.8 84.95,328.3 85.95,329.5 87.20,330.3 88.70,330.8 89.95,330.7 90.70,330.3 91.45,329.4 91.70,329.3 91.95,329.4 93.20,330.9 94.20,331.6 96.45,332.0 100.95,332.3" fill="none" stroke="#4bacc6" stroke-width="0.45" stroke-opacity="0.9"/>
<polyline points="17.20,333.2 23.20,332.4 26.45,331.6 28.70,330.5 30.20,329.4 31.20,328.2 31.95,327.0 32.70,325.3 33.20,323.9 33.70,322.0 34.20,319.7 34.45,318.3 34.70,316.6 34.95,314.7 35.20,312.5 35.45,310.0 35.70,307.0 35.95,303.5 36.20,299.5 36.45,294.8 36.70,289.3 36.95,283.2 37.20,276.3 37.70,261.6 37.95,254.8 38.20,249.4 38.45,246.4 38.70,246.6 38.95,252.3 39.20,261.8 39.45,272.7 39.70,282.9 39.95,291.7 40.20,298.9 40.45,304.7 40.70,309.4 40.95,313.1 41.20,316.0 41.45,318.4 41.70,320.4 41.95,322.0 42.20,323.4 42.45,324.5 42.95,326.2 43.45,327.5 44.20,328.9 45.20,330.1 46.70,331.1 48.95,331.9 52.70,332.4 58.95,332.5 62.45,332.2 63.70,331.7 64.45,330.8 64.95,330.0 65.20,329.8 65.45,329.8 66.45,331.0 67.20,331.4 68.45,331.5 70.20,331.0 71.45,330.1 72.20,329.2 72.70,328.1 72.95,327.4 73.20,326.4 73.45,325.1 73.70,323.3 73.95,320.7 74.20,316.6 74.45,310.0 74.70,298.8 74.95,280.9 75.20,263.2 75.45,262.1 75.70,266.8 75.95,274.1 76.20,281.7 76.45,288.2 76.70,293.2 76.95,296.5 77.20,298.2 77.45,298.1 77.70,296.0 77.95,291.3 78.20,283.5 78.45,271.8 78.70,255.5 78.95,234.9 79.20,212.4 79.45,194.7 79.70,190.5 79.95,202.7 80.20,224.8 80.45,248.2 80.70,268.3 80.95,284.0 81.20,295.6 81.45,303.9 81.70,309.8 81.95,314.0 82.20,317.1 82.45,319.4 82.70,321.2 82.95,322.6 83.20,323.8 83.70,325.6 84.20,326.8 84.95,328.2 85.95,329.3 87.20,330.2 88.70,330.6 89.95,330.5 90.70,330.1 91.45,329.3 91.70,329.2 91.95,329.2 92.45,329.7 93.20,330.7 94.20,331.4 96.20,331.9 100.95,332.2" fill="none" stroke="#6fa8dc" stroke-width="0.45" stroke-opacity="0.9"/>
<polyline points="17.20,332.9 22.95,332.1 26.20,331.2 28.20,330.3 29.70,329.1 30.70,327.9 31.45,326.7 32.20,325.1 32.70,323.7 33.20,321.9 33.70,319.7 33.95,318.3 34.20,316.7 34.45,314.9 34.70,312.8 34.95,310.4 35.20,307.5 35.45,304.2 35.70,300.4 35.95,295.9 36.20,290.8 36.45,284.9 36.70,278.3 36.95,271.2 37.20,263.9 37.45,256.9 37.70,251.1 37.95,247.2 38.20,246.0 38.45,249.5 38.70,257.8 39.20,278.7 39.45,288.0 39.70,295.8 39.95,302.1 40.20,307.2 40.45,311.2 40.70,314.5 40.95,317.1 41.20,319.2 41.45,321.0 41.70,322.4 41.95,323.7 42.45,325.6 42.95,326.9 43.70,328.4 44.70,329.7 45.95,330.6 47.95,331.5 51.20,332.0 57.20,332.3 61.70,332.1 63.20,331.7 63.95,331.2 64.70,330.2 65.20,329.6 65.45,329.5 65.95,330.1 66.70,330.9 67.70,331.2 69.20,331.1 70.70,330.4 71.70,329.5 72.20,328.8 72.70,327.7 72.95,326.9 73.20,325.9 73.45,324.5 73.70,322.5 73.95,319.5 74.20,314.9 74.45,307.2 74.70,294.3 74.95,275.3 75.20,261.4 75.45,262.9 75.70,268.6 76.20,283.7 76.45,290.1 76.70,295.0 76.95,298.4 77.20,300.3 77.45,300.8 77.70,299.6 77.95,296.6 78.20,291.1 78.45,282.3 78.70,269.6 78.95,252.5 79.20,231.4 79.45,209.2 79.70,193.1 79.95,191.2 80.20,205.0 80.45,227.3 80.70,250.2 80.95,269.7 81.20,284.9 81.45,296.1 81.70,304.1 81.95,309.9 82.20,313.9 82.45,316.9 82.70,319.2 82.95,321.0 83.20,322.4 83.45,323.5 83.95,325.3 84.45,326.6 85.20,327.9 86.20,329.0 87.45,329.8 88.95,330.3 89.95,330.2 90.70,329.8 91.70,328.9 91.95,328.9 92.45,329.4 93.45,330.6 94.70,331.2 97.45,331.7 100.95,331.9" fill="none" stroke="#5b86cc" stroke-width="0.45" stroke-opacity="0.9"/>
</g>
<g style="filter:grayscale(1)">
<text x="37.5" y="199.5" font-size="6.7" font-weight="normal" letter-spacing="0.35" stroke="#1a1a1a" stroke-width="0.45" text-anchor="middle" fill="#1a1a1a">Oi2<tspan font-size="5.7" dy="-0.3" stroke-width="0.6">+</tspan><tspan dy="0.3"></tspan></text>
<text x="37.5" y="209.25" font-size="6.7" font-weight="normal" letter-spacing="0.35" stroke="#1a1a1a" stroke-width="0.45" text-anchor="middle" fill="#1a1a1a">Pi2<tspan font-size="5.7" dy="-0.3" stroke-width="0.6">+</tspan><tspan dy="0.3"></tspan></text>
<text x="37.5" y="218.25" font-size="6.7" font-weight="normal" letter-spacing="0.35" stroke="#1a1a1a" stroke-width="0.45" text-anchor="middle" fill="#1a1a1a">Li2<tspan font-size="5.7" dy="-0.3" stroke-width="0.6">+</tspan><tspan dy="0.3"></tspan></text>
<text x="37.5" y="227.75" font-size="6.7" font-weight="normal" letter-spacing="0.35" stroke="#1a1a1a" stroke-width="0.45" text-anchor="middle" fill="#1a1a1a">Vi2<tspan font-size="5.7" dy="-0.3" stroke-width="0.6">+</tspan><tspan dy="0.3"></tspan></text>
<text x="37.5" y="237.5" font-size="6.7" font-weight="normal" letter-spacing="0.35" stroke="#1a1a1a" stroke-width="0.45" text-anchor="middle" fill="#1a1a1a">Si2<tspan font-size="5.7" dy="-0.3" stroke-width="0.6">+</tspan><tspan dy="0.3"></tspan></text>
<text x="37.5" y="246.75" font-size="6.7" font-weight="normal" letter-spacing="0.35" stroke="#1a1a1a" stroke-width="0.45" text-anchor="middle" fill="#1a1a1a">Lni2</text>
<text x="90" y="215.5" font-size="6.7" font-weight="normal" letter-spacing="0.35" stroke="#1a1a1a" stroke-width="0.45" text-anchor="middle" fill="#1a1a1a">Oe2<tspan font-size="5.7" dy="-0.3" stroke-width="0.6">+</tspan><tspan dy="0.3"></tspan></text>
<text x="90" y="224.5" font-size="6.7" font-weight="normal" letter-spacing="0.35" stroke="#1a1a1a" stroke-width="0.45" text-anchor="middle" fill="#1a1a1a">Le2<tspan font-size="5.7" dy="-0.3" stroke-width="0.6">+</tspan><tspan dy="0.3"></tspan></text>
<text x="90" y="234.2" font-size="6.7" font-weight="normal" letter-spacing="0.35" stroke="#1a1a1a" stroke-width="0.45" text-anchor="middle" fill="#1a1a1a">Lne2</text>
<text x="68" y="237.8" font-size="6.7" font-weight="normal" letter-spacing="0.35" stroke="#1a1a1a" stroke-width="0.45" text-anchor="middle" fill="#1a1a1a">Pe2<tspan font-size="5.7" dy="-0.3" stroke-width="0.6">+</tspan><tspan dy="0.3"></tspan></text>
<text x="68" y="247.8" font-size="6.7" font-weight="normal" letter-spacing="0.35" stroke="#1a1a1a" stroke-width="0.45" text-anchor="middle" fill="#1a1a1a">Se2<tspan font-size="5.7" dy="-0.3" stroke-width="0.6">+</tspan><tspan dy="0.3"></tspan></text>
<text x="68" y="256.8" font-size="6.7" font-weight="normal" letter-spacing="0.35" stroke="#1a1a1a" stroke-width="0.45" text-anchor="middle" fill="#1a1a1a">Ve2</text>
<line x1="77.8" y1="236.8" x2="77.8" y2="338.6" stroke="#505050" stroke-width="1.6"/>
</g>
<g style="filter:grayscale(1)">
<line x1="116" y1="178" x2="116" y2="348.2" stroke="#c0c0c0" stroke-width="0.8"/>
<line x1="116" y1="348.2" x2="219.3" y2="348.2" stroke="#c0c0c0" stroke-width="0.8"/>
<line x1="116" y1="178" x2="219.3" y2="178" stroke="#c0c0c0" stroke-width="0.8"/>
<line x1="219.3" y1="178" x2="219.3" y2="348.2" stroke="#c0c0c0" stroke-width="0.8"/>
<line x1="116" y1="192.95" x2="118" y2="192.95" stroke="#c0c0c0" stroke-width="0.6"/>
<line x1="217.3" y1="192.95" x2="219.3" y2="192.95" stroke="#c0c0c0" stroke-width="0.6"/>
<text x="114.7" y="194.25" font-size="3.8" text-anchor="end" fill="#333">0.35</text>
<line x1="116" y1="214.1" x2="118" y2="214.1" stroke="#c0c0c0" stroke-width="0.6"/>
<line x1="217.3" y1="214.1" x2="219.3" y2="214.1" stroke="#c0c0c0" stroke-width="0.6"/>
<text x="114.7" y="215.4" font-size="3.8" text-anchor="end" fill="#333">0.3</text>
<line x1="116" y1="235.25" x2="118" y2="235.25" stroke="#c0c0c0" stroke-width="0.6"/>
<line x1="217.3" y1="235.25" x2="219.3" y2="235.25" stroke="#c0c0c0" stroke-width="0.6"/>
<text x="114.7" y="236.55" font-size="3.8" text-anchor="end" fill="#333">0.25</text>
<line x1="116" y1="256.4" x2="118" y2="256.4" stroke="#c0c0c0" stroke-width="0.6"/>
<line x1="217.3" y1="256.4" x2="219.3" y2="256.4" stroke="#c0c0c0" stroke-width="0.6"/>
<text x="114.7" y="257.7" font-size="3.8" text-anchor="end" fill="#333">0.2</text>
<line x1="116" y1="277.55" x2="118" y2="277.55" stroke="#c0c0c0" stroke-width="0.6"/>
<line x1="217.3" y1="277.55" x2="219.3" y2="277.55" stroke="#c0c0c0" stroke-width="0.6"/>
<text x="114.7" y="278.85" font-size="3.8" text-anchor="end" fill="#333">0.15</text>
<line x1="116" y1="298.7" x2="118" y2="298.7" stroke="#c0c0c0" stroke-width="0.6"/>
<line x1="217.3" y1="298.7" x2="219.3" y2="298.7" stroke="#c0c0c0" stroke-width="0.6"/>
<text x="114.7" y="300.0" font-size="3.8" text-anchor="end" fill="#333">0.1</text>
<line x1="116" y1="319.85" x2="118" y2="319.85" stroke="#c0c0c0" stroke-width="0.6"/>
<line x1="217.3" y1="319.85" x2="219.3" y2="319.85" stroke="#c0c0c0" stroke-width="0.6"/>
<text x="114.7" y="321.15000000000003" font-size="3.8" text-anchor="end" fill="#333">0.05</text>
<line x1="116" y1="341.0" x2="118" y2="341.0" stroke="#c0c0c0" stroke-width="0.6"/>
<line x1="217.3" y1="341.0" x2="219.3" y2="341.0" stroke="#c0c0c0" stroke-width="0.6"/>
<text x="114.7" y="342.3" font-size="3.8" text-anchor="end" fill="#333">0</text>
<line x1="122.2" y1="348.2" x2="122.2" y2="346.2" stroke="#c0c0c0" stroke-width="0.6"/>
<line x1="122.2" y1="178" x2="122.2" y2="180" stroke="#c0c0c0" stroke-width="0.6"/>
<text x="122.2" y="353.59999999999997" font-size="3.8" text-anchor="middle" fill="#333">32</text>
<line x1="142.5" y1="348.2" x2="142.5" y2="346.2" stroke="#c0c0c0" stroke-width="0.6"/>
<line x1="142.5" y1="178" x2="142.5" y2="180" stroke="#c0c0c0" stroke-width="0.6"/>
<text x="142.5" y="353.59999999999997" font-size="3.8" text-anchor="middle" fill="#333">31.9</text>
<line x1="163" y1="348.2" x2="163" y2="346.2" stroke="#c0c0c0" stroke-width="0.6"/>
<line x1="163" y1="178" x2="163" y2="180" stroke="#c0c0c0" stroke-width="0.6"/>
<text x="163" y="353.59999999999997" font-size="3.8" text-anchor="middle" fill="#333">31.8</text>
<line x1="183.5" y1="348.2" x2="183.5" y2="346.2" stroke="#c0c0c0" stroke-width="0.6"/>
<line x1="183.5" y1="178" x2="183.5" y2="180" stroke="#c0c0c0" stroke-width="0.6"/>
<text x="183.5" y="353.59999999999997" font-size="3.8" text-anchor="middle" fill="#333">31.7</text>
<line x1="204" y1="348.2" x2="204" y2="346.2" stroke="#c0c0c0" stroke-width="0.6"/>
<line x1="204" y1="178" x2="204" y2="180" stroke="#c0c0c0" stroke-width="0.6"/>
<text x="204" y="353.59999999999997" font-size="3.8" text-anchor="middle" fill="#333">31.6</text>
</g>
<g clip-path="url(#c5)">
<polyline points="116.00,340.1 122.25,339.7 124.50,339.2 125.75,338.5 126.25,337.9 126.75,336.9 127.00,336.2 127.25,335.0 127.50,333.0 127.75,328.5 128.00,318.5 128.25,299.5 128.50,273.3 128.75,255.7 129.00,266.9 129.25,292.8 129.50,313.6 129.75,325.0 130.00,329.9 130.25,331.7 130.50,332.2 130.75,332.1 131.00,331.5 131.25,330.4 131.50,328.6 131.75,325.8 132.00,321.0 132.25,311.5 132.50,290.5 132.75,248.0 133.00,178.0 134.00,178.0 134.25,247.4 134.50,290.5 134.75,311.8 135.00,321.7 135.25,326.7 135.50,329.7 135.75,331.8 136.00,333.3 136.25,334.5 136.50,335.3 137.00,336.6 137.75,337.8 138.75,338.6 140.50,339.3 143.75,339.8 146.50,339.8 147.50,339.5 148.50,338.5 148.75,338.5 149.75,339.5 151.00,339.9 154.00,339.9 155.50,339.5 156.25,338.8 156.50,338.4 156.75,337.6 157.00,336.2 157.25,333.8 157.50,330.4 157.75,326.0 158.00,322.2 158.25,321.4 158.50,324.4 158.75,328.7 159.00,332.5 159.25,335.1 159.50,336.6 159.75,337.3 160.00,337.5 160.50,337.1 160.75,337.1 161.50,338.8 162.00,339.4 163.00,339.9 166.00,340.2 194.00,340.4 207.00,340.2 209.50,339.9 210.50,339.4 210.75,339.2 211.00,338.8 211.25,338.0 211.50,336.5 211.75,333.6 212.00,328.5 212.25,320.9 212.50,311.2 212.75,301.4 213.00,294.7 213.25,294.4 213.50,300.8 214.00,320.3 214.25,328.1 214.50,333.3 214.75,336.3 215.00,337.9 215.25,338.7 215.50,339.2 216.25,339.7 218.25,340.2 219.00,340.2" fill="none" stroke="#c0504d" stroke-width="0.45" stroke-opacity="0.9"/>
<polyline points="116.00,339.8 122.00,339.4 124.25,338.8 125.50,338.1 126.25,337.3 126.75,336.3 127.00,335.6 127.25,334.5 127.50,332.6 127.75,328.9 128.00,321.0 128.25,305.8 128.50,282.5 128.75,259.0 129.00,254.5 129.25,274.0 129.50,298.1 129.75,315.2 130.00,324.2 130.25,327.9 130.50,329.0 130.75,328.9 131.00,327.9 131.25,326.1 131.50,323.1 131.75,317.6 132.00,306.6 132.25,283.5 132.50,239.9 132.75,178.0 133.75,178.0 134.00,225.9 134.25,275.7 134.50,303.2 134.75,316.7 135.00,323.5 135.25,327.3 135.50,329.8 135.75,331.7 136.00,333.1 136.25,334.1 136.50,335.0 137.00,336.2 137.75,337.3 138.75,338.2 140.50,339.0 143.50,339.4 146.25,339.5 147.25,339.2 148.00,338.6 148.50,338.2 148.75,338.2 149.75,339.2 151.00,339.6 153.75,339.6 155.25,339.2 156.00,338.7 156.25,338.4 156.50,337.9 156.75,337.0 157.00,335.5 157.25,333.1 157.50,329.7 157.75,325.7 158.00,322.2 158.25,321.2 158.50,323.6 158.75,327.5 159.00,331.2 159.25,334.0 159.50,335.8 159.75,336.7 160.00,337.1 160.25,337.0 160.75,336.7 161.00,336.9 161.75,338.5 162.25,339.1 163.25,339.6 166.25,339.9 190.50,340.1 206.50,340.0 209.25,339.6 210.25,339.1 210.75,338.6 211.00,337.9 211.25,336.7 211.50,334.4 211.75,330.5 212.00,324.4 212.25,316.2 212.50,306.7 212.75,298.1 213.00,293.3 213.25,294.6 213.50,301.3 214.00,319.7 214.25,327.1 214.50,332.3 214.75,335.5 215.00,337.3 215.25,338.2 215.50,338.7 216.00,339.2 217.50,339.7 219.00,339.9" fill="none" stroke="#f79646" stroke-width="0.45" stroke-opacity="0.9"/>
<polyline points="116.00,340.5 121.75,340.1 124.00,339.5 125.25,338.9 126.00,338.1 126.50,337.2 126.75,336.5 127.00,335.5 127.25,334.0 127.50,331.2 127.75,325.2 128.00,313.1 128.25,292.7 128.50,267.8 128.75,253.7 129.00,265.1 129.25,289.2 129.50,309.7 129.75,321.8 130.00,327.4 130.25,329.4 130.50,329.8 130.75,329.2 131.00,327.9 131.25,325.7 131.50,322.0 131.75,314.9 132.00,300.5 132.25,271.2 132.50,219.0 132.75,178.0 133.75,178.0 134.00,241.3 134.25,284.7 134.50,307.8 134.75,319.2 135.00,325.0 135.25,328.5 135.50,330.8 135.75,332.6 136.00,333.9 136.25,334.9 136.75,336.3 137.25,337.3 138.00,338.3 139.25,339.1 141.25,339.8 144.75,340.2 146.75,340.0 147.50,339.5 148.25,338.8 148.50,338.9 149.50,339.8 150.75,340.2 153.50,340.2 155.00,339.9 155.75,339.4 156.00,339.1 156.25,338.6 156.50,337.7 156.75,336.3 157.00,334.1 157.25,330.9 157.50,326.9 157.75,323.0 158.00,321.4 158.25,323.2 158.75,330.9 159.00,333.9 159.25,335.9 159.50,337.0 159.75,337.5 160.00,337.6 160.50,337.3 160.75,337.5 161.50,339.1 162.00,339.7 163.00,340.2 166.00,340.6 188.75,340.8 206.00,340.6 209.00,340.3 210.00,339.9 210.50,339.4 210.75,338.9 211.00,338.0 211.25,336.3 211.50,333.2 211.75,328.2 212.00,321.0 212.25,312.0 212.50,302.7 212.75,295.7 213.00,293.7 213.25,297.8 213.50,306.0 213.75,315.4 214.00,323.9 214.25,330.3 214.50,334.5 214.75,337.0 215.00,338.4 215.25,339.1 215.75,339.8 217.00,340.3 219.00,340.6" fill="none" stroke="#d4c84a" stroke-width="0.45" stroke-opacity="0.9"/>
<polyline points="116.00,340.2 121.75,339.8 124.25,339.2 125.50,338.6 126.25,337.8 126.75,337.0 127.00,336.4 127.25,335.5 127.50,334.3 127.75,332.2 128.00,327.9 128.25,319.2 128.50,303.7 128.75,281.6 129.00,261.0 129.25,258.6 129.50,276.5 129.75,298.3 130.00,314.3 130.25,323.0 130.50,326.6 130.75,327.5 131.00,326.9 131.25,325.3 131.50,322.2 131.75,316.5 132.00,305.0 132.25,281.8 132.50,239.5 132.75,178.0 133.75,178.0 134.00,210.0 134.25,264.0 134.50,296.2 134.75,313.0 135.00,321.5 135.25,326.1 135.50,329.0 135.75,331.1 136.00,332.7 136.25,333.8 136.50,334.8 137.00,336.1 137.75,337.4 138.75,338.4 140.25,339.2 143.00,339.7 146.00,339.9 147.25,339.5 148.50,338.5 148.75,338.6 149.75,339.5 151.00,339.9 153.75,340.0 155.50,339.5 156.25,338.9 156.50,338.5 156.75,337.9 157.00,336.9 157.25,335.1 157.50,332.6 157.75,329.1 158.00,325.2 158.25,322.1 158.50,321.6 158.75,324.0 159.00,327.7 159.25,331.2 159.50,333.9 159.75,335.5 160.00,336.4 160.25,336.7 160.75,336.8 161.00,337.2 161.50,338.4 162.00,339.2 162.75,339.7 164.50,340.1 171.75,340.4 204.50,340.4 208.75,340.1 210.25,339.6 210.75,339.2 211.00,338.8 211.25,338.0 211.50,336.7 211.75,334.2 212.00,330.2 212.25,324.2 212.50,316.2 212.75,307.2 213.00,299.0 213.25,294.0 213.50,294.5 213.75,300.2 214.00,308.8 214.25,317.7 214.50,325.4 214.75,331.0 215.00,334.8 215.25,337.0 215.50,338.2 215.75,338.9 216.25,339.5 217.50,340.0 219.00,340.3" fill="none" stroke="#9bbb59" stroke-width="0.45" stroke-opacity="0.9"/>
<polyline points="116.00,340.1 122.00,339.6 124.25,339.1 125.50,338.4 126.25,337.6 126.75,336.7 127.00,336.1 127.25,335.2 127.50,333.7 127.75,331.1 128.00,325.7 128.25,314.6 128.50,295.8 128.75,271.6 129.00,254.6 129.25,261.3 129.50,283.9 129.75,305.2 130.00,318.9 130.25,325.6 130.50,328.2 130.75,328.8 131.00,328.3 131.25,327.0 131.50,324.8 131.75,320.9 132.00,313.5 132.25,298.6 132.50,268.9 132.75,216.8 133.00,178.0 134.00,178.0 134.25,235.1 134.50,280.3 134.75,305.1 135.00,317.4 135.25,323.7 135.50,327.5 135.75,329.9 136.00,331.8 136.25,333.1 136.50,334.2 136.75,335.0 137.25,336.3 138.00,337.5 139.00,338.4 140.75,339.2 143.75,339.7 146.75,339.7 147.75,339.4 148.75,338.5 149.00,338.5 150.00,339.4 151.00,339.8 153.50,339.8 155.25,339.5 156.00,339.1 156.50,338.4 156.75,337.8 157.00,336.7 157.25,334.9 157.50,332.2 157.75,328.6 158.00,324.6 158.25,321.5 158.50,321.2 158.75,324.0 159.00,327.9 159.25,331.5 159.50,334.1 159.75,335.8 160.00,336.7 160.25,337.0 160.75,336.8 161.00,336.9 161.75,338.5 162.25,339.2 163.25,339.8 166.00,340.1 183.75,340.4 206.00,340.3 209.25,339.9 210.50,339.3 210.75,339.1 211.00,338.7 211.25,337.9 211.50,336.5 211.75,334.0 212.00,329.8 212.25,323.5 212.50,315.2 212.75,306.0 213.00,297.9 213.25,293.5 213.50,295.0 213.75,301.4 214.25,319.3 214.50,326.7 214.75,332.0 215.00,335.4 215.25,337.3 215.50,338.3 215.75,338.9 216.25,339.4 217.50,339.9 219.00,340.2" fill="none" stroke="#8064a2" stroke-width="0.45" stroke-opacity="0.9"/>
<polyline points="116.00,339.7 122.00,339.3 124.25,338.7 125.50,338.1 126.25,337.3 126.75,336.4 127.00,335.8 127.25,335.0 127.50,333.7 127.75,331.4 128.00,326.7 128.25,317.0 128.50,299.6 128.75,275.7 129.00,255.6 129.25,257.5 129.50,278.9 129.75,301.4 130.00,316.5 130.25,324.1 130.50,327.1 130.75,327.7 131.00,327.2 131.25,325.6 131.50,322.9 131.75,318.0 132.00,308.2 132.25,288.1 132.50,249.5 132.75,186.9 133.00,178.0 133.75,178.0 134.00,200.3 134.25,258.8 134.50,293.7 134.75,311.7 135.00,320.6 135.25,325.4 135.50,328.4 135.75,330.5 136.00,332.1 136.25,333.3 136.50,334.3 137.00,335.7 137.75,336.9 138.75,337.9 140.25,338.7 143.00,339.2 146.25,339.3 147.25,339.1 148.00,338.5 148.50,338.1 148.75,338.1 149.75,339.0 150.75,339.4 153.25,339.5 155.25,339.1 156.00,338.7 156.50,338.0 156.75,337.3 157.00,336.2 157.25,334.3 157.50,331.5 157.75,327.8 158.00,323.8 158.25,320.9 158.50,321.1 158.75,324.1 159.00,328.1 159.25,331.6 159.50,334.0 159.75,335.5 160.00,336.2 160.25,336.4 160.75,336.4 161.00,336.8 161.50,338.0 162.00,338.7 162.75,339.2 164.75,339.7 173.75,339.9 204.75,339.9 208.75,339.6 210.00,339.2 210.50,338.8 210.75,338.5 211.00,337.9 211.25,336.8 211.50,334.8 211.75,331.3 212.00,325.8 212.25,318.1 212.50,309.0 212.75,300.1 213.00,294.0 213.25,293.3 213.50,298.3 213.75,306.8 214.00,316.0 214.25,324.1 214.50,330.1 214.75,334.1 215.00,336.4 215.25,337.7 215.50,338.4 216.00,339.0 217.25,339.5 219.00,339.8" fill="none" stroke="#e8a33d" stroke-width="0.45" stroke-opacity="0.9"/>
<polyline points="116.00,340.2 122.00,339.8 124.50,339.3 125.50,338.7 126.25,337.9 126.75,336.9 127.00,336.2 127.25,335.1 127.50,333.2 127.75,329.1 128.00,319.8 128.25,301.5 128.50,274.9 128.75,254.8 129.00,263.4 129.25,289.6 129.50,311.5 129.75,323.6 130.00,328.6 130.25,330.2 130.50,330.3 130.75,329.6 131.00,328.1 131.25,325.5 131.50,320.9 131.75,311.7 132.00,291.3 132.25,249.1 132.50,178.0 133.50,178.0 133.75,246.3 134.00,290.3 134.25,311.8 134.50,321.7 134.75,326.7 135.00,329.7 135.25,331.8 135.50,333.4 135.75,334.5 136.00,335.4 136.50,336.7 137.25,337.9 138.25,338.7 140.00,339.4 143.25,339.9 146.25,339.9 147.25,339.5 148.00,338.7 148.25,338.7 149.25,339.6 150.25,340.0 153.25,340.1 155.00,339.7 155.75,339.3 156.25,338.6 156.50,337.9 156.75,336.7 157.00,334.6 157.25,331.3 157.75,322.7 158.00,321.1 158.25,323.6 158.50,327.9 158.75,331.9 159.00,334.8 159.25,336.5 159.50,337.3 159.75,337.5 160.25,337.1 160.50,337.2 161.25,338.9 161.75,339.5 162.75,340.0 165.75,340.3 193.75,340.5 206.75,340.3 209.25,340.0 210.25,339.5 210.50,339.2 210.75,338.7 211.00,337.8 211.25,335.9 211.50,332.4 211.75,326.5 212.00,318.0 212.25,307.9 212.50,298.6 212.75,293.8 213.00,296.1 213.25,304.3 213.50,314.5 213.75,323.8 214.00,330.6 214.25,334.9 214.50,337.3 214.75,338.5 215.00,339.1 215.50,339.6 216.75,340.1 219.00,340.4" fill="none" stroke="#4fb0a0" stroke-width="0.45" stroke-opacity="0.9"/>
<polyline points="116.00,340.4 121.75,340.0 124.25,339.4 125.50,338.7 126.25,337.8 126.75,336.7 127.00,335.9 127.25,334.6 127.50,332.4 127.75,327.6 128.00,317.4 128.25,298.9 128.50,273.9 128.75,255.8 129.00,263.1 129.25,286.9 129.50,308.3 129.75,321.2 130.00,327.1 130.25,329.1 130.50,329.4 130.75,328.7 131.00,327.1 131.25,324.3 131.50,319.3 131.75,309.1 132.00,287.4 132.25,245.5 132.50,178.0 133.50,178.0 133.75,229.1 134.00,278.5 134.25,305.3 134.50,318.2 134.75,324.6 135.00,328.3 135.25,330.8 135.50,332.5 135.75,333.9 136.00,334.9 136.25,335.7 136.75,336.9 137.50,338.0 138.50,338.8 140.25,339.5 143.50,340.0 146.25,340.0 147.25,339.6 148.00,338.8 148.25,338.8 149.50,339.9 151.00,340.2 154.00,340.1 155.25,339.7 156.00,339.1 156.25,338.6 156.50,337.9 156.75,336.6 157.00,334.4 157.25,331.2 157.75,323.2 158.00,321.3 158.25,323.0 158.75,330.8 159.00,333.9 159.25,335.8 159.50,336.8 159.75,337.2 160.25,337.0 160.50,337.3 161.25,339.0 161.75,339.6 162.75,340.1 165.50,340.4 185.75,340.7 205.75,340.5 208.75,340.2 209.75,339.8 210.25,339.4 210.50,338.9 210.75,338.1 211.00,336.5 211.25,333.6 211.50,328.7 211.75,321.5 212.00,312.4 212.25,302.9 212.50,295.8 212.75,294.0 213.00,298.6 213.25,307.2 213.50,316.8 213.75,325.1 214.00,331.2 214.25,335.1 214.50,337.4 214.75,338.6 215.00,339.2 215.50,339.7 216.75,340.2 219.00,340.5" fill="none" stroke="#4bacc6" stroke-width="0.45" stroke-opacity="0.9"/>
<polyline points="116.00,339.3 121.75,338.8 124.00,338.3 125.25,337.6 126.00,336.8 126.50,336.0 126.75,335.4 127.00,334.6 127.25,333.4 127.50,331.3 127.75,327.3 128.00,319.2 128.25,304.6 128.50,283.0 128.75,260.5 129.00,252.4 129.25,266.8 129.50,289.5 129.75,308.2 130.00,319.4 130.25,324.8 130.50,326.7 130.75,326.9 131.00,326.0 131.25,324.2 131.50,321.1 131.75,315.4 132.00,304.2 132.25,281.9 132.50,241.6 132.75,179.5 133.00,178.0 133.75,178.0 134.00,189.3 134.25,248.8 134.50,286.6 134.75,307.2 135.00,317.8 135.25,323.4 135.50,326.9 135.75,329.2 136.00,330.9 136.25,332.3 136.50,333.3 137.00,334.8 137.50,335.9 138.25,336.9 139.50,337.8 141.50,338.5 144.75,338.9 146.75,338.8 147.50,338.4 148.25,337.7 148.50,337.7 149.00,338.0 149.75,338.7 151.00,339.0 153.75,339.0 155.25,338.6 156.00,338.1 156.25,337.7 156.50,337.1 156.75,336.1 157.00,334.6 157.25,332.2 157.50,329.0 157.75,325.2 158.00,321.7 158.25,320.2 158.50,321.7 158.75,325.2 159.00,328.9 159.25,331.9 159.50,334.0 159.75,335.2 160.00,335.7 160.50,335.8 160.75,336.0 161.50,337.6 162.00,338.3 163.00,338.9 165.50,339.3 178.75,339.6 205.00,339.5 208.50,339.2 210.00,338.7 210.50,338.2 210.75,337.6 211.00,336.7 211.25,335.0 211.50,332.1 211.75,327.6 212.00,321.1 212.25,313.0 212.50,304.3 212.75,296.9 213.00,293.2 213.25,294.8 213.50,301.0 214.00,318.0 214.25,325.2 214.50,330.5 214.75,334.0 215.00,336.2 215.25,337.3 215.50,338.0 216.00,338.6 217.25,339.1 219.00,339.4" fill="none" stroke="#6fa8dc" stroke-width="0.45" stroke-opacity="0.9"/>
<polyline points="116.00,340.4 122.00,340.0 124.25,339.5 125.50,338.8 126.25,338.0 126.75,337.1 127.00,336.3 127.25,335.3 127.50,333.5 127.75,329.8 128.00,321.8 128.25,306.1 128.50,281.9 128.75,258.5 129.00,257.0 129.25,278.9 129.50,302.9 129.75,318.8 130.00,326.5 130.25,329.5 130.50,330.4 130.75,330.2 131.00,329.2 131.25,327.5 131.50,324.7 131.75,319.8 132.00,310.0 132.25,289.0 132.50,247.5 132.75,179.1 133.00,178.0 133.75,178.0 134.00,227.3 134.25,278.1 134.50,305.2 134.75,318.2 135.00,324.6 135.25,328.3 135.50,330.8 135.75,332.6 136.00,333.9 136.25,334.9 136.50,335.7 137.00,336.9 137.75,338.0 138.75,338.9 140.50,339.6 143.75,340.1 146.50,340.1 147.50,339.7 148.50,338.8 148.75,338.9 149.75,339.8 151.00,340.2 153.75,340.2 155.25,339.8 156.00,339.3 156.25,339.0 156.50,338.5 156.75,337.6 157.00,336.0 157.25,333.5 157.50,330.0 157.75,325.7 158.00,322.2 158.25,321.6 158.50,324.5 158.75,328.7 159.00,332.4 159.25,335.0 159.50,336.6 159.75,337.3 160.00,337.5 160.50,337.2 160.75,337.4 161.50,339.0 162.00,339.6 163.00,340.1 166.00,340.5 190.50,340.7 206.25,340.6 209.00,340.2 210.00,339.8 210.50,339.3 210.75,338.9 211.00,338.0 211.25,336.2 211.50,333.0 211.75,327.6 212.00,319.9 212.50,300.9 212.75,294.5 213.00,294.3 213.25,300.2 213.50,309.5 213.75,319.1 214.00,327.1 214.25,332.6 214.50,336.0 214.75,337.9 215.00,338.8 215.25,339.3 215.75,339.8 217.25,340.3 219.00,340.5" fill="none" stroke="#5b86cc" stroke-width="0.45" stroke-opacity="0.9"/>
</g>
<g style="filter:grayscale(1)">
<text x="134.25" y="207.0" font-size="6.7" font-weight="normal" letter-spacing="0.35" stroke="#1a1a1a" stroke-width="0.45" text-anchor="middle" fill="#1a1a1a">O16</text>
<text x="123" y="223.0" font-size="6.7" font-weight="normal" letter-spacing="0.35" stroke="#1a1a1a" stroke-width="0.45" text-anchor="middle" fill="#1a1a1a">S16<tspan font-size="5.7" dy="-0.3" stroke-width="0.6">+</tspan><tspan dy="0.3"></tspan></text>
<text x="124.25" y="232.0" font-size="6.7" font-weight="normal" letter-spacing="0.35" stroke="#1a1a1a" stroke-width="0.45" text-anchor="middle" fill="#1a1a1a">P14</text>
<text x="158.9" y="318.5" font-size="6.7" font-weight="normal" letter-spacing="0.35" stroke="#1a1a1a" stroke-width="0.45" text-anchor="middle" fill="#1a1a1a">V16</text>
<text x="211.9" y="289.5" font-size="6.7" font-weight="normal" letter-spacing="0.35" stroke="#1a1a1a" stroke-width="0.45" text-anchor="middle" fill="#1a1a1a">L16</text>
<line x1="124" y1="236" x2="127.3" y2="252.5" stroke="#202020" stroke-width="0.7"/>
<polygon points="127.3,252.5 125.49,250.11 128.05,249.60" fill="#202020"/>
</g>
<g style="filter:grayscale(1)">
<line x1="228.4" y1="178" x2="228.4" y2="346.9" stroke="#c0c0c0" stroke-width="0.8"/>
<line x1="228.4" y1="346.9" x2="356.2" y2="346.9" stroke="#c0c0c0" stroke-width="0.8"/>
<line x1="228.4" y1="178" x2="356.2" y2="178" stroke="#c0c0c0" stroke-width="0.8"/>
<line x1="228.4" y1="201.2" x2="230.4" y2="201.2" stroke="#c0c0c0" stroke-width="0.6"/>
<line x1="354.2" y1="201.2" x2="356.2" y2="201.2" stroke="#c0c0c0" stroke-width="0.6"/>
<text x="227.1" y="202.5" font-size="3.8" text-anchor="end" fill="#333">0.5</text>
<line x1="228.4" y1="229.3" x2="230.4" y2="229.3" stroke="#c0c0c0" stroke-width="0.6"/>
<line x1="354.2" y1="229.3" x2="356.2" y2="229.3" stroke="#c0c0c0" stroke-width="0.6"/>
<text x="227.1" y="230.60000000000002" font-size="3.8" text-anchor="end" fill="#333">0.4</text>
<line x1="228.4" y1="257.4" x2="230.4" y2="257.4" stroke="#c0c0c0" stroke-width="0.6"/>
<line x1="354.2" y1="257.4" x2="356.2" y2="257.4" stroke="#c0c0c0" stroke-width="0.6"/>
<text x="227.1" y="258.7" font-size="3.8" text-anchor="end" fill="#333">0.3</text>
<line x1="228.4" y1="285.5" x2="230.4" y2="285.5" stroke="#c0c0c0" stroke-width="0.6"/>
<line x1="354.2" y1="285.5" x2="356.2" y2="285.5" stroke="#c0c0c0" stroke-width="0.6"/>
<text x="227.1" y="286.8" font-size="3.8" text-anchor="end" fill="#333">0.2</text>
<line x1="228.4" y1="313.6" x2="230.4" y2="313.6" stroke="#c0c0c0" stroke-width="0.6"/>
<line x1="354.2" y1="313.6" x2="356.2" y2="313.6" stroke="#c0c0c0" stroke-width="0.6"/>
<text x="227.1" y="314.90000000000003" font-size="3.8" text-anchor="end" fill="#333">0.1</text>
<line x1="228.4" y1="341.7" x2="230.4" y2="341.7" stroke="#c0c0c0" stroke-width="0.6"/>
<line x1="354.2" y1="341.7" x2="356.2" y2="341.7" stroke="#c0c0c0" stroke-width="0.6"/>
<text x="227.1" y="343.0" font-size="3.8" text-anchor="end" fill="#333">0</text>
<line x1="250.3" y1="346.9" x2="250.3" y2="344.9" stroke="#c0c0c0" stroke-width="0.6"/>
<line x1="250.3" y1="178" x2="250.3" y2="180" stroke="#c0c0c0" stroke-width="0.6"/>
<text x="250.3" y="352.29999999999995" font-size="3.8" text-anchor="middle" fill="#333">29.8</text>
<line x1="278" y1="346.9" x2="278" y2="344.9" stroke="#c0c0c0" stroke-width="0.6"/>
<line x1="278" y1="178" x2="278" y2="180" stroke="#c0c0c0" stroke-width="0.6"/>
<text x="278" y="352.29999999999995" font-size="3.8" text-anchor="middle" fill="#333">29.75</text>
<line x1="305.7" y1="346.9" x2="305.7" y2="344.9" stroke="#c0c0c0" stroke-width="0.6"/>
<line x1="305.7" y1="178" x2="305.7" y2="180" stroke="#c0c0c0" stroke-width="0.6"/>
<text x="305.7" y="352.29999999999995" font-size="3.8" text-anchor="middle" fill="#333">29.7</text>
<line x1="333.4" y1="346.9" x2="333.4" y2="344.9" stroke="#c0c0c0" stroke-width="0.6"/>
<line x1="333.4" y1="178" x2="333.4" y2="180" stroke="#c0c0c0" stroke-width="0.6"/>
<text x="333.4" y="352.29999999999995" font-size="3.8" text-anchor="middle" fill="#333">29.65</text>
</g>
<g clip-path="url(#c6)">
<polyline points="228.40,339.3 233.65,339.1 235.40,338.6 236.40,338.0 237.15,337.2 237.90,336.0 238.65,334.2 239.15,332.6 239.65,330.6 240.15,328.1 240.65,325.1 241.15,321.6 241.65,317.6 242.15,312.9 242.65,307.7 243.15,301.9 243.65,295.8 244.40,286.0 245.40,272.6 246.15,263.0 246.40,259.5 246.65,255.1 246.90,249.0 247.15,239.9 247.40,227.3 247.65,212.0 247.90,197.0 248.15,186.5 248.40,183.7 248.65,184.5 248.90,187.0 249.15,191.2 249.40,196.7 249.65,203.2 249.90,210.3 250.40,225.0 250.65,232.2 250.90,238.9 251.15,245.1 251.40,250.8 251.65,256.1 251.90,260.9 252.15,265.4 252.40,269.6 252.65,273.6 253.15,281.0 253.65,288.0 254.15,294.6 254.65,300.8 255.15,306.6 255.65,311.8 256.15,316.5 256.65,320.6 257.15,324.2 257.65,327.2 258.15,329.6 258.65,331.7 259.15,333.3 259.90,335.0 260.65,336.2 261.40,336.9 262.40,337.2 263.15,337.2 263.65,336.8 263.90,336.4 264.15,335.8 264.40,335.0 264.65,334.0 265.15,331.5 265.40,330.6 265.65,330.4 265.90,330.9 266.65,334.0 266.90,334.8 267.15,335.4 267.40,335.7 267.90,335.9 268.90,335.6 270.15,334.5 271.15,333.3 271.90,331.8 272.40,330.5 272.90,328.8 273.15,327.7 273.40,326.4 273.65,324.8 273.90,323.0 274.15,320.9 274.40,318.4 274.65,315.5 274.90,312.2 275.15,308.4 275.40,304.0 275.65,299.2 275.90,293.8 276.15,287.9 276.40,281.6 276.90,268.3 277.15,261.9 277.40,256.0 277.65,251.1 277.90,247.6 278.15,245.9 278.40,248.7 278.65,259.9 278.90,274.6 279.15,288.7 279.40,300.3 279.65,308.9 279.90,314.8 280.15,318.4 280.40,320.5 280.65,321.4 280.90,321.5 281.15,321.2 281.65,319.9 282.15,318.4 282.40,317.8 282.65,317.4 282.90,317.2 283.65,317.0 283.90,316.8 284.15,316.4 284.40,315.7 284.65,314.3 284.90,311.2 285.15,303.9 285.40,288.5 285.65,263.1 285.90,234.7 286.15,226.1 286.40,246.9 286.65,274.4 286.90,293.5 287.15,302.7 287.40,305.6 287.65,305.5 287.90,304.2 288.15,302.4 288.90,296.0 289.15,294.3 289.40,292.9 289.65,292.1 289.90,292.0 290.15,292.5 290.65,293.9 291.15,295.7 291.65,297.8 292.40,301.6 293.40,307.4 294.90,316.5 295.65,320.7 296.40,324.4 297.15,327.6 297.90,330.2 298.65,332.2 299.40,333.5 300.15,334.3 300.65,334.4 301.15,334.1 301.40,333.7 301.65,333.0 301.90,332.0 302.15,330.5 302.40,328.4 302.65,325.3 302.90,321.1 303.15,315.7 303.40,308.8 303.65,300.5 303.90,291.1 304.40,271.1 304.65,262.2 304.90,255.8 305.15,253.0 305.40,253.2 305.65,254.3 305.90,256.0 306.15,258.5 306.40,261.5 306.65,265.0 306.90,268.9 307.15,273.0 308.15,290.3 308.40,294.5 308.65,298.5 308.90,302.3 309.15,305.9 309.40,309.3 309.65,312.4 309.90,315.2 310.15,317.8 310.40,320.2 310.65,322.3 310.90,324.1 311.15,325.8 311.40,327.2 311.65,328.5 312.15,330.5 312.65,332.0 313.15,333.1 313.90,334.2 314.90,335.1 316.40,335.6 318.15,335.7 319.65,335.2 320.65,334.5 321.40,333.7 322.15,332.3 322.65,331.0 323.15,329.3 323.40,328.2 323.65,327.0 323.90,325.6 324.15,324.0 324.40,322.2 324.65,320.2 324.90,318.0 325.40,313.1 325.90,308.0 326.15,305.8 326.40,303.9 326.65,302.7 326.90,302.3 327.15,302.5 327.40,303.2 327.65,304.3 327.90,305.7 328.15,307.4 329.40,316.9 329.90,320.4 330.40,323.4 330.90,325.9 331.40,328.1 331.90,329.8 332.65,331.8 333.40,333.2 334.40,334.5 335.40,335.3 336.40,335.6 336.90,335.4 337.15,335.1 337.40,334.7 337.65,334.0 337.90,333.2 338.15,332.1 338.90,328.1 339.15,327.1 339.40,326.7 339.65,327.0 339.90,327.9 340.40,330.8 340.90,333.6 341.15,334.7 341.40,335.6 341.65,336.3 342.15,337.2 342.90,337.8 344.90,338.4 349.90,339.0 355.40,339.3" fill="none" stroke="#c0504d" stroke-width="0.45" stroke-opacity="0.9"/>
<polyline points="228.40,339.4 233.40,339.2 235.15,338.8 236.40,337.9 237.15,337.1 237.90,335.7 238.65,333.8 239.15,332.2 239.65,330.1 240.15,327.6 240.65,324.6 241.15,321.1 241.65,317.1 242.15,312.5 242.65,307.4 243.15,301.8 243.65,295.8 244.40,286.3 245.40,273.3 246.15,264.2 246.40,261.2 246.65,258.0 246.90,254.1 247.15,248.7 247.40,240.8 247.65,229.7 247.90,215.7 248.15,200.9 248.40,189.1 248.65,183.8 248.90,184.0 249.15,186.0 249.40,189.6 249.65,194.6 249.90,200.6 250.15,207.5 250.90,229.3 251.15,236.3 251.40,242.9 251.65,248.9 251.90,254.5 252.15,259.6 252.40,264.4 252.65,268.7 252.90,272.8 253.15,276.7 253.65,283.9 254.15,290.6 254.65,296.9 255.15,302.9 255.65,308.3 256.15,313.3 256.65,317.7 257.15,321.6 257.65,324.9 258.15,327.7 258.65,330.1 259.15,332.0 259.65,333.5 260.40,335.2 261.15,336.3 261.90,337.0 262.90,337.4 263.65,337.4 264.15,337.1 264.40,336.8 264.65,336.3 264.90,335.6 265.15,334.7 265.90,331.3 266.15,330.6 266.40,330.7 266.65,331.4 267.15,333.6 267.40,334.5 267.65,335.2 267.90,335.6 268.40,336.1 269.15,336.0 270.40,335.1 271.40,333.9 272.15,332.6 272.65,331.3 273.15,329.6 273.40,328.5 273.65,327.2 273.90,325.7 274.15,323.9 274.40,321.9 274.65,319.5 274.90,316.8 275.15,313.7 275.40,310.2 275.65,306.3 275.90,302.1 276.15,297.4 276.40,292.5 276.90,282.3 277.15,277.3 277.40,272.7 277.65,269.0 277.90,266.2 278.15,264.8 278.40,266.4 278.65,274.5 278.90,285.4 279.15,296.1 279.40,305.0 279.65,311.5 279.90,315.9 280.15,318.4 280.40,319.5 280.65,319.5 280.90,318.8 281.15,317.7 281.65,314.6 282.15,311.5 282.40,310.1 282.65,309.0 282.90,308.1 283.15,307.7 283.90,307.2 284.15,306.9 284.40,306.4 284.65,305.4 284.90,303.2 285.15,298.2 285.40,287.0 285.65,266.6 285.90,238.9 286.15,218.6 286.40,226.2 286.65,252.6 286.90,276.8 287.15,291.5 287.40,298.1 287.65,300.2 287.90,300.2 288.15,299.3 288.40,298.1 288.90,295.1 289.15,293.8 289.40,292.7 289.65,291.9 289.90,291.7 290.15,292.0 290.65,293.7 291.40,296.8 292.15,300.4 293.15,305.9 295.15,317.4 295.90,321.3 296.65,324.8 297.40,327.8 298.15,330.2 298.90,332.1 299.65,333.4 300.40,334.0 300.90,334.1 301.40,333.7 301.65,333.3 301.90,332.6 302.15,331.4 302.40,329.8 302.65,327.4 302.90,324.1 303.15,319.7 303.40,314.1 303.65,307.1 303.90,298.9 304.15,289.6 304.40,279.8 304.65,270.1 304.90,261.6 305.15,255.5 305.40,252.7 305.65,252.9 305.90,253.9 306.15,255.6 306.40,257.9 306.65,260.8 306.90,264.1 307.15,267.8 307.40,271.7 308.65,292.7 308.90,296.7 309.15,300.5 309.40,304.1 309.65,307.5 309.90,310.6 310.15,313.5 310.40,316.2 310.65,318.6 310.90,320.8 311.15,322.8 311.40,324.5 311.65,326.1 311.90,327.5 312.40,329.7 312.90,331.4 313.40,332.6 314.15,333.9 315.15,334.8 316.40,335.4 318.15,335.5 319.65,335.1 320.65,334.5 321.40,333.7 322.15,332.4 322.65,331.2 323.15,329.6 323.65,327.4 323.90,326.1 324.15,324.6 324.40,323.0 324.65,321.1 324.90,319.0 325.40,314.4 326.15,307.0 326.40,304.9 326.65,303.2 326.90,302.2 327.15,301.9 327.40,302.2 327.65,302.9 327.90,304.0 328.15,305.4 328.65,308.9 329.65,316.5 330.15,319.9 330.65,322.9 331.15,325.5 331.65,327.6 332.15,329.4 332.90,331.4 333.65,332.9 334.65,334.3 335.65,335.1 336.40,335.3 336.90,335.0 337.15,334.7 337.40,334.2 337.65,333.6 337.90,332.7 338.40,330.3 338.90,327.8 339.15,326.9 339.40,326.6 339.65,327.0 339.90,328.0 340.65,332.2 340.90,333.5 341.15,334.6 341.40,335.5 341.65,336.2 342.15,337.1 342.90,337.7 344.65,338.4 349.15,339.0 355.40,339.4" fill="none" stroke="#f79646" stroke-width="0.45" stroke-opacity="0.9"/>
<polyline points="228.40,339.8 233.65,339.6 235.40,339.2 236.40,338.5 237.15,337.7 237.90,336.4 238.65,334.6 239.15,333.0 239.65,331.0 240.15,328.6 240.65,325.7 241.15,322.2 241.65,318.3 242.15,313.7 242.65,308.6 243.15,303.1 243.65,297.1 244.40,287.5 245.65,271.2 246.15,264.6 246.40,260.7 246.65,255.6 246.90,248.3 247.15,237.8 247.40,224.0 247.65,208.7 247.90,195.0 248.15,187.0 248.40,185.7 248.65,186.7 248.90,189.4 249.15,193.5 249.40,198.9 249.65,205.0 249.90,211.7 250.40,225.5 250.65,232.1 250.90,238.4 251.15,244.2 251.40,249.5 251.65,254.5 251.90,259.0 252.15,263.2 252.40,267.2 252.90,274.7 253.65,285.1 254.40,294.9 254.90,301.0 255.40,306.7 255.90,311.8 256.40,316.5 256.90,320.6 257.40,324.1 257.90,327.1 258.40,329.6 258.90,331.7 259.40,333.3 260.15,335.1 260.90,336.3 261.65,337.0 262.40,337.3 263.15,337.2 263.40,336.9 263.65,336.5 263.90,335.9 264.15,335.1 264.90,331.7 265.15,331.0 265.40,331.0 265.65,331.7 266.40,334.6 266.65,335.3 266.90,335.8 267.40,336.2 268.15,336.1 269.40,335.3 270.40,334.2 271.15,333.0 271.90,331.2 272.40,329.7 272.65,328.7 272.90,327.5 273.15,326.2 273.40,324.6 273.65,322.7 273.90,320.5 274.15,318.0 274.40,315.0 274.65,311.6 274.90,307.7 275.15,303.3 275.40,298.3 275.65,292.8 275.90,286.8 276.15,280.3 276.90,259.8 277.15,253.5 277.40,248.0 277.65,243.8 277.90,241.3 278.15,241.4 278.40,249.9 278.65,264.2 278.90,279.5 279.15,292.7 279.40,303.1 279.65,310.4 279.90,315.1 280.15,317.9 280.40,319.1 280.65,319.3 280.90,318.9 281.15,318.0 281.65,315.5 282.15,313.0 282.40,311.9 282.65,311.1 282.90,310.6 283.65,310.0 283.90,309.7 284.15,309.3 284.40,308.4 284.65,306.9 284.90,303.7 285.15,296.4 285.40,281.3 285.65,256.5 285.90,228.0 286.15,216.7 286.40,234.6 286.65,261.5 286.90,281.3 287.15,291.5 287.40,295.1 287.65,295.7 287.90,295.2 288.40,293.3 288.65,292.6 288.90,292.2 289.15,292.3 289.40,292.9 290.15,295.9 290.90,299.4 291.65,303.4 294.15,317.8 294.90,321.8 295.65,325.3 296.40,328.4 297.15,330.9 297.90,332.9 298.65,334.3 299.40,335.2 300.15,335.6 300.65,335.5 301.15,335.1 301.40,334.7 301.65,334.1 301.90,333.1 302.15,331.7 302.40,329.7 302.65,326.9 302.90,323.1 303.15,318.0 303.40,311.7 303.65,303.9 303.90,295.0 304.15,285.2 304.40,275.1 304.65,265.7 304.90,258.1 305.15,253.5 305.40,252.7 305.65,253.3 305.90,254.7 306.15,256.8 306.40,259.5 306.65,262.7 306.90,266.3 307.15,270.2 307.65,278.6 308.40,291.5 308.65,295.6 308.90,299.5 309.15,303.3 309.40,306.8 309.65,310.1 309.90,313.1 310.15,315.9 310.40,318.4 310.65,320.7 310.90,322.8 311.15,324.6 311.40,326.2 311.65,327.6 311.90,328.9 312.40,330.9 312.90,332.4 313.40,333.5 314.15,334.6 315.15,335.5 316.40,335.9 318.15,336.0 319.65,335.5 320.65,334.7 321.40,333.8 322.15,332.3 322.65,330.9 323.15,329.0 323.40,327.8 323.65,326.5 323.90,325.0 324.15,323.3 324.40,321.4 324.65,319.3 325.15,314.6 325.65,309.6 325.90,307.3 326.15,305.3 326.40,303.9 326.65,303.1 326.90,303.1 327.15,303.5 327.40,304.4 327.65,305.6 327.90,307.1 328.40,310.7 329.40,318.2 329.90,321.5 330.40,324.4 330.90,326.8 331.40,328.8 331.90,330.5 332.65,332.4 333.40,333.8 334.40,335.0 335.40,335.8 336.15,336.0 336.65,335.9 337.15,335.3 337.40,334.8 337.65,334.0 337.90,333.0 338.40,330.6 338.65,329.2 338.90,328.1 339.15,327.3 339.40,327.3 339.65,327.9 339.90,329.0 340.65,333.3 340.90,334.6 341.15,335.6 341.40,336.4 341.90,337.4 342.65,338.2 344.15,338.8 348.15,339.4 355.40,339.9" fill="none" stroke="#d4c84a" stroke-width="0.45" stroke-opacity="0.9"/>
<polyline points="228.40,340.0 232.90,339.7 234.65,339.2 235.65,338.5 236.40,337.7 237.15,336.4 237.90,334.6 238.40,333.1 238.90,331.1 239.40,328.8 239.90,326.0 240.40,322.7 240.90,319.0 241.40,314.7 241.90,309.9 242.40,304.6 242.90,299.0 243.65,289.8 245.40,267.8 245.65,264.5 245.90,260.6 246.15,255.5 246.40,248.1 246.65,237.8 246.90,224.4 247.15,209.4 247.40,195.8 247.65,187.1 247.90,185.1 248.15,185.7 248.40,187.9 248.65,191.5 248.90,196.3 249.15,202.0 249.40,208.3 250.15,228.1 250.40,234.3 250.65,240.1 250.90,245.6 251.15,250.6 251.40,255.2 251.65,259.5 251.90,263.5 252.15,267.3 252.65,274.4 253.40,284.4 254.15,293.9 254.65,299.8 255.15,305.4 255.65,310.5 256.15,315.1 256.65,319.2 257.15,322.9 257.65,326.0 258.15,328.6 258.65,330.8 259.15,332.5 259.65,333.9 260.40,335.5 261.15,336.5 261.90,337.1 262.65,337.2 263.15,337.0 263.40,336.6 263.65,336.1 263.90,335.4 264.15,334.4 264.65,332.2 264.90,331.2 265.15,330.8 265.40,331.1 265.65,331.9 266.15,333.9 266.40,334.7 266.65,335.4 266.90,335.8 267.40,336.1 268.15,336.0 269.40,335.0 270.40,333.8 271.15,332.4 271.65,331.1 272.15,329.4 272.40,328.4 272.65,327.2 272.90,325.7 273.15,324.1 273.40,322.2 273.65,319.9 273.90,317.3 274.15,314.4 274.40,311.0 274.65,307.1 274.90,302.8 275.15,298.0 275.40,292.8 275.65,287.1 275.90,281.1 276.40,268.5 276.65,262.3 276.90,256.6 277.15,251.8 277.40,248.2 277.65,246.0 277.90,246.6 278.15,254.8 278.40,267.6 278.65,280.9 278.90,292.5 279.15,301.5 279.40,307.9 279.65,311.9 279.90,314.1 280.15,315.0 280.40,314.9 280.65,314.3 281.15,312.4 281.65,310.3 281.90,309.5 282.15,309.0 282.40,308.7 283.15,308.4 283.40,308.1 283.65,307.6 283.90,306.5 284.15,304.2 284.40,299.0 284.65,287.7 284.90,267.5 285.15,240.1 285.40,218.4 285.65,222.7 285.90,247.6 286.15,272.3 286.40,288.2 286.65,295.7 286.90,298.1 287.15,298.0 287.40,297.0 287.65,295.4 288.15,291.9 288.40,290.3 288.65,289.0 288.90,288.1 289.15,287.7 289.40,287.9 289.90,289.5 290.65,292.5 291.40,296.3 292.15,300.5 294.65,315.8 295.40,320.0 296.15,323.8 296.90,327.0 297.65,329.6 298.40,331.6 299.15,332.9 299.65,333.4 300.15,333.5 300.40,333.3 300.65,332.9 300.90,332.3 301.15,331.2 301.40,329.6 301.65,327.4 301.90,324.2 302.15,320.0 302.40,314.6 302.65,308.0 302.90,300.1 303.15,291.2 303.65,272.2 303.90,263.6 304.15,257.0 304.40,253.4 304.65,253.1 304.90,253.8 305.15,255.2 305.40,257.3 305.65,259.9 305.90,262.9 306.15,266.4 306.40,270.1 306.90,278.1 307.65,290.5 308.15,298.3 308.40,302.0 308.65,305.4 308.90,308.7 309.15,311.7 309.40,314.5 309.65,317.1 309.90,319.4 310.15,321.5 310.40,323.4 310.65,325.1 310.90,326.6 311.15,327.9 311.65,330.1 312.15,331.8 312.65,333.0 313.40,334.3 314.40,335.3 315.65,335.8 317.15,336.0 318.65,335.6 319.90,334.7 320.65,333.8 321.40,332.4 321.90,331.1 322.40,329.3 322.90,327.0 323.15,325.6 323.40,324.0 323.65,322.3 323.90,320.3 324.40,316.0 325.15,308.8 325.40,306.6 325.65,304.8 325.90,303.5 326.15,302.8 326.40,302.8 326.65,303.3 326.90,304.1 327.15,305.3 327.40,306.8 327.90,310.2 328.90,317.5 329.40,320.8 329.90,323.7 330.40,326.1 330.90,328.2 331.40,329.9 332.15,332.0 332.90,333.4 333.90,334.8 334.90,335.6 335.65,335.9 336.15,335.7 336.65,335.1 336.90,334.6 337.15,333.8 337.40,332.9 337.90,330.5 338.15,329.2 338.40,328.1 338.65,327.4 338.90,327.3 339.15,327.8 339.40,328.8 340.15,333.0 340.40,334.2 340.65,335.2 340.90,336.1 341.40,337.3 341.90,337.9 342.90,338.6 345.65,339.2 352.15,339.8 355.40,340.0" fill="none" stroke="#9bbb59" stroke-width="0.45" stroke-opacity="0.9"/>
<polyline points="228.40,339.5 233.40,339.3 235.15,338.8 236.15,338.1 237.15,337.0 237.90,335.6 238.65,333.6 239.15,331.9 239.65,329.8 240.15,327.2 240.65,324.2 241.15,320.7 241.65,316.7 242.15,312.1 242.65,307.0 243.15,301.5 243.65,295.6 244.40,286.2 245.40,273.4 246.40,261.3 246.65,258.0 246.90,254.1 247.15,248.7 247.40,240.8 247.65,229.9 247.90,216.3 248.15,202.0 248.40,190.3 248.65,184.8 248.90,184.7 249.15,186.4 249.40,189.6 249.65,194.1 249.90,199.7 250.15,206.1 250.40,212.9 250.90,226.9 251.15,233.7 251.40,240.0 251.65,246.0 251.90,251.5 252.15,256.6 252.40,261.3 252.65,265.6 252.90,269.7 253.15,273.6 253.65,280.8 254.15,287.5 254.65,293.9 255.15,299.9 255.65,305.5 256.15,310.6 256.65,315.2 257.15,319.3 257.65,322.9 258.15,325.9 258.65,328.5 259.15,330.6 259.65,332.4 260.15,333.7 260.90,335.2 261.65,336.2 262.40,336.7 263.15,336.9 263.65,336.7 264.15,336.0 264.40,335.4 264.65,334.6 265.40,331.3 265.65,330.5 265.90,330.4 266.15,330.9 266.90,333.8 267.15,334.5 267.40,335.0 267.65,335.3 268.15,335.5 268.90,335.3 270.15,334.2 271.15,332.8 271.90,331.2 272.40,329.7 272.90,327.7 273.15,326.5 273.40,325.0 273.65,323.3 273.90,321.4 274.15,319.1 274.40,316.4 274.65,313.4 274.90,309.9 275.15,305.9 275.40,301.5 275.65,296.5 275.90,291.1 276.15,285.2 276.40,278.9 277.15,259.1 277.40,253.1 277.65,247.9 277.90,243.9 278.15,241.5 278.40,241.7 278.65,249.8 278.90,263.0 279.15,277.0 279.40,289.2 279.65,298.6 279.90,305.2 280.15,309.4 280.40,311.6 280.65,312.4 280.90,312.2 281.15,311.5 281.90,308.1 282.15,307.0 282.40,306.2 282.65,305.7 282.90,305.5 283.65,305.5 283.90,305.4 284.15,305.0 284.40,304.2 284.65,302.6 284.90,298.7 285.15,289.8 285.40,272.7 285.65,247.0 285.90,221.9 286.15,218.3 286.40,239.9 286.65,265.9 286.90,284.1 287.15,293.5 287.40,296.9 287.65,297.5 287.90,296.9 288.15,295.7 288.90,291.8 289.15,290.8 289.40,290.2 289.65,290.0 289.90,290.4 290.40,292.2 291.15,295.4 291.90,299.2 292.90,304.7 294.90,316.4 295.65,320.4 296.40,324.0 297.15,327.1 297.90,329.7 298.65,331.7 299.40,333.1 300.15,333.9 300.65,334.1 301.15,334.0 301.40,333.7 301.65,333.2 301.90,332.4 302.15,331.2 302.40,329.4 302.65,326.9 302.90,323.5 303.15,319.1 303.40,313.3 303.65,306.3 303.90,298.1 304.15,288.9 304.40,279.2 304.65,269.7 304.90,261.4 305.15,255.3 305.40,252.4 305.65,252.6 305.90,253.5 306.15,255.1 306.40,257.3 306.65,260.0 306.90,263.2 307.15,266.8 307.40,270.7 307.90,278.9 308.65,291.3 309.15,299.1 309.40,302.7 309.65,306.1 309.90,309.3 310.15,312.3 310.40,315.0 310.65,317.5 310.90,319.8 311.15,321.9 311.40,323.7 311.65,325.3 311.90,326.7 312.40,329.1 312.90,330.9 313.40,332.3 314.15,333.6 314.90,334.5 316.15,335.3 317.65,335.5 319.15,335.2 320.40,334.5 321.15,333.7 321.90,332.5 322.40,331.4 322.90,329.8 323.40,327.8 323.65,326.5 323.90,325.1 324.15,323.5 324.40,321.8 324.65,319.8 325.15,315.4 325.90,308.2 326.15,306.0 326.40,304.2 326.65,303.0 326.90,302.4 327.15,302.5 327.40,303.0 327.65,303.9 327.90,305.1 328.15,306.6 328.65,310.1 329.65,317.4 330.15,320.7 330.65,323.6 331.15,326.0 331.65,328.1 332.15,329.7 332.90,331.7 333.65,333.1 334.65,334.5 335.65,335.2 336.40,335.5 336.90,335.3 337.40,334.6 337.65,334.0 337.90,333.3 338.15,332.3 338.90,328.6 339.15,327.6 339.40,327.0 339.65,327.0 339.90,327.6 340.15,328.8 340.90,332.9 341.15,334.1 341.40,335.1 341.65,335.9 342.15,337.0 342.90,337.8 344.40,338.4 348.40,339.1 355.40,339.5" fill="none" stroke="#8064a2" stroke-width="0.45" stroke-opacity="0.9"/>
<polyline points="228.40,339.1 234.40,338.9 236.15,338.5 237.40,337.7 238.15,336.8 238.90,335.4 239.40,334.2 239.90,332.6 240.40,330.6 240.90,328.3 241.40,325.4 241.90,321.9 242.40,318.0 242.90,313.4 243.40,308.3 243.90,302.6 244.40,296.5 245.15,286.8 246.65,266.8 246.90,263.1 247.15,258.4 247.40,252.0 247.65,242.7 247.90,229.9 248.15,214.7 248.40,200.0 248.65,189.7 248.90,186.8 249.15,187.1 249.40,189.2 249.65,192.8 249.90,197.7 250.15,203.5 250.40,209.9 250.90,223.4 251.15,229.9 251.40,236.1 251.65,241.8 251.90,247.1 252.15,252.0 252.40,256.6 252.65,260.8 252.90,264.8 253.40,272.3 254.15,282.8 254.90,292.8 255.40,299.1 255.90,304.9 256.40,310.3 256.90,315.1 257.40,319.4 257.90,323.0 258.40,326.1 258.90,328.7 259.40,330.9 259.90,332.6 260.40,333.9 261.15,335.3 261.90,336.2 262.90,336.8 263.65,336.8 264.15,336.4 264.40,336.1 264.65,335.5 264.90,334.7 265.15,333.7 265.65,331.3 265.90,330.4 266.15,330.1 266.40,330.6 267.15,333.6 267.40,334.4 267.65,334.9 267.90,335.3 268.40,335.4 269.40,335.0 270.65,333.9 271.40,332.8 272.15,331.4 272.65,330.0 273.15,328.2 273.40,327.0 273.65,325.7 273.90,324.1 274.15,322.3 274.40,320.1 274.65,317.5 274.90,314.5 275.15,311.1 275.40,307.2 275.65,302.7 275.90,297.7 276.15,292.1 276.40,286.1 276.65,279.6 277.15,265.9 277.40,259.1 277.65,253.0 277.90,247.8 278.15,244.1 278.40,242.2 278.65,244.3 278.90,255.2 279.15,270.4 279.40,285.3 279.65,297.7 279.90,307.1 280.15,313.6 280.40,317.7 280.65,320.0 280.90,321.1 281.15,321.2 281.40,320.8 281.65,319.9 282.15,317.7 282.65,315.3 282.90,314.3 283.15,313.5 283.40,312.9 284.15,312.1 284.40,311.6 284.65,311.0 284.90,309.8 285.15,307.4 285.40,302.1 285.65,290.4 285.90,268.8 286.15,239.3 286.40,218.1 286.65,226.8 286.90,253.8 287.15,277.0 287.40,290.0 287.65,294.8 287.90,295.5 288.15,294.5 288.90,289.4 289.15,288.1 289.40,287.1 289.65,286.8 289.90,287.1 290.40,288.8 290.90,291.0 291.65,294.8 292.40,299.2 293.65,307.3 294.90,315.5 295.65,320.0 296.40,324.0 297.15,327.3 297.90,330.0 298.65,332.1 299.40,333.6 300.15,334.4 300.90,334.8 301.40,334.6 301.65,334.3 301.90,333.9 302.15,333.3 302.40,332.3 302.65,330.9 302.90,328.8 303.15,325.8 303.40,321.8 303.65,316.6 303.90,309.9 304.15,301.9 304.40,292.7 304.90,272.7 305.15,263.5 305.40,256.5 305.65,252.9 305.90,252.8 306.15,253.7 306.40,255.3 306.65,257.6 306.90,260.5 307.15,263.9 307.40,267.7 307.65,271.8 308.65,289.0 309.15,297.2 309.40,301.1 309.65,304.8 309.90,308.2 310.15,311.3 310.40,314.3 310.65,316.9 310.90,319.3 311.15,321.5 311.40,323.4 311.65,325.1 311.90,326.6 312.15,327.9 312.65,330.0 313.15,331.6 313.65,332.7 314.40,333.9 315.40,334.8 316.65,335.3 318.40,335.4 319.90,334.9 320.90,334.2 321.65,333.4 322.40,332.0 322.90,330.7 323.40,328.9 323.65,327.8 323.90,326.6 324.15,325.1 324.40,323.5 324.65,321.7 324.90,319.6 325.15,317.4 325.65,312.4 326.15,307.4 326.40,305.1 326.65,303.3 326.90,302.1 327.15,301.7 327.40,301.9 327.65,302.6 327.90,303.7 328.15,305.2 328.40,306.8 329.65,316.5 330.15,320.0 330.65,323.0 331.15,325.6 331.65,327.7 332.15,329.5 332.90,331.5 333.65,333.0 334.65,334.3 335.65,335.1 336.65,335.5 337.15,335.3 337.65,334.7 337.90,334.2 338.15,333.4 338.40,332.5 338.90,330.0 339.15,328.6 339.40,327.5 339.65,326.8 339.90,326.8 340.15,327.5 340.40,328.7 341.15,333.0 341.40,334.1 341.65,335.1 341.90,335.9 342.40,336.9 343.15,337.6 344.90,338.2 349.40,338.8 355.40,339.1" fill="none" stroke="#e8a33d" stroke-width="0.45" stroke-opacity="0.9"/>
<polyline points="228.40,338.9 232.40,338.7 234.15,338.2 235.40,337.3 236.40,336.1 237.15,334.7 237.90,332.8 238.40,331.1 238.90,329.1 239.40,326.7 239.90,323.9 240.40,320.6 240.90,316.9 241.40,312.7 241.90,308.0 242.40,302.9 242.90,297.5 243.65,288.7 245.15,270.7 246.15,259.4 246.40,256.3 246.65,252.6 246.90,247.4 247.15,240.1 247.40,229.9 247.65,217.2 247.90,203.4 248.15,191.4 248.40,184.1 248.65,182.9 248.90,184.0 249.15,186.5 249.40,190.4 249.65,195.3 249.90,201.1 250.15,207.5 250.90,227.8 251.15,234.3 251.40,240.4 251.65,246.2 251.90,251.5 252.15,256.4 252.40,261.0 252.65,265.2 252.90,269.1 253.15,272.9 253.65,279.8 254.15,286.3 254.65,292.4 255.15,298.1 255.65,303.5 256.15,308.4 256.65,312.9 257.15,317.0 257.65,320.6 258.15,323.7 258.65,326.3 259.15,328.6 259.65,330.4 260.15,331.9 260.90,333.6 261.65,334.7 262.40,335.4 263.15,335.5 263.65,335.1 263.90,334.6 264.15,334.0 264.40,333.1 265.15,330.0 265.40,329.3 265.65,329.3 265.90,329.8 266.65,332.6 266.90,333.3 267.15,333.8 267.40,334.2 267.90,334.4 268.65,334.1 269.65,333.2 270.40,332.1 271.15,330.7 271.65,329.3 272.15,327.6 272.40,326.5 272.65,325.3 272.90,323.8 273.15,322.2 273.40,320.2 273.65,318.0 273.90,315.4 274.15,312.5 274.40,309.2 274.65,305.4 274.90,301.2 275.15,296.6 275.40,291.5 275.65,286.0 275.90,280.1 276.40,267.5 276.65,261.2 276.90,255.2 277.15,249.7 277.40,245.1 277.65,241.7 277.90,239.9 278.15,241.1 278.40,249.7 278.65,262.8 278.90,276.4 279.15,288.4 279.40,297.9 279.65,304.9 279.90,309.6 280.15,312.4 280.40,313.8 280.65,314.3 280.90,314.1 281.15,313.4 282.15,309.7 282.40,309.0 282.65,308.5 283.40,307.6 283.65,307.1 283.90,306.2 284.15,304.6 284.40,301.0 284.65,293.3 284.90,278.6 285.15,255.7 285.40,229.7 285.65,216.5 285.90,229.0 286.15,254.0 286.40,275.7 286.65,289.0 286.90,295.2 287.15,297.2 287.40,297.1 287.65,296.0 287.90,294.5 288.65,289.5 288.90,288.0 289.15,286.9 289.40,286.2 289.65,286.0 289.90,286.3 290.40,288.0 291.15,291.0 291.90,294.6 292.65,298.7 295.15,313.5 296.15,319.0 296.90,322.6 297.65,325.6 298.40,328.2 299.15,330.1 299.90,331.4 300.40,331.9 300.90,332.0 301.15,331.8 301.40,331.4 301.65,330.7 301.90,329.6 302.15,328.0 302.40,325.8 302.65,322.7 302.90,318.6 303.15,313.5 303.40,307.2 303.65,299.9 303.90,291.6 304.40,273.7 304.65,265.3 304.90,258.4 305.15,254.0 305.40,252.8 305.65,253.2 305.90,254.3 306.15,255.9 306.40,258.1 306.65,260.7 306.90,263.8 307.15,267.1 307.40,270.7 307.90,278.3 308.65,290.0 309.15,297.3 309.40,300.8 309.65,304.1 309.90,307.2 310.15,310.1 310.40,312.8 310.65,315.3 310.90,317.6 311.15,319.7 311.40,321.5 311.65,323.2 311.90,324.7 312.40,327.3 312.90,329.2 313.40,330.7 314.15,332.3 314.90,333.3 315.90,334.0 317.15,334.4 318.65,334.2 319.90,333.5 320.65,332.7 321.40,331.6 321.90,330.4 322.40,329.0 322.90,327.1 323.40,324.6 323.65,323.2 323.90,321.5 324.15,319.7 324.65,315.7 325.65,306.6 325.90,304.6 326.15,303.1 326.40,302.0 326.65,301.5 326.90,301.6 327.15,302.2 327.40,303.0 327.65,304.2 327.90,305.6 328.40,308.8 329.40,315.8 329.90,319.1 330.40,321.9 330.90,324.4 331.40,326.5 332.15,329.0 332.90,330.9 333.65,332.3 334.65,333.6 335.65,334.3 336.40,334.4 336.90,334.1 337.15,333.7 337.40,333.1 337.65,332.4 337.90,331.5 338.40,329.2 338.90,327.0 339.15,326.2 339.40,326.0 339.65,326.4 339.90,327.2 340.40,329.8 340.90,332.4 341.15,333.5 341.40,334.5 341.65,335.2 342.15,336.2 342.90,337.0 344.40,337.7 348.15,338.4 355.40,338.9" fill="none" stroke="#4fb0a0" stroke-width="0.45" stroke-opacity="0.9"/>
<polyline points="228.40,339.3 233.65,339.2 235.40,338.7 236.65,337.8 237.40,336.9 238.15,335.5 238.90,333.6 239.40,331.9 239.90,329.7 240.40,327.2 240.90,324.1 241.40,320.5 241.90,316.4 242.40,311.8 242.90,306.6 243.40,300.9 243.90,294.9 244.90,282.1 245.65,272.5 246.40,263.2 246.65,259.8 246.90,255.7 247.15,250.0 247.40,241.7 247.65,230.1 247.90,215.7 248.15,200.9 248.40,189.5 248.65,185.0 248.90,185.3 249.15,187.2 249.40,190.8 249.65,195.7 249.90,201.7 250.15,208.3 250.90,229.5 251.15,236.2 251.40,242.5 251.65,248.4 251.90,253.7 252.15,258.7 252.40,263.2 252.65,267.5 252.90,271.4 253.40,278.9 253.90,285.8 254.40,292.3 254.90,298.5 255.40,304.3 255.90,309.6 256.40,314.4 256.90,318.6 257.40,322.4 257.90,325.6 258.40,328.2 258.90,330.4 259.40,332.2 259.90,333.7 260.65,335.2 261.40,336.2 262.15,336.8 262.90,337.0 263.65,336.8 263.90,336.5 264.15,336.0 264.40,335.4 264.65,334.5 265.40,331.1 265.65,330.5 265.90,330.5 266.15,331.2 266.65,333.3 266.90,334.2 267.15,334.9 267.40,335.4 267.90,335.8 268.65,335.6 269.90,334.8 270.90,333.6 271.65,332.3 272.15,331.1 272.65,329.5 272.90,328.5 273.15,327.3 273.40,326.0 273.65,324.4 273.90,322.5 274.15,320.3 274.40,317.8 274.65,314.9 274.90,311.6 275.15,307.8 275.40,303.5 275.65,298.7 275.90,293.5 276.15,287.8 276.40,281.9 276.90,269.5 277.15,263.6 277.40,258.3 277.65,254.0 277.90,251.1 278.15,249.8 278.40,253.5 278.65,264.6 278.90,278.6 279.15,291.9 279.40,302.9 279.65,311.3 279.90,317.1 280.15,321.0 280.40,323.3 280.65,324.5 280.90,324.9 281.15,324.9 281.40,324.5 281.90,323.1 282.90,319.9 283.40,318.7 283.90,317.7 284.15,316.8 284.40,315.1 284.65,311.6 284.90,303.7 285.15,287.9 285.40,262.6 285.65,235.1 285.90,226.7 286.15,246.5 286.40,273.5 286.65,292.9 286.90,302.8 287.15,306.4 287.40,306.7 287.65,305.8 287.90,304.2 288.40,300.1 288.65,298.1 288.90,296.2 289.15,294.6 289.40,293.4 289.65,292.8 289.90,292.7 290.40,293.9 290.90,295.5 291.40,297.4 292.15,300.9 292.90,304.9 295.15,317.9 295.90,321.8 296.65,325.3 297.40,328.3 298.15,330.7 298.90,332.5 299.65,333.7 300.40,334.4 300.90,334.5 301.40,334.1 301.65,333.8 301.90,333.2 302.15,332.2 302.40,330.8 302.65,328.8 302.90,326.0 303.15,322.2 303.40,317.2 303.65,310.8 303.90,303.1 304.15,294.3 304.40,284.6 304.65,274.7 304.90,265.4 305.15,257.9 305.40,253.4 305.65,252.5 305.90,253.1 306.15,254.5 306.40,256.5 306.65,259.1 306.90,262.3 307.15,265.8 307.40,269.7 307.90,278.0 308.65,290.7 309.15,298.7 309.40,302.4 309.65,305.9 309.90,309.2 310.15,312.2 310.40,315.0 310.65,317.6 310.90,319.9 311.15,321.9 311.40,323.8 311.65,325.4 311.90,326.9 312.15,328.1 312.65,330.2 313.15,331.7 313.65,332.9 314.40,334.0 315.40,334.9 316.65,335.4 318.40,335.5 319.90,335.0 320.90,334.2 321.65,333.3 322.40,331.8 322.90,330.4 323.40,328.5 323.65,327.4 323.90,326.1 324.15,324.6 324.40,322.9 324.65,321.0 324.90,319.0 325.40,314.3 325.90,309.3 326.15,307.0 326.40,304.9 326.65,303.3 326.90,302.4 327.15,302.2 327.40,302.5 327.65,303.3 327.90,304.4 328.15,305.8 328.65,309.3 329.65,316.9 330.15,320.3 330.65,323.2 331.15,325.7 331.65,327.8 332.15,329.6 332.90,331.6 333.65,333.0 334.65,334.4 335.65,335.2 336.40,335.5 336.90,335.4 337.40,334.9 337.65,334.4 337.90,333.7 338.15,332.8 338.40,331.7 339.15,327.9 339.40,327.0 339.65,326.7 339.90,327.1 340.15,328.0 340.90,332.3 341.15,333.6 341.40,334.7 341.65,335.5 341.90,336.2 342.40,337.1 343.15,337.8 344.90,338.4 349.40,339.0 355.40,339.3" fill="none" stroke="#4bacc6" stroke-width="0.45" stroke-opacity="0.9"/>
<polyline points="228.40,339.3 233.40,339.1 235.15,338.6 236.15,338.0 236.90,337.1 237.65,335.9 238.40,334.1 238.90,332.5 239.40,330.5 239.90,328.1 240.40,325.3 240.90,321.9 241.40,318.1 241.90,313.7 242.40,308.7 242.90,303.3 243.40,297.5 244.15,288.2 245.90,265.8 246.15,262.2 246.40,257.6 246.65,251.1 246.90,241.8 247.15,229.2 247.40,214.3 247.65,199.7 247.90,189.3 248.15,186.0 248.40,186.2 248.65,188.1 248.90,191.5 249.15,196.2 249.40,201.9 249.65,208.2 250.40,228.2 250.65,234.6 250.90,240.5 251.15,246.0 251.40,251.0 251.65,255.7 251.90,260.0 252.15,264.0 252.40,267.9 252.90,275.0 253.65,285.2 254.40,294.7 254.90,300.6 255.40,306.2 255.90,311.2 256.40,315.8 256.90,319.9 257.40,323.4 257.90,326.4 258.40,328.9 258.90,330.9 259.40,332.6 260.15,334.4 260.90,335.7 261.65,336.4 262.40,336.7 262.90,336.7 263.40,336.3 263.65,335.9 263.90,335.2 264.15,334.4 264.90,331.0 265.15,330.4 265.40,330.4 265.65,331.0 266.40,334.0 266.65,334.7 266.90,335.2 267.40,335.6 268.15,335.5 269.40,334.7 270.40,333.5 271.15,332.2 271.65,331.1 272.15,329.6 272.65,327.6 272.90,326.4 273.15,324.9 273.40,323.2 273.65,321.2 273.90,318.9 274.15,316.2 274.40,313.0 274.65,309.5 274.90,305.4 275.15,300.9 275.40,295.8 275.65,290.3 275.90,284.3 276.15,278.0 276.65,264.9 276.90,258.6 277.15,253.0 277.40,248.3 277.65,245.1 277.90,243.6 278.15,246.9 278.40,258.1 278.65,272.4 278.90,286.2 279.15,297.6 279.40,306.2 279.65,312.1 279.90,315.8 280.15,317.8 280.40,318.6 280.65,318.7 280.90,318.2 281.40,316.4 281.90,314.4 282.15,313.6 282.40,313.0 282.65,312.6 283.40,312.1 283.65,311.9 283.90,311.4 284.15,310.5 284.40,308.9 284.65,305.5 284.90,297.6 285.15,281.9 285.40,256.9 285.65,229.5 285.90,220.1 286.15,238.5 286.40,265.0 286.65,284.4 286.90,294.4 287.15,298.0 287.40,298.4 287.65,297.5 288.40,293.0 288.65,291.8 288.90,290.9 289.15,290.5 289.40,290.6 289.90,292.2 290.65,295.1 291.40,298.7 292.15,302.7 294.65,317.3 295.40,321.3 296.15,324.9 296.90,327.9 297.65,330.3 298.40,332.2 299.15,333.4 299.90,334.1 300.40,334.2 300.90,333.8 301.15,333.3 301.40,332.6 301.65,331.5 301.90,329.9 302.15,327.7 302.40,324.5 302.65,320.2 302.90,314.8 303.15,308.0 303.40,300.0 303.65,290.9 304.15,271.6 304.40,263.0 304.65,256.6 304.90,253.3 305.15,253.3 305.40,254.2 305.65,255.7 305.90,257.9 306.15,260.6 306.40,263.8 306.65,267.4 306.90,271.3 307.40,279.5 308.15,291.9 308.40,295.9 308.65,299.7 308.90,303.3 309.15,306.8 309.40,309.9 309.65,312.9 309.90,315.6 310.15,318.0 310.40,320.3 310.65,322.3 310.90,324.1 311.15,325.7 311.40,327.1 311.90,329.4 312.40,331.1 312.90,332.4 313.65,333.7 314.40,334.5 315.65,335.3 317.15,335.5 318.65,335.3 319.90,334.6 320.90,333.6 321.65,332.3 322.15,331.1 322.65,329.4 323.15,327.3 323.40,326.0 323.65,324.5 323.90,322.8 324.15,320.9 324.40,318.9 324.90,314.3 325.40,309.3 325.65,307.0 325.90,304.9 326.15,303.3 326.40,302.3 326.65,302.1 326.90,302.4 327.15,303.1 327.40,304.2 327.65,305.6 328.15,309.0 329.15,316.5 329.65,319.9 330.15,322.9 330.65,325.4 331.15,327.6 331.65,329.3 332.40,331.4 333.15,332.9 334.15,334.3 335.15,335.1 336.15,335.5 336.65,335.4 337.15,334.8 337.40,334.3 337.65,333.5 337.90,332.6 338.40,330.2 338.90,327.7 339.15,327.0 339.40,326.8 339.65,327.3 339.90,328.4 340.65,332.6 340.90,333.8 341.15,334.8 341.40,335.7 341.90,336.8 342.40,337.4 343.40,338.0 346.15,338.7 353.15,339.3 355.40,339.4" fill="none" stroke="#6fa8dc" stroke-width="0.45" stroke-opacity="0.9"/>
<polyline points="228.40,339.6 233.65,339.4 235.40,339.0 236.65,338.2 237.65,337.0 238.40,335.6 239.15,333.6 239.65,331.9 240.15,329.8 240.65,327.3 241.15,324.3 241.65,320.9 242.15,316.9 242.65,312.5 243.15,307.5 243.65,302.1 244.15,296.4 244.90,287.2 246.40,268.5 246.65,265.2 246.90,261.5 247.15,256.7 247.40,249.9 247.65,240.3 247.90,227.7 248.15,212.9 248.40,198.7 248.65,188.6 248.90,185.3 249.15,185.4 249.40,187.1 249.65,190.3 249.90,194.7 250.15,200.1 250.40,206.2 251.15,225.7 251.40,232.0 251.65,237.9 251.90,243.4 252.15,248.4 252.40,253.1 252.65,257.5 252.90,261.5 253.15,265.4 253.65,272.5 254.40,282.5 255.15,292.0 255.65,298.0 256.15,303.6 256.65,308.8 257.15,313.5 257.65,317.8 258.15,321.5 258.65,324.8 259.15,327.5 259.65,329.8 260.15,331.7 260.65,333.2 261.40,334.9 262.15,336.1 262.90,336.7 263.65,336.9 264.15,336.7 264.40,336.4 264.65,335.9 264.90,335.2 265.15,334.3 265.65,332.1 265.90,331.2 266.15,330.7 266.40,331.0 266.65,331.7 267.15,333.7 267.40,334.6 267.65,335.3 267.90,335.7 268.40,336.1 269.15,336.1 270.40,335.3 271.40,334.2 272.15,333.1 272.90,331.4 273.40,329.9 273.90,327.8 274.15,326.4 274.40,324.9 274.65,323.1 274.90,321.1 275.15,318.7 275.40,315.9 275.65,312.8 275.90,309.3 276.15,305.4 276.40,301.0 276.65,296.2 276.90,291.0 277.15,285.6 277.65,274.2 277.90,268.6 278.15,263.5 278.40,259.2 278.65,255.9 278.90,253.9 279.15,254.6 279.40,262.1 279.65,273.4 279.90,285.1 280.15,295.2 280.40,302.8 280.65,308.2 280.90,311.4 281.15,313.0 281.40,313.4 281.65,313.1 281.90,312.3 282.65,309.0 282.90,308.0 283.15,307.3 283.40,306.8 284.15,306.2 284.40,305.7 284.65,304.9 284.90,303.3 285.15,299.6 285.40,291.4 285.65,275.5 285.90,250.7 286.15,224.0 286.40,214.8 286.65,232.8 286.90,259.4 287.15,279.9 287.40,291.3 287.65,296.0 287.90,297.2 288.15,296.9 288.40,295.9 289.15,291.9 289.40,290.7 289.65,290.0 289.90,289.6 290.15,289.7 290.40,290.3 291.15,293.3 291.90,296.7 292.65,300.7 294.15,309.3 295.40,316.5 296.15,320.5 296.90,324.0 297.65,327.1 298.40,329.6 299.15,331.5 299.90,332.8 300.65,333.5 301.15,333.4 301.40,333.2 301.65,332.8 301.90,332.1 302.15,331.0 302.40,329.3 302.65,327.0 302.90,323.8 303.15,319.6 303.40,314.2 303.65,307.5 303.90,299.6 304.15,290.8 304.65,271.9 304.90,263.4 305.15,256.7 305.40,253.1 305.65,252.7 305.90,253.4 306.15,254.8 306.40,256.8 306.65,259.3 306.90,262.3 307.15,265.7 307.40,269.4 307.90,277.4 308.65,289.7 309.15,297.4 309.40,301.1 309.65,304.6 309.90,307.8 310.15,310.9 310.40,313.7 310.65,316.3 310.90,318.7 311.15,320.8 311.40,322.7 311.65,324.4 311.90,326.0 312.15,327.3 312.65,329.6 313.15,331.3 313.65,332.5 314.40,333.9 315.15,334.7 316.40,335.4 317.90,335.7 319.40,335.5 320.65,334.9 321.65,334.0 322.40,332.9 322.90,331.9 323.40,330.5 323.90,328.6 324.40,326.2 324.65,324.8 324.90,323.2 325.15,321.4 325.40,319.4 325.90,315.0 326.65,307.8 326.90,305.7 327.15,304.0 327.40,302.8 327.65,302.2 327.90,302.4 328.15,302.9 328.40,303.8 328.65,305.0 328.90,306.5 329.40,309.9 330.40,317.2 330.90,320.5 331.40,323.3 331.90,325.8 332.40,327.9 332.90,329.6 333.65,331.6 334.40,333.0 335.40,334.4 336.40,335.2 337.15,335.4 337.65,335.1 337.90,334.8 338.15,334.4 338.40,333.7 338.65,332.9 339.15,330.6 339.65,328.2 339.90,327.3 340.15,326.9 340.40,327.2 340.65,328.0 340.90,329.2 341.65,333.3 341.90,334.4 342.15,335.3 342.40,336.1 342.90,337.1 343.65,337.8 345.15,338.5 349.15,339.1 355.40,339.6" fill="none" stroke="#5b86cc" stroke-width="0.45" stroke-opacity="0.9"/>
</g>
<g style="filter:grayscale(1)">
<text x="248.75" y="217.0" font-size="6.7" font-weight="normal" letter-spacing="0.35" stroke="#1a1a1a" stroke-width="0.45" text-anchor="middle" fill="#1a1a1a">O12<tspan font-size="5.7" dy="-0.3" stroke-width="0.6">+</tspan><tspan dy="0.3"></tspan></text>
<text x="248.75" y="226.25" font-size="6.7" font-weight="normal" letter-spacing="0.35" stroke="#1a1a1a" stroke-width="0.45" text-anchor="middle" fill="#1a1a1a">V9</text>
<text x="284" y="223.9" font-size="6.7" font-weight="normal" letter-spacing="0.35" stroke="#1a1a1a" stroke-width="0.45" text-anchor="middle" fill="#1a1a1a">S13<tspan font-size="5.7" dy="-0.3" stroke-width="0.6">+</tspan><tspan dy="0.3"></tspan>S14<tspan font-size="5.7" dy="-0.3" stroke-width="0.6">+</tspan><tspan dy="0.3"></tspan></text>
<text x="284" y="232.9" font-size="6.7" font-weight="normal" letter-spacing="0.35" stroke="#1a1a1a" stroke-width="0.45" text-anchor="middle" fill="#1a1a1a">S11<tspan font-size="5.7" dy="-0.3" stroke-width="0.6">+</tspan><tspan dy="0.3"></tspan>S10<tspan font-size="5.7" dy="-0.3" stroke-width="0.6">+</tspan><tspan dy="0.3"></tspan></text>
<text x="284" y="242.3" font-size="6.7" font-weight="normal" letter-spacing="0.35" stroke="#1a1a1a" stroke-width="0.45" text-anchor="middle" fill="#1a1a1a">O7<tspan font-size="5.7" dy="-0.3" stroke-width="0.6">+</tspan><tspan dy="0.3"></tspan>P12<tspan font-size="5.7" dy="-0.3" stroke-width="0.6">+</tspan><tspan dy="0.3"></tspan></text>
<text x="285" y="251.3" font-size="6.7" font-weight="normal" letter-spacing="0.35" stroke="#1a1a1a" stroke-width="0.45" text-anchor="middle" fill="#1a1a1a">P11<tspan font-size="5.7" dy="-0.3" stroke-width="0.6">+</tspan><tspan dy="0.3"></tspan>P10</text>
<text x="307.2" y="251.1" font-size="6.7" font-weight="normal" letter-spacing="0.35" stroke="#1a1a1a" stroke-width="0.45" text-anchor="middle" fill="#1a1a1a">P8<tspan font-size="5.7" dy="-0.3" stroke-width="0.6">+</tspan><tspan dy="0.3"></tspan></text>
<text x="305.8" y="260.3" font-size="6.7" font-weight="normal" letter-spacing="0.35" stroke="#1a1a1a" stroke-width="0.45" text-anchor="middle" fill="#1a1a1a">P9<tspan font-size="5.7" dy="-0.3" stroke-width="0.6">+</tspan><tspan dy="0.3"></tspan></text>
<text x="305.8" y="269.8" font-size="6.7" font-weight="normal" letter-spacing="0.35" stroke="#1a1a1a" stroke-width="0.45" text-anchor="middle" fill="#1a1a1a">S7<tspan font-size="5.7" dy="-0.3" stroke-width="0.6">+</tspan><tspan dy="0.3"></tspan></text>
<text x="305.8" y="279.3" font-size="6.7" font-weight="normal" letter-spacing="0.35" stroke="#1a1a1a" stroke-width="0.45" text-anchor="middle" fill="#1a1a1a">S8<tspan font-size="5.7" dy="-0.3" stroke-width="0.6">+</tspan><tspan dy="0.3"></tspan></text>
<text x="305.8" y="288.3" font-size="6.7" font-weight="normal" letter-spacing="0.35" stroke="#1a1a1a" stroke-width="0.45" text-anchor="middle" fill="#1a1a1a">S9</text>
<text x="264.4" y="297.6" font-size="6.7" font-weight="normal" letter-spacing="0.35" stroke="#1a1a1a" stroke-width="0.45" text-anchor="middle" fill="#1a1a1a">S12<tspan font-size="5.7" dy="-0.3" stroke-width="0.6">+</tspan><tspan dy="0.3"></tspan></text>
<text x="265.2" y="307.3" font-size="6.7" font-weight="normal" letter-spacing="0.35" stroke="#1a1a1a" stroke-width="0.45" text-anchor="middle" fill="#1a1a1a">V14</text>
<text x="327.2" y="282.7" font-size="6.7" font-weight="normal" letter-spacing="0.35" stroke="#1a1a1a" stroke-width="0.45" text-anchor="middle" fill="#1a1a1a">Pi7<tspan font-size="5.7" dy="-0.3" stroke-width="0.6">+</tspan><tspan dy="0.3"></tspan></text>
<text x="327.2" y="292.4" font-size="6.7" font-weight="normal" letter-spacing="0.35" stroke="#1a1a1a" stroke-width="0.45" text-anchor="middle" fill="#1a1a1a">Pe7<tspan font-size="5.7" dy="-0.3" stroke-width="0.6">+</tspan><tspan dy="0.3"></tspan></text>
<text x="327.2" y="301.5" font-size="6.7" font-weight="normal" letter-spacing="0.35" stroke="#1a1a1a" stroke-width="0.45" text-anchor="middle" fill="#1a1a1a">Li7</text>
<text x="341.8" y="300.2" font-size="6.7" font-weight="normal" letter-spacing="0.35" stroke="#1a1a1a" stroke-width="0.45" text-anchor="middle" fill="#1a1a1a">Le7</text>
<line x1="260.5" y1="310.8" x2="260.5" y2="343" stroke="#3a3a3a" stroke-width="1.2"/>
<line x1="270.9" y1="308.2" x2="270.9" y2="343" stroke="#3a3a3a" stroke-width="1.2"/>
<line x1="297.9" y1="292" x2="297.9" y2="343" stroke="#3a3a3a" stroke-width="1.2"/>
<line x1="316.7" y1="290" x2="316.7" y2="343" stroke="#3a3a3a" stroke-width="1.2"/>
<line x1="334.6" y1="291.2" x2="334.6" y2="343" stroke="#3a3a3a" stroke-width="1.2"/>
</g>
<g style="filter:grayscale(1)">
<line x1="364.5" y1="178" x2="364.5" y2="348.1" stroke="#c0c0c0" stroke-width="0.8"/>
<line x1="364.5" y1="348.1" x2="454.5" y2="348.1" stroke="#c0c0c0" stroke-width="0.8"/>
<line x1="364.5" y1="178" x2="454.5" y2="178" stroke="#c0c0c0" stroke-width="0.8"/>
<line x1="454.5" y1="178" x2="454.5" y2="348.1" stroke="#c0c0c0" stroke-width="0.8"/>
<line x1="364.5" y1="183.0" x2="366.5" y2="183.0" stroke="#c0c0c0" stroke-width="0.6"/>
<line x1="452.5" y1="183.0" x2="454.5" y2="183.0" stroke="#c0c0c0" stroke-width="0.6"/>
<text x="363.2" y="184.3" font-size="3.8" text-anchor="end" fill="#333">0.5</text>
<line x1="364.5" y1="198.87" x2="366.5" y2="198.87" stroke="#c0c0c0" stroke-width="0.6"/>
<line x1="452.5" y1="198.87" x2="454.5" y2="198.87" stroke="#c0c0c0" stroke-width="0.6"/>
<text x="363.2" y="200.17000000000002" font-size="3.8" text-anchor="end" fill="#333">0.45</text>
<line x1="364.5" y1="214.74" x2="366.5" y2="214.74" stroke="#c0c0c0" stroke-width="0.6"/>
<line x1="452.5" y1="214.74" x2="454.5" y2="214.74" stroke="#c0c0c0" stroke-width="0.6"/>
<text x="363.2" y="216.04000000000002" font-size="3.8" text-anchor="end" fill="#333">0.4</text>
<line x1="364.5" y1="230.61" x2="366.5" y2="230.61" stroke="#c0c0c0" stroke-width="0.6"/>
<line x1="452.5" y1="230.61" x2="454.5" y2="230.61" stroke="#c0c0c0" stroke-width="0.6"/>
<text x="363.2" y="231.91000000000003" font-size="3.8" text-anchor="end" fill="#333">0.35</text>
<line x1="364.5" y1="246.48" x2="366.5" y2="246.48" stroke="#c0c0c0" stroke-width="0.6"/>
<line x1="452.5" y1="246.48" x2="454.5" y2="246.48" stroke="#c0c0c0" stroke-width="0.6"/>
<text x="363.2" y="247.78" font-size="3.8" text-anchor="end" fill="#333">0.3</text>
<line x1="364.5" y1="262.35" x2="366.5" y2="262.35" stroke="#c0c0c0" stroke-width="0.6"/>
<line x1="452.5" y1="262.35" x2="454.5" y2="262.35" stroke="#c0c0c0" stroke-width="0.6"/>
<text x="363.2" y="263.65000000000003" font-size="3.8" text-anchor="end" fill="#333">0.25</text>
<line x1="364.5" y1="278.22" x2="366.5" y2="278.22" stroke="#c0c0c0" stroke-width="0.6"/>
<line x1="452.5" y1="278.22" x2="454.5" y2="278.22" stroke="#c0c0c0" stroke-width="0.6"/>
<text x="363.2" y="279.52000000000004" font-size="3.8" text-anchor="end" fill="#333">0.2</text>
<line x1="364.5" y1="294.09" x2="366.5" y2="294.09" stroke="#c0c0c0" stroke-width="0.6"/>
<line x1="452.5" y1="294.09" x2="454.5" y2="294.09" stroke="#c0c0c0" stroke-width="0.6"/>
<text x="363.2" y="295.39" font-size="3.8" text-anchor="end" fill="#333">0.15</text>
<line x1="364.5" y1="309.96" x2="366.5" y2="309.96" stroke="#c0c0c0" stroke-width="0.6"/>
<line x1="452.5" y1="309.96" x2="454.5" y2="309.96" stroke="#c0c0c0" stroke-width="0.6"/>
<text x="363.2" y="311.26" font-size="3.8" text-anchor="end" fill="#333">0.1</text>
<line x1="364.5" y1="325.83" x2="366.5" y2="325.83" stroke="#c0c0c0" stroke-width="0.6"/>
<line x1="452.5" y1="325.83" x2="454.5" y2="325.83" stroke="#c0c0c0" stroke-width="0.6"/>
<text x="363.2" y="327.13" font-size="3.8" text-anchor="end" fill="#333">0.05</text>
<line x1="364.5" y1="341.7" x2="366.5" y2="341.7" stroke="#c0c0c0" stroke-width="0.6"/>
<line x1="452.5" y1="341.7" x2="454.5" y2="341.7" stroke="#c0c0c0" stroke-width="0.6"/>
<text x="363.2" y="343.0" font-size="3.8" text-anchor="end" fill="#333">0</text>
<line x1="365.5" y1="348.1" x2="365.5" y2="346.1" stroke="#c0c0c0" stroke-width="0.6"/>
<line x1="365.5" y1="178" x2="365.5" y2="180" stroke="#c0c0c0" stroke-width="0.6"/>
<text x="365.5" y="353.1" font-size="3.8" text-anchor="middle" fill="#333">29.6</text>
<line x1="377.5" y1="348.1" x2="377.5" y2="346.1" stroke="#c0c0c0" stroke-width="0.6"/>
<line x1="377.5" y1="178" x2="377.5" y2="180" stroke="#c0c0c0" stroke-width="0.6"/>
<text x="377.5" y="353.1" font-size="3.8" text-anchor="middle" fill="#333">29.58</text>
<line x1="389.9" y1="348.1" x2="389.9" y2="346.1" stroke="#c0c0c0" stroke-width="0.6"/>
<line x1="389.9" y1="178" x2="389.9" y2="180" stroke="#c0c0c0" stroke-width="0.6"/>
<text x="389.9" y="353.1" font-size="3.8" text-anchor="middle" fill="#333">29.56</text>
<line x1="401.8" y1="348.1" x2="401.8" y2="346.1" stroke="#c0c0c0" stroke-width="0.6"/>
<line x1="401.8" y1="178" x2="401.8" y2="180" stroke="#c0c0c0" stroke-width="0.6"/>
<text x="401.8" y="353.1" font-size="3.8" text-anchor="middle" fill="#333">29.54</text>
<line x1="414.2" y1="348.1" x2="414.2" y2="346.1" stroke="#c0c0c0" stroke-width="0.6"/>
<line x1="414.2" y1="178" x2="414.2" y2="180" stroke="#c0c0c0" stroke-width="0.6"/>
<text x="414.2" y="353.1" font-size="3.8" text-anchor="middle" fill="#333">29.52</text>
<line x1="426.6" y1="348.1" x2="426.6" y2="346.1" stroke="#c0c0c0" stroke-width="0.6"/>
<line x1="426.6" y1="178" x2="426.6" y2="180" stroke="#c0c0c0" stroke-width="0.6"/>
<text x="426.6" y="353.1" font-size="3.8" text-anchor="middle" fill="#333">29.5</text>
<line x1="439" y1="348.1" x2="439" y2="346.1" stroke="#c0c0c0" stroke-width="0.6"/>
<line x1="439" y1="178" x2="439" y2="180" stroke="#c0c0c0" stroke-width="0.6"/>
<text x="439" y="353.1" font-size="3.8" text-anchor="middle" fill="#333">29.48</text>
<line x1="451.4" y1="348.1" x2="451.4" y2="346.1" stroke="#c0c0c0" stroke-width="0.6"/>
<line x1="451.4" y1="178" x2="451.4" y2="180" stroke="#c0c0c0" stroke-width="0.6"/>
<text x="451.4" y="353.1" font-size="3.8" text-anchor="middle" fill="#333">29.46</text>
</g>
<g clip-path="url(#c7)">
<polyline points="364.50,339.4 370.50,338.7 374.00,337.9 376.25,336.8 377.75,335.7 379.00,334.2 379.75,332.9 380.50,331.1 381.00,329.4 381.25,328.3 381.50,326.9 381.75,325.3 382.00,323.4 382.25,321.0 382.50,318.1 382.75,314.5 383.00,310.1 383.25,304.8 383.50,298.6 383.75,291.2 384.00,282.7 384.25,273.0 384.50,262.2 384.75,250.4 385.00,237.9 385.25,225.1 385.50,212.6 385.75,201.1 386.00,191.5 386.25,184.8 386.50,181.9 386.75,183.0 387.00,188.0 387.25,196.4 387.50,207.1 387.75,219.2 388.25,244.7 388.50,256.8 388.75,268.1 389.00,278.3 389.25,287.4 389.50,295.3 389.75,302.0 390.00,307.7 390.25,312.5 390.50,316.4 390.75,319.7 391.00,322.3 391.25,324.4 391.50,326.2 391.75,327.6 392.00,328.8 392.50,330.7 393.00,332.0 393.75,333.5 394.75,334.9 396.00,336.1 397.75,337.1 400.25,338.0 401.50,338.0 402.00,337.7 402.50,337.1 403.75,334.5 404.00,334.2 404.25,334.1 404.50,334.2 405.00,335.0 406.00,337.2 406.50,337.9 407.25,338.3 408.75,338.2 410.75,337.5 412.25,336.6 413.25,335.4 414.00,334.1 414.50,332.9 415.00,331.2 415.25,330.1 415.50,328.9 415.75,327.5 416.00,325.8 416.25,323.9 416.50,321.7 416.75,319.2 417.00,316.5 417.50,310.6 417.75,307.8 418.00,305.5 418.25,303.8 418.50,303.2 418.75,303.7 419.00,305.2 419.25,307.6 419.50,310.3 420.00,316.2 420.25,319.0 420.50,321.5 420.75,323.7 421.00,325.7 421.25,327.4 421.50,328.9 421.75,330.1 422.25,332.2 422.75,333.7 423.50,335.3 424.25,336.3 425.50,337.5 427.25,338.4 430.25,339.2 432.50,339.4 433.00,339.2 433.25,338.9 433.50,338.3 434.00,336.9 434.25,336.6 434.50,336.7 435.25,338.4 435.50,338.6 436.00,338.6 437.25,337.5 439.25,335.4 440.25,334.9 441.00,334.9 442.00,335.4 445.00,338.7 446.25,339.5 448.00,340.0 454.25,340.2" fill="none" stroke="#c0504d" stroke-width="0.45" stroke-opacity="0.9"/>
<polyline points="364.50,339.2 370.00,338.5 373.25,337.6 375.50,336.6 377.00,335.5 378.25,334.0 379.00,332.8 379.75,331.2 380.25,329.6 380.50,328.7 380.75,327.6 381.00,326.2 381.25,324.6 381.50,322.7 381.75,320.4 382.00,317.6 382.25,314.2 382.50,310.1 382.75,305.3 383.00,299.7 383.25,293.1 383.50,285.6 383.75,277.1 384.00,267.6 384.25,257.3 384.50,246.3 385.00,223.3 385.25,212.1 385.50,201.9 385.75,193.4 386.00,187.4 386.25,184.5 386.50,185.0 386.75,188.9 387.00,195.6 387.25,204.7 387.50,215.2 387.75,226.6 388.00,238.2 388.25,249.5 388.50,260.4 388.75,270.4 389.00,279.6 389.25,287.8 389.50,295.1 389.75,301.3 390.00,306.7 390.25,311.3 390.50,315.2 390.75,318.4 391.00,321.0 391.25,323.2 391.50,325.0 391.75,326.6 392.00,327.8 392.50,329.8 393.00,331.3 393.75,332.8 394.75,334.3 396.00,335.6 397.75,336.7 400.00,337.5 401.00,337.5 401.75,337.0 402.50,335.8 403.25,334.3 403.75,333.8 404.00,333.8 404.50,334.3 405.75,336.7 406.25,337.4 407.00,337.8 408.25,337.8 410.25,337.1 411.50,336.3 412.50,335.2 413.25,334.0 413.75,332.9 414.25,331.4 414.75,329.4 415.00,328.2 415.25,326.8 415.50,325.2 415.75,323.4 416.00,321.4 416.25,319.1 416.75,314.0 417.25,308.8 417.50,306.6 417.75,305.0 418.00,304.2 418.25,304.3 418.50,305.2 418.75,307.0 419.00,309.2 419.75,317.1 420.00,319.5 420.25,321.8 420.50,323.8 420.75,325.6 421.00,327.2 421.25,328.6 421.75,330.8 422.25,332.5 422.75,333.8 423.50,335.2 424.50,336.5 426.00,337.6 428.25,338.5 431.50,339.2 432.75,339.2 433.25,338.8 433.50,338.3 434.00,336.9 434.25,336.4 434.50,336.3 434.75,336.5 435.25,337.6 435.50,338.0 435.75,338.2 436.25,338.2 437.75,336.9 439.50,335.2 440.50,334.7 441.50,334.8 442.50,335.4 445.50,338.5 447.00,339.4 449.00,339.9 454.25,340.1" fill="none" stroke="#f79646" stroke-width="0.45" stroke-opacity="0.9"/>
<polyline points="364.50,338.9 370.25,338.3 373.75,337.4 376.00,336.4 377.50,335.2 378.75,333.7 379.50,332.5 380.25,330.8 380.75,329.2 381.00,328.1 381.25,326.9 381.50,325.5 381.75,323.7 382.00,321.6 382.25,319.1 382.50,316.0 382.75,312.2 383.00,307.7 383.25,302.3 383.50,296.1 383.75,288.8 384.00,280.4 384.25,271.1 384.50,260.8 384.75,249.6 385.00,237.8 385.25,225.8 385.50,214.0 385.75,203.1 386.00,193.8 386.25,187.0 386.50,183.3 386.75,183.2 387.00,186.8 387.25,193.5 387.50,202.7 387.75,213.6 388.00,225.4 388.25,237.4 388.50,249.2 388.75,260.4 389.00,270.7 389.25,280.1 389.50,288.5 389.75,295.8 390.00,302.1 390.25,307.5 390.50,312.0 390.75,315.8 391.00,318.9 391.25,321.5 391.50,323.6 391.75,325.4 392.00,326.8 392.25,328.0 392.75,329.9 393.25,331.3 394.00,332.8 395.00,334.3 396.25,335.5 398.00,336.6 400.25,337.4 401.50,337.4 402.25,337.0 402.75,336.2 403.75,334.2 404.25,333.7 404.50,333.6 404.75,333.8 405.25,334.5 406.25,336.6 406.75,337.3 407.50,337.7 409.00,337.6 411.00,337.0 412.50,336.0 413.50,334.8 414.25,333.5 414.75,332.3 415.25,330.7 415.75,328.5 416.00,327.1 416.25,325.6 416.50,323.8 416.75,321.7 417.00,319.5 417.25,317.0 418.00,308.7 418.25,306.3 418.50,304.4 418.75,303.2 419.00,303.1 419.25,303.9 419.50,305.6 419.75,307.9 420.50,316.2 420.75,318.8 421.00,321.1 421.25,323.3 421.50,325.1 421.75,326.8 422.00,328.2 422.25,329.5 422.75,331.5 423.25,333.0 424.00,334.6 424.75,335.7 426.00,336.9 427.75,337.9 430.50,338.7 432.75,338.9 433.25,338.6 433.50,338.2 434.25,336.3 434.50,336.1 434.75,336.3 435.50,337.9 435.75,338.2 436.25,338.2 437.50,337.2 439.75,334.9 440.75,334.4 441.50,334.4 442.50,334.9 444.25,336.7 445.75,338.2 447.25,339.2 449.25,339.7 454.25,339.8" fill="none" stroke="#d4c84a" stroke-width="0.45" stroke-opacity="0.9"/>
<polyline points="364.50,338.7 370.25,338.0 373.50,337.2 375.75,336.1 377.25,335.0 378.50,333.6 379.25,332.3 380.00,330.6 380.50,329.0 380.75,328.0 381.00,326.8 381.25,325.4 381.50,323.7 381.75,321.6 382.00,319.0 382.25,315.9 382.50,312.2 382.75,307.7 383.00,302.4 383.25,296.2 383.50,288.9 383.75,280.6 384.00,271.3 384.25,261.0 384.50,249.9 384.75,238.1 385.00,226.1 385.25,214.3 385.50,203.4 385.75,194.2 386.00,187.4 386.25,183.8 386.50,183.8 386.75,187.4 387.00,194.2 387.25,203.4 387.50,214.3 387.75,226.1 388.00,238.1 388.25,249.9 388.50,261.0 388.75,271.3 389.00,280.6 389.25,288.9 389.50,296.1 389.75,302.4 390.00,307.7 390.25,312.2 390.50,315.9 390.75,319.0 391.00,321.5 391.25,323.6 391.50,325.3 391.75,326.7 392.00,327.9 392.50,329.8 393.00,331.2 393.75,332.7 394.75,334.1 396.00,335.3 397.75,336.3 400.00,337.1 401.25,337.2 402.00,336.7 402.50,336.0 403.50,334.0 404.00,333.4 404.25,333.4 404.50,333.6 405.00,334.3 406.00,336.4 406.50,337.1 407.25,337.5 408.75,337.4 410.75,336.7 412.00,335.9 413.00,334.8 413.75,333.6 414.25,332.4 414.75,330.9 415.25,328.9 415.50,327.6 415.75,326.2 416.00,324.5 416.25,322.6 416.50,320.5 416.75,318.1 417.25,312.7 417.75,307.2 418.00,305.0 418.25,303.4 418.50,302.7 418.75,303.1 419.00,304.3 419.25,306.4 419.50,308.9 420.25,317.2 420.50,319.7 420.75,322.0 421.00,324.0 421.25,325.7 421.50,327.3 421.75,328.6 422.25,330.8 422.75,332.4 423.50,334.1 424.25,335.3 425.25,336.4 426.75,337.4 429.25,338.2 432.25,338.7 432.75,338.6 433.00,338.3 433.25,337.9 433.75,336.5 434.00,336.0 434.25,335.8 434.50,336.1 435.00,337.3 435.25,337.7 435.50,337.9 436.00,337.9 437.25,336.8 439.25,334.8 440.25,334.2 441.00,334.1 442.00,334.5 443.50,336.0 445.25,337.9 446.50,338.8 448.25,339.3 452.75,339.6 454.25,339.6" fill="none" stroke="#9bbb59" stroke-width="0.45" stroke-opacity="0.9"/>
<polyline points="364.50,338.7 370.25,338.0 373.75,337.1 376.00,336.0 377.50,334.8 378.75,333.3 379.50,332.0 380.25,330.2 380.75,328.6 381.00,327.6 381.25,326.4 381.50,325.0 381.75,323.2 382.00,321.2 382.25,318.7 382.50,315.7 382.75,312.1 383.00,307.8 383.25,302.8 383.50,296.9 383.75,290.1 384.00,282.3 384.25,273.6 384.50,264.0 384.75,253.6 385.00,242.4 385.50,219.4 385.75,208.3 386.00,198.3 386.25,190.1 386.50,184.4 386.75,181.8 387.00,182.5 387.25,186.5 387.50,193.3 387.75,202.4 388.00,212.9 388.25,224.3 388.50,235.8 388.75,247.2 389.00,258.1 389.25,268.2 389.50,277.4 389.75,285.7 390.00,293.1 390.25,299.5 390.50,305.0 390.75,309.7 391.00,313.6 391.25,317.0 391.50,319.7 391.75,322.0 392.00,323.9 392.25,325.5 392.50,326.8 392.75,328.0 393.25,329.7 393.75,331.0 394.50,332.5 395.50,333.9 396.75,335.1 398.50,336.2 400.50,336.9 401.25,336.8 402.00,336.3 402.75,335.2 403.50,333.7 404.00,333.2 404.25,333.2 404.75,333.6 406.25,336.4 407.00,337.1 408.00,337.3 410.00,336.8 411.50,335.9 412.50,335.0 413.25,333.9 414.00,332.3 414.50,330.9 415.00,329.0 415.25,327.8 415.50,326.4 415.75,324.9 416.00,323.1 416.25,321.2 416.50,319.0 416.75,316.5 417.50,308.6 417.75,306.2 418.00,304.3 418.25,303.1 418.50,302.7 418.75,303.3 419.00,304.7 419.25,306.7 419.50,309.2 420.25,317.1 420.50,319.5 420.75,321.7 421.00,323.6 421.25,325.4 421.50,326.9 421.75,328.2 422.25,330.4 422.75,332.0 423.50,333.8 424.25,335.1 425.25,336.2 426.75,337.2 429.00,338.1 432.00,338.6 432.75,338.6 433.25,338.1 433.75,336.9 434.00,336.2 434.25,335.8 434.50,335.7 434.75,336.0 435.25,337.0 435.50,337.4 435.75,337.6 436.25,337.5 438.00,335.9 439.50,334.5 440.50,334.1 441.50,334.3 442.50,335.0 445.50,338.0 447.00,338.9 449.00,339.4 454.25,339.6" fill="none" stroke="#8064a2" stroke-width="0.45" stroke-opacity="0.9"/>
<polyline points="364.50,338.8 370.50,338.2 374.00,337.3 376.25,336.3 377.75,335.1 379.00,333.6 379.75,332.3 380.25,331.1 380.75,329.6 381.00,328.7 381.25,327.6 381.50,326.2 381.75,324.6 382.00,322.6 382.25,320.2 382.50,317.2 382.75,313.5 383.00,309.1 383.25,303.8 383.50,297.4 383.75,290.0 384.00,281.4 384.25,271.7 384.50,261.0 384.75,249.2 385.00,236.9 385.25,224.2 385.50,211.9 385.75,200.6 386.00,191.2 386.25,184.8 386.50,182.1 386.75,183.4 387.00,188.5 387.25,196.9 387.50,207.6 387.75,219.6 388.25,244.8 388.50,256.8 388.75,267.9 389.00,278.0 389.25,287.0 389.50,294.8 389.75,301.5 390.00,307.2 390.25,312.0 390.50,315.9 390.75,319.1 391.00,321.7 391.25,323.9 391.50,325.6 391.75,327.0 392.00,328.2 392.50,330.1 393.00,331.4 393.75,332.9 394.75,334.3 396.00,335.5 397.75,336.6 400.25,337.4 401.50,337.5 402.25,337.0 402.75,336.3 403.75,334.2 404.00,333.8 404.25,333.6 404.50,333.6 404.75,333.8 405.25,334.7 406.00,336.4 406.50,337.2 407.25,337.7 408.50,337.7 410.75,337.1 412.25,336.2 413.25,335.2 414.00,334.0 414.50,332.9 415.00,331.5 415.50,329.5 415.75,328.2 416.00,326.8 416.25,325.1 416.50,323.2 416.75,321.0 417.00,318.6 417.25,315.9 417.75,310.0 418.00,307.3 418.25,304.9 418.50,303.3 418.75,302.7 419.00,303.2 419.25,304.8 419.50,307.0 419.75,309.8 420.25,315.7 420.50,318.4 420.75,320.9 421.00,323.1 421.25,325.1 421.50,326.8 421.75,328.3 422.00,329.5 422.50,331.6 423.00,333.1 423.75,334.7 424.50,335.8 425.75,336.9 427.50,337.8 430.50,338.6 433.00,338.9 433.50,338.6 433.75,338.1 434.50,336.1 434.75,336.0 435.00,336.3 435.50,337.5 435.75,337.9 436.00,338.1 436.50,337.9 437.75,336.8 439.50,335.0 440.50,334.3 441.25,334.3 442.25,334.8 444.00,336.7 445.50,338.2 446.75,339.0 448.50,339.5 454.25,339.7" fill="none" stroke="#e8a33d" stroke-width="0.45" stroke-opacity="0.9"/>
<polyline points="364.50,338.4 369.50,337.7 372.75,336.7 374.75,335.7 376.25,334.5 377.50,333.0 378.25,331.7 379.00,329.9 379.50,328.3 379.75,327.3 380.00,326.1 380.25,324.7 380.50,323.0 380.75,321.0 381.00,318.6 381.25,315.7 381.50,312.3 381.75,308.3 382.00,303.5 382.25,298.1 382.50,291.7 382.75,284.6 383.00,276.6 383.25,267.7 383.50,258.1 383.75,247.9 384.25,226.4 384.50,215.8 384.75,205.9 385.00,197.3 385.25,190.6 385.50,186.4 385.75,185.1 386.00,186.8 386.25,191.4 386.50,198.4 386.75,207.2 387.00,217.2 387.25,227.9 387.50,238.7 387.75,249.4 388.00,259.5 388.25,269.0 388.50,277.7 388.75,285.6 389.00,292.6 389.25,298.8 389.50,304.2 389.75,308.8 390.00,312.7 390.25,316.1 390.50,318.9 390.75,321.2 391.00,323.2 391.25,324.8 391.50,326.2 391.75,327.4 392.25,329.2 392.75,330.6 393.50,332.1 394.50,333.5 395.75,334.8 397.50,335.9 399.75,336.7 400.75,336.7 401.50,336.1 402.25,335.0 403.00,333.6 403.50,333.0 404.00,333.0 404.50,333.6 405.75,336.0 406.50,336.8 407.25,337.0 408.75,336.8 410.50,336.0 411.75,335.0 412.75,333.6 413.50,332.0 414.00,330.6 414.50,328.7 415.00,326.3 415.25,324.8 415.50,323.2 415.75,321.3 416.00,319.2 416.50,314.6 417.00,309.6 417.25,307.3 417.50,305.4 417.75,304.1 418.00,303.5 418.25,303.8 418.50,304.8 418.75,306.5 419.00,308.6 419.75,316.1 420.00,318.4 420.25,320.6 420.50,322.5 420.75,324.3 421.00,325.9 421.25,327.3 421.75,329.6 422.25,331.3 422.75,332.7 423.50,334.2 424.50,335.5 425.75,336.6 427.75,337.6 430.75,338.3 432.00,338.4 432.50,338.0 432.75,337.6 433.50,335.8 433.75,335.5 434.00,335.6 434.50,336.5 434.75,337.0 435.00,337.3 435.50,337.4 436.50,336.8 439.00,334.6 440.00,334.1 441.00,334.1 442.00,334.7 445.50,337.9 447.00,338.8 449.00,339.3 454.25,339.5" fill="none" stroke="#4fb0a0" stroke-width="0.45" stroke-opacity="0.9"/>
<polyline points="364.50,339.0 370.25,338.3 373.75,337.5 376.00,336.4 377.50,335.2 378.50,334.0 379.25,332.8 380.00,331.1 380.50,329.6 380.75,328.6 381.00,327.5 381.25,326.1 381.50,324.5 381.75,322.4 382.00,320.0 382.25,317.0 382.50,313.4 382.75,309.0 383.00,303.7 383.25,297.5 383.50,290.3 383.75,282.0 384.00,272.7 384.25,262.3 384.50,251.0 384.75,239.1 385.00,226.8 385.25,214.8 385.50,203.6 385.75,194.1 386.00,187.2 386.25,183.5 386.50,183.6 386.75,187.4 387.00,194.5 387.25,204.1 387.50,215.3 387.75,227.4 388.00,239.6 388.25,251.5 388.50,262.8 388.75,273.1 389.00,282.4 389.25,290.7 389.50,297.8 389.75,304.0 390.00,309.1 390.25,313.5 390.50,317.1 390.75,320.0 391.00,322.5 391.25,324.5 391.50,326.1 391.75,327.5 392.00,328.6 392.50,330.4 393.00,331.7 393.75,333.1 394.75,334.5 396.00,335.7 397.75,336.7 400.00,337.5 401.00,337.5 401.75,337.1 402.25,336.5 403.50,334.0 403.75,333.7 404.00,333.7 404.25,333.8 404.75,334.5 405.75,336.6 406.25,337.3 407.00,337.7 408.50,337.6 410.50,336.9 411.75,336.0 412.75,334.8 413.50,333.4 414.00,332.1 414.50,330.3 414.75,329.2 415.00,328.0 415.25,326.5 415.50,324.8 415.75,322.9 416.00,320.7 416.25,318.2 416.75,312.7 417.00,309.9 417.25,307.3 417.50,305.1 417.75,303.7 418.00,303.3 418.25,303.8 418.50,305.3 418.75,307.6 419.00,310.2 419.50,315.9 419.75,318.6 420.00,321.0 420.25,323.2 420.50,325.1 420.75,326.8 421.00,328.2 421.25,329.5 421.75,331.6 422.25,333.1 423.00,334.7 423.75,335.8 425.00,337.0 426.75,338.0 429.50,338.7 432.00,339.0 432.50,338.7 432.75,338.3 433.50,336.4 433.75,336.3 434.00,336.5 434.50,337.8 434.75,338.2 435.00,338.5 435.50,338.5 436.75,337.5 439.25,335.0 440.25,334.5 441.00,334.5 442.00,335.1 445.00,338.2 446.25,339.1 448.00,339.6 453.00,339.9 454.25,339.9" fill="none" stroke="#4bacc6" stroke-width="0.45" stroke-opacity="0.9"/>
<polyline points="364.50,338.8 370.25,338.2 373.50,337.3 375.75,336.2 377.25,335.0 378.50,333.5 379.25,332.2 379.75,331.0 380.25,329.5 380.50,328.6 380.75,327.5 381.00,326.1 381.25,324.5 381.50,322.6 381.75,320.3 382.00,317.4 382.25,314.0 382.50,309.8 382.75,304.9 383.00,299.0 383.25,292.2 383.50,284.3 383.75,275.4 384.00,265.6 384.25,254.8 384.50,243.3 385.00,219.4 385.25,208.0 385.50,198.0 385.75,190.0 386.00,184.9 386.25,183.3 386.50,185.3 386.75,190.7 387.00,199.0 387.25,209.2 387.50,220.7 388.00,244.6 388.25,256.0 388.50,266.7 388.75,276.5 389.00,285.2 389.25,293.0 389.50,299.7 389.75,305.4 390.00,310.3 390.25,314.3 390.50,317.7 390.75,320.5 391.00,322.8 391.25,324.7 391.50,326.2 391.75,327.5 392.00,328.6 392.50,330.3 393.25,332.1 394.00,333.4 395.25,334.9 396.75,336.0 399.00,337.1 400.75,337.4 401.50,337.1 402.00,336.5 403.25,334.2 403.75,333.6 404.00,333.6 404.25,333.7 404.75,334.5 405.75,336.6 406.25,337.2 407.00,337.7 408.50,337.6 410.50,337.0 412.00,336.0 413.00,335.0 413.75,333.7 414.25,332.6 414.75,331.1 415.25,329.0 415.50,327.8 415.75,326.3 416.00,324.6 416.25,322.7 416.50,320.6 416.75,318.2 417.25,312.8 417.50,310.0 417.75,307.4 418.00,305.2 418.25,303.6 418.50,303.0 418.75,303.3 419.00,304.6 419.25,306.6 419.50,309.2 420.25,317.4 420.50,319.9 420.75,322.2 421.00,324.2 421.25,325.9 421.50,327.5 421.75,328.8 422.25,331.0 422.75,332.6 423.50,334.3 424.25,335.5 425.25,336.6 426.75,337.5 429.25,338.4 432.00,338.8 432.50,338.6 432.75,338.3 433.00,337.8 433.50,336.4 433.75,336.0 434.00,336.0 434.25,336.5 434.75,337.6 435.00,337.9 435.50,338.0 436.50,337.3 439.00,334.8 440.00,334.3 440.75,334.3 441.75,334.8 443.50,336.7 445.00,338.2 446.50,339.1 448.50,339.6 454.25,339.8" fill="none" stroke="#6fa8dc" stroke-width="0.45" stroke-opacity="0.9"/>
<polyline points="364.50,339.0 370.25,338.4 373.75,337.5 376.00,336.4 377.50,335.2 378.50,334.0 379.25,332.8 380.00,331.1 380.50,329.5 380.75,328.4 381.00,327.2 381.25,325.7 381.50,323.9 381.75,321.7 382.00,319.0 382.25,315.7 382.50,311.6 382.75,306.7 383.00,300.8 383.25,293.9 383.50,285.8 383.75,276.5 384.00,266.1 384.25,254.7 384.50,242.5 385.00,217.2 385.25,205.3 385.50,195.1 385.75,187.5 386.00,183.3 386.25,183.2 386.50,187.1 386.75,194.5 387.00,204.5 387.25,216.3 387.75,241.6 388.00,253.8 388.25,265.3 388.50,275.8 388.75,285.1 389.00,293.3 389.25,300.3 389.50,306.3 389.75,311.2 390.00,315.4 390.25,318.7 390.50,321.5 390.75,323.7 391.00,325.6 391.25,327.1 391.50,328.3 392.00,330.2 392.50,331.6 393.25,333.1 394.25,334.6 395.50,335.7 397.25,336.8 399.75,337.6 401.50,337.8 402.25,337.4 402.75,336.7 403.75,334.6 404.00,334.2 404.25,334.0 404.50,333.9 404.75,334.0 405.25,334.9 406.25,337.0 406.75,337.6 407.50,338.0 409.25,337.7 411.25,337.0 412.50,336.0 413.25,335.1 414.00,333.7 414.50,332.4 415.00,330.7 415.25,329.6 415.50,328.4 415.75,326.9 416.00,325.2 416.25,323.2 416.50,321.0 416.75,318.5 417.25,312.9 417.50,310.0 417.75,307.3 418.00,305.2 418.25,303.9 418.50,303.6 418.75,304.5 419.00,306.2 419.25,308.7 420.00,317.3 420.25,319.9 420.50,322.3 420.75,324.4 421.00,326.2 421.25,327.8 421.50,329.2 421.75,330.4 422.25,332.3 422.75,333.7 423.50,335.2 424.50,336.4 425.75,337.4 427.75,338.3 431.00,339.0 432.50,339.1 433.00,338.7 433.25,338.2 433.75,336.8 434.00,336.4 434.25,336.4 434.50,336.8 435.00,338.1 435.25,338.4 435.75,338.5 436.75,337.8 439.50,335.0 440.50,334.5 441.25,334.6 442.25,335.3 445.00,338.3 446.25,339.1 448.00,339.7 453.75,339.9 454.25,339.9" fill="none" stroke="#5b86cc" stroke-width="0.45" stroke-opacity="0.9"/>
</g>
<g style="filter:grayscale(1)">
<text x="386.25" y="261.75" font-size="6.7" font-weight="normal" letter-spacing="0.35" stroke="#1a1a1a" stroke-width="0.45" text-anchor="middle" fill="#1a1a1a">O14<tspan font-size="5.7" dy="-0.3" stroke-width="0.6">+</tspan><tspan dy="0.3"></tspan></text>
<text x="386" y="270.8" font-size="6.7" font-weight="normal" letter-spacing="0.35" stroke="#1a1a1a" stroke-width="0.45" text-anchor="middle" fill="#1a1a1a">Si5<tspan font-size="5.7" dy="-0.3" stroke-width="0.6">+</tspan><tspan dy="0.3"></tspan></text>
<text x="386.2" y="280.6" font-size="6.7" font-weight="normal" letter-spacing="0.35" stroke="#1a1a1a" stroke-width="0.45" text-anchor="middle" fill="#1a1a1a">Vi8</text>
<text x="402" y="295.0" font-size="6.7" font-weight="normal" letter-spacing="0.35" stroke="#1a1a1a" stroke-width="0.45" text-anchor="middle" fill="#1a1a1a">Pi5<tspan font-size="5.7" dy="-0.3" stroke-width="0.6">+</tspan><tspan dy="0.3"></tspan></text>
<text x="402" y="305.5" font-size="6.7" font-weight="normal" letter-spacing="0.35" stroke="#1a1a1a" stroke-width="0.45" text-anchor="middle" fill="#1a1a1a">Se5<tspan font-size="5.7" dy="-0.3" stroke-width="0.6">+</tspan><tspan dy="0.3"></tspan></text>
<text x="402" y="315.4" font-size="6.7" font-weight="normal" letter-spacing="0.35" stroke="#1a1a1a" stroke-width="0.45" text-anchor="middle" fill="#1a1a1a">Ve8</text>
<text x="418.8" y="300.2" font-size="6.7" font-weight="normal" letter-spacing="0.35" stroke="#1a1a1a" stroke-width="0.45" text-anchor="middle" fill="#1a1a1a">Pe5</text>
<text x="436.6" y="327.7" font-size="6.7" font-weight="normal" letter-spacing="0.35" stroke="#1a1a1a" stroke-width="0.45" text-anchor="middle" fill="#1a1a1a">V7</text>
<line x1="399.3" y1="319.4" x2="399.3" y2="344.9" stroke="#3a3a3a" stroke-width="1.2"/>
<line x1="408.5" y1="316" x2="408.5" y2="344.9" stroke="#3a3a3a" stroke-width="1.2"/>
<line x1="427.2" y1="306.3" x2="427.2" y2="344.9" stroke="#3a3a3a" stroke-width="1.2"/>
</g>
<g style="filter:grayscale(1)">
<line x1="463" y1="178" x2="463" y2="348" stroke="#c0c0c0" stroke-width="0.8"/>
<line x1="463" y1="348" x2="543.5" y2="348" stroke="#c0c0c0" stroke-width="0.8"/>
<line x1="463" y1="178" x2="543.5" y2="178" stroke="#c0c0c0" stroke-width="0.8"/>
<line x1="463" y1="190.05" x2="465" y2="190.05" stroke="#c0c0c0" stroke-width="0.6"/>
<text x="461.7" y="191.35000000000002" font-size="3.8" text-anchor="end" fill="#333">0.9</text>
<line x1="463" y1="206.9" x2="465" y2="206.9" stroke="#c0c0c0" stroke-width="0.6"/>
<text x="461.7" y="208.20000000000002" font-size="3.8" text-anchor="end" fill="#333">0.8</text>
<line x1="463" y1="223.75" x2="465" y2="223.75" stroke="#c0c0c0" stroke-width="0.6"/>
<text x="461.7" y="225.05" font-size="3.8" text-anchor="end" fill="#333">0.7</text>
<line x1="463" y1="240.6" x2="465" y2="240.6" stroke="#c0c0c0" stroke-width="0.6"/>
<text x="461.7" y="241.9" font-size="3.8" text-anchor="end" fill="#333">0.6</text>
<line x1="463" y1="257.45" x2="465" y2="257.45" stroke="#c0c0c0" stroke-width="0.6"/>
<text x="461.7" y="258.75" font-size="3.8" text-anchor="end" fill="#333">0.5</text>
<line x1="463" y1="274.3" x2="465" y2="274.3" stroke="#c0c0c0" stroke-width="0.6"/>
<text x="461.7" y="275.6" font-size="3.8" text-anchor="end" fill="#333">0.4</text>
<line x1="463" y1="291.15" x2="465" y2="291.15" stroke="#c0c0c0" stroke-width="0.6"/>
<text x="461.7" y="292.45" font-size="3.8" text-anchor="end" fill="#333">0.3</text>
<line x1="463" y1="308.0" x2="465" y2="308.0" stroke="#c0c0c0" stroke-width="0.6"/>
<text x="461.7" y="309.3" font-size="3.8" text-anchor="end" fill="#333">0.2</text>
<line x1="463" y1="324.85" x2="465" y2="324.85" stroke="#c0c0c0" stroke-width="0.6"/>
<text x="461.7" y="326.15000000000003" font-size="3.8" text-anchor="end" fill="#333">0.1</text>
<line x1="463" y1="341.7" x2="465" y2="341.7" stroke="#c0c0c0" stroke-width="0.6"/>
<text x="461.7" y="343.0" font-size="3.8" text-anchor="end" fill="#333">0</text>
<line x1="463.5" y1="348" x2="463.5" y2="346" stroke="#c0c0c0" stroke-width="0.6"/>
<line x1="463.5" y1="178" x2="463.5" y2="180" stroke="#c0c0c0" stroke-width="0.6"/>
<text x="463.5" y="353.0" font-size="3.8" text-anchor="middle" fill="#333">29.45</text>
<line x1="490.9" y1="348" x2="490.9" y2="346" stroke="#c0c0c0" stroke-width="0.6"/>
<line x1="490.9" y1="178" x2="490.9" y2="180" stroke="#c0c0c0" stroke-width="0.6"/>
<text x="490.9" y="353.0" font-size="3.8" text-anchor="middle" fill="#333">29.4</text>
<line x1="515.5" y1="348" x2="515.5" y2="346" stroke="#c0c0c0" stroke-width="0.6"/>
<line x1="515.5" y1="178" x2="515.5" y2="180" stroke="#c0c0c0" stroke-width="0.6"/>
<text x="515.5" y="353.0" font-size="3.8" text-anchor="middle" fill="#333">29.35</text>
<line x1="541.6" y1="348" x2="541.6" y2="346" stroke="#c0c0c0" stroke-width="0.6"/>
<line x1="541.6" y1="178" x2="541.6" y2="180" stroke="#c0c0c0" stroke-width="0.6"/>
<text x="541.6" y="353.0" font-size="3.8" text-anchor="middle" fill="#333">29.3</text>
</g>
<g clip-path="url(#c8)">
<polyline points="463.00,340.9 476.25,340.8 478.75,340.4 480.00,339.8 481.50,338.4 482.25,337.9 482.50,337.5 482.75,337.0 483.00,336.4 483.25,335.5 483.50,334.3 483.75,333.0 484.00,331.4 484.25,329.6 484.75,325.5 485.50,319.0 485.75,317.0 486.00,315.3 486.25,313.8 486.50,312.8 486.75,312.1 487.00,312.0 487.25,312.3 487.50,313.0 487.75,314.2 488.00,315.7 488.25,317.6 488.75,321.8 489.50,328.3 489.75,330.2 490.00,332.0 490.25,333.6 490.50,335.0 490.75,336.1 491.00,337.1 491.25,337.8 491.75,338.9 492.25,339.5 493.00,339.9 493.75,339.8 494.25,339.5 494.75,338.7 495.00,338.2 495.25,337.4 495.50,336.5 495.75,335.3 496.00,334.0 496.50,330.8 497.00,327.4 497.25,325.9 497.50,324.7 497.75,323.8 498.00,323.3 498.25,323.3 498.50,323.7 498.75,324.5 499.00,325.7 500.00,331.4 500.25,332.6 500.50,333.7 500.75,334.5 501.00,335.1 501.25,335.4 501.75,335.7 502.25,335.4 503.00,334.3 503.75,332.5 504.25,330.8 504.75,328.7 505.00,327.4 505.25,325.9 505.50,324.1 505.75,321.9 506.00,319.4 506.25,316.2 506.50,312.3 506.75,307.3 507.00,300.9 507.25,292.5 507.50,281.6 507.75,267.5 508.00,249.6 508.25,227.3 508.50,200.7 508.75,178.0 510.50,178.0 510.75,201.3 511.00,227.9 511.25,250.0 511.50,267.8 511.75,281.8 512.00,292.7 512.25,301.0 512.50,307.4 512.75,312.4 513.00,316.3 513.25,319.4 513.50,321.9 513.75,324.1 514.00,325.8 514.25,327.4 514.50,328.7 515.00,330.8 515.50,332.4 516.25,334.2 517.00,335.5 518.00,336.8 519.50,337.9 521.50,338.8 524.00,339.2 526.50,339.1 528.50,338.5 529.75,337.6 530.75,336.5 531.50,335.3 532.25,333.6 533.00,331.3 533.75,328.5 535.25,321.9 535.50,321.0 535.75,320.2 536.00,319.7 536.25,319.4 536.50,319.3 536.75,319.6 537.00,320.0 537.25,320.7 537.75,322.5 539.00,327.9 539.50,329.7 540.00,331.1 540.50,332.1 541.75,333.6 542.25,334.7 543.00,336.5 543.75,337.9 544.50,338.8" fill="none" stroke="#c0504d" stroke-width="0.45" stroke-opacity="0.9"/>
<polyline points="463.00,340.0 476.00,339.8 478.75,339.5 480.00,338.9 482.00,336.8 482.50,336.3 483.00,335.3 483.25,334.6 483.50,333.7 483.75,332.6 484.00,331.3 484.50,328.3 485.75,319.3 486.00,317.7 486.25,316.3 486.50,315.1 486.75,314.3 487.00,313.7 487.25,313.6 487.50,313.7 487.75,314.3 488.00,315.2 488.25,316.3 488.50,317.7 489.00,321.1 490.00,328.4 490.50,331.5 490.75,332.9 491.00,334.1 491.50,335.9 492.00,337.2 492.50,338.0 493.25,338.6 494.00,338.6 494.50,338.2 495.00,337.4 495.50,336.1 495.75,335.2 496.00,334.1 496.50,331.5 497.25,327.1 497.50,325.7 497.75,324.5 498.00,323.5 498.25,322.9 498.50,322.7 498.75,322.8 499.00,323.2 499.25,324.0 499.50,325.0 500.50,329.8 500.75,330.9 501.00,331.8 501.25,332.5 501.50,333.0 501.75,333.3 502.25,333.5 502.75,333.1 503.25,332.3 503.75,331.1 504.25,329.6 504.75,327.5 505.00,326.3 505.25,324.9 505.50,323.2 505.75,321.3 506.00,319.0 506.25,316.3 506.50,312.9 506.75,308.7 507.00,303.5 507.25,296.9 507.50,288.4 507.75,277.6 508.00,263.9 508.25,246.9 508.50,226.2 508.75,201.7 509.00,178.0 511.00,178.0 511.25,203.1 511.50,227.4 511.75,247.9 512.00,264.7 512.25,278.2 512.50,288.9 512.75,297.2 513.00,303.8 513.25,308.9 513.50,313.0 513.75,316.4 514.00,319.1 514.25,321.3 514.50,323.2 514.75,324.9 515.00,326.3 515.50,328.6 516.00,330.3 516.75,332.3 517.50,333.8 518.50,335.1 519.75,336.3 521.50,337.2 523.75,337.8 526.25,337.7 528.00,337.3 529.25,336.6 530.25,335.6 531.25,334.1 532.00,332.6 532.75,330.6 533.50,328.0 535.25,321.0 535.75,319.5 536.00,318.9 536.25,318.6 536.50,318.4 536.75,318.5 537.00,318.9 537.25,319.4 537.75,320.9 539.25,326.7 540.00,329.1 540.50,330.3 541.00,331.1 542.00,332.2 542.50,333.2 543.50,335.5 544.25,336.8 544.50,337.1" fill="none" stroke="#f79646" stroke-width="0.45" stroke-opacity="0.9"/>
<polyline points="463.00,340.3 476.25,340.1 478.75,339.8 479.75,339.3 481.50,337.7 482.25,337.2 482.50,336.8 482.75,336.3 483.00,335.6 483.25,334.7 483.50,333.6 483.75,332.2 484.00,330.6 484.25,328.8 484.75,324.7 485.50,318.0 485.75,316.0 486.00,314.1 486.25,312.6 486.50,311.5 486.75,310.7 487.00,310.5 487.25,310.7 487.50,311.4 487.75,312.5 488.00,314.0 488.25,315.8 488.75,320.0 489.50,326.6 489.75,328.7 490.00,330.6 490.25,332.2 490.50,333.7 490.75,335.0 491.00,336.0 491.25,336.9 491.75,338.1 492.25,338.8 493.00,339.2 493.75,339.0 494.25,338.6 494.75,337.6 495.00,337.0 495.25,336.1 495.50,335.0 496.00,332.5 496.75,328.1 497.00,326.9 497.25,325.8 497.50,325.1 497.75,324.8 498.00,324.8 498.25,325.2 498.50,325.9 498.75,326.9 499.75,331.8 500.00,332.9 500.25,333.7 500.50,334.4 500.75,334.9 501.25,335.4 501.75,335.3 502.50,334.5 503.25,333.1 503.75,331.8 504.25,330.1 504.75,328.0 505.00,326.7 505.25,325.2 505.50,323.4 505.75,321.2 506.00,318.7 506.25,315.5 506.50,311.6 506.75,306.7 507.00,300.3 507.25,292.0 507.50,281.3 507.75,267.4 508.00,249.9 508.25,228.2 508.50,202.2 508.75,178.0 510.50,178.0 510.75,196.5 511.00,223.3 511.25,245.9 511.50,264.2 511.75,278.8 512.00,290.1 512.25,298.8 512.50,305.5 512.75,310.7 513.00,314.8 513.25,318.1 513.50,320.7 513.75,322.9 514.00,324.8 514.25,326.3 514.50,327.7 515.00,329.9 515.50,331.6 516.25,333.4 517.00,334.8 518.00,336.0 519.50,337.2 521.50,338.1 524.00,338.5 526.50,338.4 528.25,337.8 529.50,337.1 530.50,336.0 531.25,334.8 532.00,333.2 532.75,331.0 533.50,328.3 535.00,321.9 535.50,320.1 535.75,319.5 536.00,319.1 536.25,319.0 536.50,319.1 536.75,319.5 537.00,320.1 537.50,321.7 539.00,328.0 539.50,329.7 540.00,331.1 540.50,332.1 541.00,332.7 541.75,333.3 542.25,334.0 543.50,336.7 544.25,337.8 544.50,338.1" fill="none" stroke="#d4c84a" stroke-width="0.45" stroke-opacity="0.9"/>
<polyline points="463.00,340.0 476.25,339.9 478.75,339.5 480.00,338.9 481.50,337.6 482.25,337.3 482.75,336.7 483.00,336.2 483.25,335.4 483.50,334.5 483.75,333.4 484.00,332.1 484.25,330.5 484.50,328.8 485.00,324.9 485.75,318.7 486.00,316.9 486.25,315.2 486.50,313.8 486.75,312.8 487.00,312.2 487.25,312.0 487.50,312.2 487.75,312.9 488.00,314.0 488.25,315.3 488.50,317.0 489.00,320.9 489.75,327.1 490.25,330.8 490.50,332.3 490.75,333.7 491.00,334.9 491.25,335.9 491.75,337.3 492.25,338.2 493.00,338.8 493.75,338.9 494.50,338.4 495.00,337.6 495.25,336.9 495.50,336.1 495.75,335.2 496.00,334.0 496.50,331.3 497.25,326.8 497.50,325.6 497.75,324.6 498.00,324.0 498.25,323.7 498.50,323.9 498.75,324.4 499.00,325.2 499.50,327.5 500.25,331.3 500.50,332.3 500.75,333.1 501.00,333.8 501.25,334.2 501.50,334.5 502.00,334.6 502.50,334.2 503.25,333.0 503.75,331.8 504.25,330.3 504.75,328.3 505.00,327.1 505.25,325.7 505.50,324.1 505.75,322.2 506.00,320.0 506.25,317.2 506.50,313.9 506.75,309.7 507.00,304.4 507.25,297.6 507.50,288.7 507.75,277.3 508.00,262.7 508.25,244.3 508.50,221.7 508.75,194.9 509.00,178.0 510.75,178.0 511.00,196.3 511.25,222.9 511.50,245.3 511.75,263.5 512.00,277.9 512.25,289.2 512.50,297.9 512.75,304.6 513.00,309.9 513.25,314.0 513.50,317.3 513.75,320.0 514.00,322.2 514.25,324.1 514.50,325.7 514.75,327.1 515.25,329.3 515.75,331.0 516.50,332.9 517.25,334.3 518.25,335.6 519.50,336.7 521.25,337.6 523.50,338.1 526.00,338.1 528.00,337.6 529.50,336.8 530.50,335.7 531.25,334.6 532.00,333.0 532.75,330.9 533.50,328.2 535.00,321.9 535.50,320.1 535.75,319.4 536.00,319.0 536.25,318.7 536.50,318.7 536.75,319.0 537.00,319.5 537.50,321.0 539.00,327.2 539.75,329.8 540.25,331.0 540.75,331.9 542.00,333.1 542.50,334.0 543.50,336.2 544.25,337.4 544.50,337.7" fill="none" stroke="#9bbb59" stroke-width="0.45" stroke-opacity="0.9"/>
<polyline points="463.00,339.9 476.75,339.8 479.50,339.4 480.50,338.9 481.50,337.9 482.25,337.1 483.00,336.4 483.25,335.9 483.50,335.3 483.75,334.4 484.00,333.3 484.25,332.0 484.50,330.5 484.75,328.7 485.25,324.8 486.00,318.6 486.25,316.8 486.50,315.3 486.75,314.0 487.00,313.1 487.25,312.7 487.50,312.7 487.75,313.2 488.00,314.1 488.25,315.4 488.50,317.0 488.75,318.8 489.75,327.1 490.25,330.8 490.50,332.4 490.75,333.8 491.00,335.0 491.25,336.0 491.50,336.8 492.00,337.9 492.50,338.6 493.25,339.0 494.00,338.9 494.75,338.4 495.25,337.5 495.50,336.9 495.75,336.1 496.00,335.1 496.50,332.5 497.25,328.2 497.50,326.9 497.75,325.8 498.00,325.1 498.25,324.7 498.50,324.8 498.75,325.2 499.00,326.0 499.25,327.0 500.25,331.9 500.50,332.9 500.75,333.8 501.00,334.4 501.25,334.9 501.75,335.3 502.25,335.2 503.00,334.4 503.75,333.0 504.25,331.8 504.75,330.2 505.25,328.2 505.50,327.0 505.75,325.5 506.00,323.8 506.25,321.8 506.50,319.4 506.75,316.5 507.00,312.9 507.25,308.3 507.50,302.3 507.75,294.6 508.00,284.5 508.25,271.4 508.50,254.6 508.75,233.5 509.00,207.7 509.25,178.0 511.00,178.0 511.25,192.7 511.50,220.7 511.75,244.2 512.00,263.2 512.25,278.2 512.50,289.7 512.75,298.6 513.00,305.4 513.25,310.6 513.50,314.7 513.75,317.9 514.00,320.6 514.25,322.8 514.50,324.6 514.75,326.2 515.00,327.5 515.50,329.7 516.00,331.4 516.75,333.2 517.50,334.5 518.50,335.8 520.00,336.9 522.00,337.8 524.50,338.2 527.00,338.1 529.00,337.5 530.25,336.6 531.25,335.5 532.00,334.2 532.75,332.4 533.50,330.1 534.25,327.2 535.50,321.6 536.00,319.7 536.25,319.0 536.50,318.6 536.75,318.4 537.00,318.4 537.25,318.8 537.50,319.4 538.00,321.1 539.50,327.6 540.00,329.4 540.50,330.8 541.00,331.8 541.50,332.5 542.25,333.0 542.75,333.7 543.75,336.0 544.50,337.2" fill="none" stroke="#8064a2" stroke-width="0.45" stroke-opacity="0.9"/>
<polyline points="463.00,340.7 476.25,340.5 478.75,340.2 480.00,339.6 481.50,338.2 482.25,337.9 482.75,337.2 483.00,336.6 483.25,335.8 483.50,334.8 483.75,333.6 484.00,332.2 484.25,330.5 484.75,326.7 485.50,320.4 485.75,318.4 486.00,316.6 486.25,315.1 486.50,314.0 486.75,313.3 487.00,313.0 487.25,313.2 487.50,313.8 487.75,314.8 488.00,316.2 488.25,317.9 488.75,322.0 489.50,328.3 489.75,330.2 490.00,331.9 490.25,333.5 490.50,334.8 490.75,336.0 491.00,336.9 491.50,338.3 492.00,339.1 492.75,339.7 493.75,339.8 494.50,339.4 495.00,338.9 495.50,337.8 495.75,337.1 496.00,336.1 496.25,334.9 496.75,332.1 497.50,327.4 497.75,326.0 498.00,325.0 498.25,324.3 498.50,324.0 498.75,324.2 499.00,324.8 499.25,325.7 499.75,328.2 500.25,330.9 500.50,332.2 500.75,333.2 501.00,334.1 501.25,334.7 501.50,335.1 501.75,335.4 502.25,335.4 502.75,334.9 503.50,333.6 504.00,332.4 504.50,330.8 505.00,328.6 505.25,327.3 505.50,325.8 505.75,324.1 506.00,322.0 506.25,319.4 506.50,316.3 506.75,312.4 507.00,307.5 507.25,301.1 507.50,292.8 507.75,281.9 508.00,267.9 508.25,250.0 508.50,227.7 508.75,200.9 509.00,178.0 510.75,178.0 511.00,202.8 511.25,229.3 511.50,251.3 511.75,268.9 512.00,282.7 512.25,293.4 512.50,301.6 512.75,307.8 513.00,312.7 513.25,316.5 513.50,319.6 513.75,322.1 514.00,324.1 514.25,325.9 514.50,327.4 514.75,328.7 515.25,330.8 515.75,332.4 516.50,334.1 517.25,335.4 518.25,336.6 519.75,337.8 521.75,338.6 524.25,339.0 526.75,338.9 528.75,338.3 530.00,337.5 531.00,336.4 531.75,335.1 532.50,333.4 533.25,331.2 534.00,328.3 535.50,321.7 535.75,320.8 536.00,320.0 536.25,319.5 536.50,319.2 536.75,319.2 537.00,319.4 537.25,319.9 537.50,320.6 538.00,322.5 539.25,327.9 539.75,329.7 540.25,331.1 540.75,332.2 541.25,332.8 542.00,333.5 542.50,334.4 543.50,336.8 544.25,338.0 544.50,338.3" fill="none" stroke="#e8a33d" stroke-width="0.45" stroke-opacity="0.9"/>
<polyline points="463.00,340.2 476.00,340.0 478.75,339.6 479.75,339.1 480.75,338.2 482.25,336.7 482.75,335.8 483.00,335.1 483.25,334.2 483.50,333.1 483.75,331.8 484.00,330.3 484.50,326.7 485.50,318.6 485.75,316.7 486.00,315.0 486.25,313.5 486.50,312.3 486.75,311.5 487.00,311.0 487.25,311.0 487.50,311.4 487.75,312.2 488.00,313.3 488.25,314.8 488.50,316.5 489.00,320.4 489.75,326.5 490.25,330.2 490.50,331.8 490.75,333.2 491.00,334.4 491.25,335.4 491.75,337.0 492.25,338.0 492.75,338.5 493.50,338.8 494.25,338.4 494.75,337.7 495.25,336.5 495.50,335.6 496.00,333.4 497.00,327.9 497.25,326.6 497.50,325.5 497.75,324.6 498.00,324.1 498.25,323.9 498.50,324.1 498.75,324.6 499.00,325.4 499.50,327.5 500.25,330.9 500.50,331.9 500.75,332.7 501.00,333.3 501.25,333.7 501.75,334.1 502.25,333.9 502.75,333.3 503.25,332.4 503.75,331.1 504.25,329.4 504.75,327.2 505.00,325.9 505.25,324.4 505.50,322.6 505.75,320.5 506.00,318.0 506.25,314.9 506.50,311.2 506.75,306.5 507.00,300.6 507.25,293.0 507.50,283.3 507.75,270.9 508.00,255.4 508.25,236.2 508.50,213.1 508.75,186.3 509.00,178.0 510.75,178.0 511.00,193.6 511.25,219.5 511.50,241.6 511.75,259.8 512.00,274.4 512.25,286.0 512.50,295.1 512.75,302.2 513.00,307.8 513.25,312.2 513.50,315.7 513.75,318.6 514.00,321.0 514.25,323.0 514.50,324.7 514.75,326.2 515.00,327.4 515.50,329.5 516.00,331.1 516.75,333.0 517.50,334.3 518.50,335.6 520.00,336.8 521.75,337.6 524.00,338.0 526.25,337.9 528.00,337.3 529.25,336.5 530.25,335.4 531.00,334.2 531.75,332.5 532.50,330.4 533.25,327.7 534.75,321.6 535.25,319.8 535.50,319.2 535.75,318.7 536.00,318.5 536.25,318.5 536.50,318.7 536.75,319.1 537.25,320.5 538.00,323.4 539.00,327.4 539.75,329.8 540.25,331.0 540.75,331.8 542.00,333.1 542.50,334.0 543.50,336.2 544.25,337.3 544.50,337.6" fill="none" stroke="#4fb0a0" stroke-width="0.45" stroke-opacity="0.9"/>
<polyline points="463.00,340.3 476.00,340.2 478.75,339.8 479.75,339.3 480.75,338.3 482.25,336.4 482.75,335.4 483.00,334.7 483.25,333.8 483.75,331.5 484.25,328.7 485.25,322.4 485.75,319.6 486.00,318.5 486.25,317.6 486.50,317.0 486.75,316.7 487.00,316.8 487.25,317.1 487.50,317.8 487.75,318.7 488.00,319.9 488.50,322.7 489.50,329.2 490.00,332.1 490.50,334.4 491.00,336.2 491.50,337.5 492.00,338.3 492.75,338.9 493.50,339.0 494.25,338.6 494.75,337.9 495.25,336.7 495.75,335.0 496.25,332.8 497.00,329.0 497.25,327.9 497.50,326.9 497.75,326.1 498.00,325.6 498.25,325.5 498.50,325.6 498.75,325.9 499.00,326.6 499.50,328.3 500.25,331.3 500.75,332.8 501.25,333.8 501.75,334.1 502.25,333.9 502.75,333.2 503.25,332.2 503.75,330.9 504.25,329.2 504.75,326.9 505.00,325.6 505.25,324.0 505.50,322.2 505.75,320.0 506.00,317.4 506.25,314.3 506.50,310.5 506.75,305.7 507.00,299.6 507.25,291.8 507.50,282.0 507.75,269.5 508.00,253.9 508.25,234.8 508.50,211.9 508.75,185.5 509.00,178.0 510.75,178.0 511.00,189.4 511.25,215.3 511.50,237.7 511.75,256.3 512.00,271.4 512.25,283.5 512.50,293.0 512.75,300.5 513.00,306.4 513.25,311.0 513.50,314.7 513.75,317.8 514.00,320.3 514.25,322.4 514.50,324.2 514.75,325.7 515.00,327.0 515.50,329.2 516.00,330.9 516.75,332.8 517.50,334.2 518.50,335.5 519.75,336.6 521.50,337.5 523.75,338.1 526.00,338.0 527.75,337.6 529.25,336.7 530.25,335.7 531.25,334.1 532.00,332.5 532.75,330.3 533.50,327.7 535.00,321.7 535.50,320.0 535.75,319.4 536.00,319.0 536.25,318.7 536.50,318.7 536.75,318.9 537.00,319.4 537.50,320.7 538.25,323.5 539.25,327.4 540.00,329.7 540.50,330.8 541.25,331.8 542.00,332.7 542.75,334.3 543.50,336.0 544.25,337.3 544.50,337.6" fill="none" stroke="#4bacc6" stroke-width="0.45" stroke-opacity="0.9"/>
<polyline points="463.00,339.9 476.25,339.7 478.75,339.4 480.00,338.8 481.50,337.3 482.25,336.8 482.75,336.0 483.00,335.3 483.25,334.4 483.50,333.3 483.75,332.0 484.00,330.5 484.25,328.7 484.75,324.7 485.50,318.1 485.75,316.0 486.00,314.1 486.25,312.5 486.50,311.2 486.75,310.4 487.00,309.9 487.25,310.0 487.50,310.5 487.75,311.4 488.00,312.7 488.25,314.4 488.50,316.3 489.25,322.9 489.75,327.1 490.00,329.1 490.25,330.9 490.50,332.4 490.75,333.8 491.00,334.9 491.25,335.9 491.75,337.3 492.25,338.1 493.00,338.7 493.75,338.8 494.50,338.3 495.00,337.5 495.25,336.9 495.50,336.1 495.75,335.1 496.00,333.9 496.25,332.5 496.75,329.3 497.25,326.0 497.50,324.5 497.75,323.2 498.00,322.3 498.25,321.8 498.50,321.7 498.75,322.1 499.00,322.8 499.25,323.9 499.75,326.7 500.25,329.5 500.50,330.8 500.75,331.8 501.00,332.7 501.25,333.3 501.50,333.8 501.75,334.0 502.25,334.0 502.75,333.5 503.25,332.6 503.75,331.4 504.25,329.8 504.75,327.8 505.00,326.5 505.25,325.1 505.50,323.4 505.75,321.4 506.00,319.0 506.25,316.1 506.50,312.5 506.75,308.0 507.00,302.3 507.25,294.9 507.50,285.4 507.75,273.1 508.00,257.5 508.25,237.9 508.50,214.1 508.75,186.2 509.00,178.0 510.75,178.0 511.25,229.1 511.50,250.3 511.75,267.4 512.00,280.9 512.25,291.5 512.50,299.6 512.75,305.9 513.00,310.8 513.25,314.7 513.50,317.9 513.75,320.4 514.00,322.6 514.25,324.4 514.50,325.9 514.75,327.2 515.25,329.4 515.75,331.1 516.50,332.9 517.25,334.3 518.25,335.5 519.75,336.7 521.75,337.6 524.25,338.0 526.75,337.9 528.50,337.3 529.75,336.5 530.75,335.4 531.50,334.2 532.25,332.6 533.00,330.4 533.75,327.7 535.25,321.2 535.75,319.4 536.00,318.8 536.25,318.4 536.50,318.2 536.75,318.3 537.00,318.6 537.25,319.2 537.75,320.8 539.25,327.0 539.75,328.7 540.25,330.1 540.75,331.1 542.00,332.6 542.50,333.6 543.50,335.9 544.25,337.1 544.50,337.4" fill="none" stroke="#6fa8dc" stroke-width="0.45" stroke-opacity="0.9"/>
<polyline points="463.00,340.8 476.50,340.7 479.00,340.3 480.25,339.7 481.75,338.4 482.75,337.9 483.25,337.2 483.50,336.5 483.75,335.7 484.00,334.7 484.25,333.5 484.50,332.1 485.00,328.8 486.00,321.6 486.25,320.0 486.50,318.5 486.75,317.4 487.00,316.6 487.25,316.1 487.50,316.0 487.75,316.3 488.00,317.0 488.25,318.0 488.50,319.3 488.75,320.9 489.25,324.4 490.00,329.9 490.50,333.0 490.75,334.4 491.00,335.5 491.25,336.5 491.75,338.0 492.25,338.9 492.75,339.5 493.50,339.7 494.25,339.5 494.75,339.0 495.25,337.9 495.50,337.2 495.75,336.2 496.00,335.0 496.25,333.7 496.75,330.5 497.25,327.2 497.50,325.8 497.75,324.5 498.00,323.7 498.25,323.2 498.50,323.2 498.75,323.6 499.00,324.4 499.25,325.5 500.25,331.1 500.50,332.3 500.75,333.3 501.00,334.1 501.25,334.8 501.50,335.2 501.75,335.4 502.25,335.4 502.75,334.9 503.50,333.6 504.00,332.3 504.50,330.7 505.00,328.5 505.25,327.2 505.50,325.7 505.75,323.9 506.00,321.8 506.25,319.3 506.50,316.2 506.75,312.3 507.00,307.5 507.25,301.2 507.50,293.1 507.75,282.6 508.00,269.0 508.25,251.9 508.50,230.6 508.75,205.1 509.00,178.0 510.75,178.0 511.00,193.1 511.25,220.3 511.50,243.4 511.75,262.2 512.00,277.2 512.25,288.9 512.50,298.0 512.75,304.9 513.00,310.4 513.25,314.6 513.50,318.0 513.75,320.7 514.00,323.0 514.25,324.9 514.50,326.5 514.75,327.9 515.25,330.2 515.75,331.9 516.50,333.8 517.25,335.2 518.25,336.5 519.50,337.5 521.25,338.4 523.50,338.9 526.00,339.0 528.00,338.6 529.50,337.8 530.50,336.9 531.50,335.5 532.25,333.9 533.00,331.8 533.75,329.2 534.75,324.9 535.50,321.7 535.75,320.8 536.00,320.1 536.25,319.6 536.50,319.3 536.75,319.3 537.00,319.5 537.25,320.0 537.50,320.7 538.00,322.5 539.25,327.7 539.75,329.6 540.25,331.1 540.75,332.2 541.25,332.9 542.25,333.8 542.75,334.8 543.75,337.1 544.50,338.2" fill="none" stroke="#5b86cc" stroke-width="0.45" stroke-opacity="0.9"/>
</g>
<g style="filter:grayscale(1)">
<text x="473.2" y="327.2" font-size="6.7" font-weight="normal" letter-spacing="0.35" stroke="#1a1a1a" stroke-width="0.45" text-anchor="middle" fill="#1a1a1a">S15</text>
<text x="486.2" y="307.5" font-size="6.7" font-weight="normal" letter-spacing="0.35" stroke="#1a1a1a" stroke-width="0.45" text-anchor="middle" fill="#1a1a1a">P13</text>
<text x="497.4" y="301.0" font-size="6.7" font-weight="normal" letter-spacing="0.35" stroke="#1a1a1a" stroke-width="0.45" text-anchor="middle" fill="#1a1a1a">L15</text>
<text x="512.3" y="275.3" font-size="6.7" font-weight="normal" letter-spacing="0.35" stroke="#1a1a1a" stroke-width="0.45" text-anchor="middle" fill="#1a1a1a">O13<tspan font-size="5.7" dy="-0.3" stroke-width="0.6">+</tspan><tspan dy="0.3"></tspan></text>
<text x="512.3" y="284.5" font-size="6.7" font-weight="normal" letter-spacing="0.35" stroke="#1a1a1a" stroke-width="0.45" text-anchor="middle" fill="#1a1a1a">O15<tspan font-size="5.7" dy="-0.3" stroke-width="0.6">+</tspan><tspan dy="0.3"></tspan></text>
<text x="512.3" y="293.7" font-size="6.7" font-weight="normal" letter-spacing="0.35" stroke="#1a1a1a" stroke-width="0.45" text-anchor="middle" fill="#1a1a1a">Si6<tspan font-size="5.7" dy="-0.3" stroke-width="0.6">+</tspan><tspan dy="0.3"></tspan></text>
<text x="512.3" y="302.3" font-size="6.7" font-weight="normal" letter-spacing="0.35" stroke="#1a1a1a" stroke-width="0.45" text-anchor="middle" fill="#1a1a1a">V15</text>
<text x="539.2" y="268.8" font-size="6.7" font-weight="normal" letter-spacing="0.35" stroke="#1a1a1a" stroke-width="0.45" text-anchor="middle" fill="#1a1a1a">P6<tspan font-size="5.7" dy="-0.3" stroke-width="0.6">+</tspan><tspan dy="0.3"></tspan></text>
<text x="539.2" y="278.8" font-size="6.7" font-weight="normal" letter-spacing="0.35" stroke="#1a1a1a" stroke-width="0.45" text-anchor="middle" fill="#1a1a1a">V6<tspan font-size="5.7" dy="-0.3" stroke-width="0.6">+</tspan><tspan dy="0.3"></tspan></text>
<text x="539.5" y="287.9" font-size="6.7" font-weight="normal" letter-spacing="0.35" stroke="#1a1a1a" stroke-width="0.45" text-anchor="middle" fill="#1a1a1a">Se6</text>
<line x1="481.2" y1="318.6" x2="481.2" y2="344.8" stroke="#3a3a3a" stroke-width="1.2"/>
<line x1="492.7" y1="304.8" x2="492.7" y2="340.9" stroke="#3a3a3a" stroke-width="1.2"/>
<line x1="501.1" y1="304.8" x2="501.1" y2="340.9" stroke="#3a3a3a" stroke-width="1.2"/>
<line x1="524.3" y1="220" x2="524.3" y2="346.1" stroke="#3a3a3a" stroke-width="1.2"/>
</g>

<line x1="8" y1="176.4" x2="544.2" y2="176.4" stroke="#000" stroke-width="2.9"/>
<g stroke="#404040" stroke-width="1.4">
<line x1="316.7" y1="6.9" x2="316.7" y2="174"/>
<line x1="391.8" y1="6.9" x2="391.8" y2="174"/>
<line x1="481.3" y1="7.5" x2="481.3" y2="175"/>
</g>
<g stroke="#484848" stroke-width="1.7">
<line x1="104.6" y1="177" x2="104.6" y2="351.5"/>
<line x1="221" y1="177" x2="221" y2="352.6"/>
<line x1="356.2" y1="177" x2="356.2" y2="353.4"/>
<line x1="456.5" y1="177" x2="456.5" y2="353.5"/>
</g>

</svg>
</body></html>
